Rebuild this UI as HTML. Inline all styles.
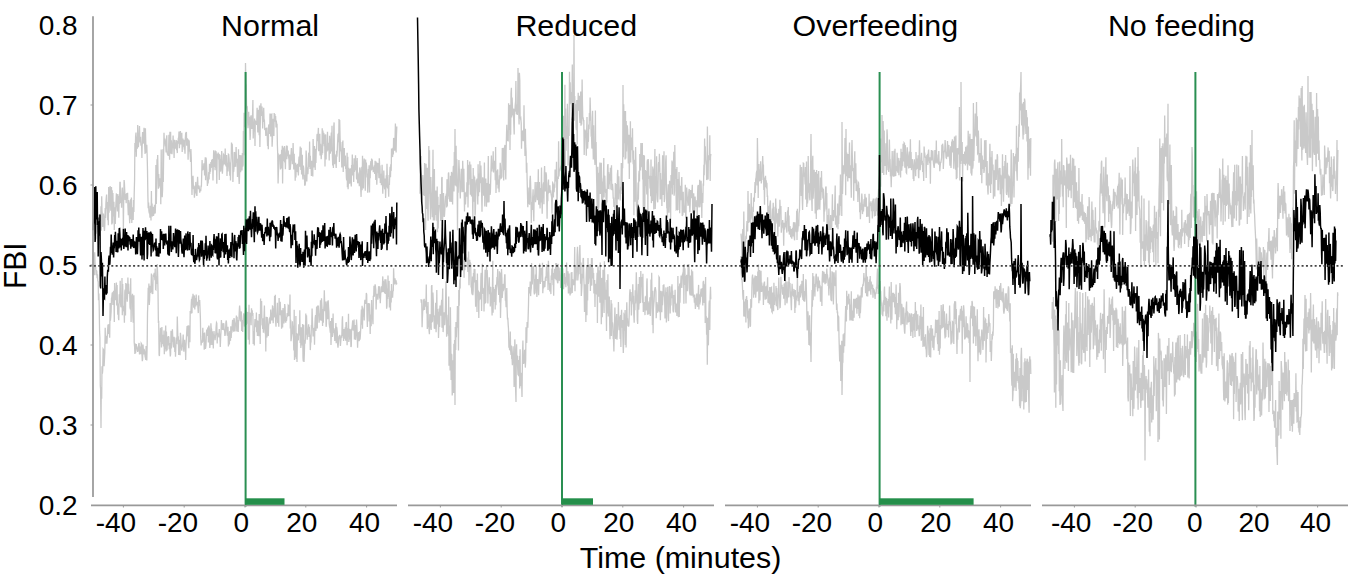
<!DOCTYPE html>
<html><head><meta charset="utf-8"><style>
html,body{margin:0;padding:0;background:#fff;}
body{width:1358px;height:583px;overflow:hidden;position:relative;font-family:"Liberation Sans",sans-serif;color:#000;}
svg{position:absolute;left:0;top:0;}
.t{position:absolute;white-space:nowrap;line-height:1;}
</style></head><body>
<svg width="1358" height="583" viewBox="0 0 1358 583"><polyline fill="none" stroke="#c9c9c9" stroke-width="1.3" stroke-linejoin="miter" points="94.0,235.7 94.3,233.4 94.7,212.3 95.0,226.9 95.4,217.0 95.7,217.9 96.1,233.7 96.4,220.4 96.8,206.7 97.1,226.5 97.5,217.9 97.8,226.1 98.2,232.0 98.5,220.9 98.9,216.7 99.2,214.7 99.6,221.4 99.9,214.8 100.3,214.3 100.6,221.3 101.0,206.3 101.3,230.8 101.7,196.2 102.0,210.8 102.4,214.8 102.7,227.0 103.1,220.9 103.4,213.6 103.8,217.0 104.1,227.6 104.5,230.9 104.8,225.1 105.2,208.0 105.5,218.0 105.9,203.9 106.2,198.7 106.6,194.6 106.9,207.6 107.3,209.2 107.6,220.2 108.0,202.1 108.3,225.3 108.7,187.1 109.0,212.7 109.4,204.5 109.7,204.3 110.1,186.0 110.4,195.7 110.8,210.7 111.1,199.3 111.5,187.1 111.8,224.4 112.2,190.2 112.5,223.5 112.9,192.9 113.2,205.8 113.6,216.5 113.9,201.7 114.3,230.1 114.6,207.2 115.0,209.7 115.3,223.9 115.7,209.5 116.0,201.7 116.4,193.4 116.7,206.6 117.1,205.7 117.4,211.5 117.8,194.0 118.1,196.2 118.5,206.3 118.8,217.7 119.2,195.9 119.5,204.1 119.9,182.4 120.2,182.4 120.6,201.7 120.9,202.9 121.3,200.1 121.6,207.8 122.0,190.2 122.3,187.5 122.7,197.6 123.0,193.8 123.4,228.4 123.7,199.5 124.1,180.0 124.4,183.0 124.8,191.7 125.1,199.9 125.5,197.7 125.8,193.9 126.2,203.3 126.5,194.5 126.9,193.2 127.2,198.7 127.6,192.7 127.9,205.7 128.3,215.1 128.6,200.0 129.0,204.8 129.3,214.5 129.7,223.3 130.0,205.3 130.4,201.0 130.7,199.5 131.1,219.2 131.4,197.6 131.8,222.9 132.1,207.3 132.5,209.7 132.8,208.6 133.2,220.1 133.5,199.9 133.9,212.1 134.2,193.7 134.6,179.5 134.9,143.1 135.3,151.8 135.6,136.5 136.0,132.5 136.3,156.8 136.7,136.5 137.0,137.5 137.4,148.7 137.7,125.0 138.1,140.8 138.4,147.2 138.8,140.5 139.1,136.4 139.5,125.9 139.8,138.7 140.2,142.4 140.5,136.7 140.9,145.1 141.2,145.5 141.6,143.9 141.9,158.0 142.3,137.9 142.6,132.0 143.0,137.0 143.3,142.9 143.7,142.5 144.0,127.8 144.4,132.6 144.7,145.7 145.1,153.9 145.4,128.3 145.8,143.5 146.1,152.1 146.5,151.9 146.8,144.7 147.2,157.5 147.5,170.1 147.9,195.9 148.2,208.2 148.6,202.6 148.9,210.8 149.3,213.5 149.6,210.8 150.0,217.6 150.3,205.7 150.7,207.6 151.0,220.5 151.4,190.9 151.7,211.3 152.1,203.4 152.4,216.4 152.8,207.6 153.1,206.8 153.5,216.0 153.8,214.0 154.2,213.4 154.5,204.8 154.9,206.1 155.2,213.5 155.6,201.4 155.9,164.9 156.3,204.0 156.6,190.4 157.0,159.3 157.3,164.8 157.7,155.0 158.0,171.3 158.4,188.8 158.7,174.1 159.1,184.5 159.4,186.2 159.8,178.2 160.1,187.8 160.5,178.7 160.8,204.3 161.2,149.4 161.5,180.2 161.9,173.9 162.2,197.3 162.6,189.6 162.9,149.2 163.3,182.1 163.6,158.7 164.0,132.7 164.3,144.1 164.7,138.5 165.0,140.3 165.4,146.5 165.7,145.0 166.1,152.4 166.4,139.2 166.8,135.3 167.1,151.9 167.5,154.7 167.8,152.9 168.2,155.9 168.5,154.3 168.9,134.8 169.2,142.1 169.6,159.8 169.9,131.7 170.3,141.9 170.6,131.7 171.0,153.8 171.3,140.4 171.7,145.4 172.0,154.2 172.4,145.8 172.7,147.2 173.1,135.5 173.4,146.7 173.8,148.7 174.1,157.9 174.5,139.7 174.8,143.3 175.2,146.0 175.5,148.5 175.9,147.4 176.2,140.0 176.6,150.1 176.9,145.8 177.3,153.1 177.6,140.7 178.0,143.7 178.3,138.4 178.7,137.6 179.0,131.5 179.4,148.3 179.7,141.1 180.1,136.8 180.4,131.0 180.8,144.4 181.1,141.3 181.5,143.7 181.8,132.8 182.2,152.0 182.5,143.1 182.9,138.6 183.2,145.4 183.6,146.2 183.9,139.8 184.3,149.6 184.6,145.3 185.0,153.8 185.3,139.1 185.7,132.5 186.0,137.3 186.4,131.9 186.7,145.8 187.1,139.6 187.4,138.4 187.8,142.1 188.1,159.8 188.5,139.6 188.8,140.8 189.2,141.0 189.5,151.1 189.9,151.7 190.2,154.7 190.6,162.0 190.9,149.1 191.3,158.6 191.6,178.8 192.0,195.0 192.3,176.4 192.7,187.3 193.0,175.8 193.4,187.4 193.7,186.9 194.1,190.1 194.4,197.7 194.8,192.7 195.1,185.9 195.5,193.1 195.8,181.9 196.2,192.2 196.5,194.3 196.9,195.9 197.2,186.5 197.6,176.9 197.9,184.4 198.3,186.7 198.6,189.2 199.0,185.5 199.3,187.7 199.7,192.7 200.0,190.2 200.4,189.1 200.7,191.1 201.1,185.5 201.4,186.7 201.8,171.1 202.1,160.0 202.5,170.4 202.8,167.5 203.2,169.1 203.5,168.7 203.9,163.4 204.2,166.3 204.6,175.5 204.9,164.1 205.3,157.3 205.6,180.3 206.0,157.6 206.3,160.3 206.7,168.8 207.0,174.5 207.4,186.0 207.7,181.2 208.1,183.5 208.4,178.7 208.8,172.0 209.1,179.5 209.5,163.8 209.8,174.0 210.2,164.5 210.5,171.6 210.9,162.1 211.2,167.9 211.6,161.4 211.9,159.7 212.3,167.1 212.6,159.1 213.0,180.4 213.3,164.5 213.7,150.3 214.0,152.4 214.4,167.0 214.7,158.8 215.1,170.3 215.4,150.4 215.8,167.7 216.1,151.3 216.5,161.3 216.8,183.8 217.2,153.7 217.5,156.0 217.9,155.8 218.2,152.6 218.6,159.4 218.9,155.8 219.3,180.1 219.6,155.0 220.0,155.4 220.3,166.2 220.7,171.6 221.0,158.9 221.4,168.9 221.7,150.9 222.1,169.7 222.4,173.8 222.8,166.7 223.1,164.9 223.5,154.5 223.8,155.0 224.2,164.5 224.5,161.1 224.9,163.9 225.2,148.4 225.6,165.5 225.9,159.7 226.3,166.6 226.6,155.1 227.0,175.9 227.3,162.8 227.7,168.8 228.0,171.4 228.4,154.1 228.7,154.3 229.1,158.5 229.4,165.6 229.8,175.6 230.1,162.5 230.5,180.4 230.8,163.3 231.2,157.9 231.5,142.5 231.9,147.8 232.2,143.7 232.6,153.9 232.9,181.9 233.3,167.4 233.6,172.0 234.0,168.3 234.3,152.1 234.7,167.1 235.0,152.7 235.4,152.9 235.7,166.8 236.1,147.0 236.4,157.5 236.8,162.6 237.1,159.3 237.5,176.9 237.8,158.7 238.2,171.8 238.5,149.2 238.9,177.4 239.2,184.0 239.6,175.6 239.9,155.0 240.3,158.2 240.6,172.1 241.0,164.2 241.3,155.2 241.7,162.4 242.0,170.6 242.4,152.9 242.7,166.7 243.1,164.9 243.4,130.9 243.8,155.3 244.1,112.7 244.5,127.0 244.8,121.5 245.2,122.8 245.5,63.0 245.9,83.6 246.2,85.3 246.6,107.4 246.9,108.6 247.3,107.9 247.6,121.0 248.0,128.1 248.3,124.4 248.7,111.8 249.0,125.3 249.4,116.9 249.7,124.6 250.1,139.9 250.4,134.2 250.8,116.6 251.1,115.4 251.5,123.3 251.8,128.9 252.2,127.5 252.5,117.7 252.9,100.1 253.2,138.4 253.6,124.7 253.9,131.5 254.3,123.9 254.6,118.6 255.0,146.0 255.3,121.0 255.7,121.5 256.0,123.1 256.4,121.2 256.7,125.0 257.1,107.7 257.4,119.0 257.8,132.6 258.1,116.3 258.5,109.7 258.8,116.4 259.2,135.3 259.5,105.6 259.9,146.9 260.2,128.1 260.6,110.4 260.9,103.2 261.3,111.8 261.6,115.9 262.0,106.6 262.3,113.0 262.7,128.5 263.0,111.7 263.4,120.3 263.7,107.8 264.1,121.9 264.4,119.6 264.8,130.1 265.1,129.5 265.5,128.0 265.8,135.9 266.2,127.9 266.5,130.7 266.9,127.6 267.2,135.4 267.6,146.0 267.9,137.9 268.3,149.2 268.6,126.2 269.0,124.5 269.3,126.0 269.7,133.9 270.0,113.6 270.4,125.1 270.7,136.4 271.1,113.7 271.4,115.5 271.8,114.9 272.1,146.7 272.5,137.4 272.8,126.1 273.2,118.7 273.5,120.8 273.9,136.1 274.2,113.1 274.6,120.0 274.9,114.1 275.3,121.8 275.6,115.9 276.0,127.4 276.3,120.6 276.7,124.8 277.0,123.7 277.4,145.2 277.7,153.4 278.1,183.5 278.4,172.6 278.8,164.1 279.1,155.3 279.5,156.0 279.8,155.7 280.2,155.3 280.5,169.5 280.9,164.0 281.2,168.4 281.6,149.7 281.9,163.4 282.3,145.7 282.6,183.6 283.0,150.9 283.3,147.5 283.7,161.3 284.0,157.1 284.4,145.9 284.7,162.6 285.1,159.1 285.4,169.3 285.8,153.5 286.1,149.3 286.5,145.6 286.8,159.2 287.2,145.7 287.5,156.1 287.9,154.8 288.2,150.6 288.6,158.1 288.9,158.2 289.3,170.1 289.6,154.6 290.0,156.9 290.3,169.7 290.7,163.5 291.0,154.7 291.4,148.1 291.7,160.4 292.1,154.2 292.4,164.3 292.8,157.1 293.1,143.1 293.5,159.0 293.8,169.6 294.2,153.8 294.5,167.0 294.9,167.1 295.2,180.8 295.6,162.8 295.9,177.6 296.3,167.2 296.7,164.6 297.0,170.8 297.4,171.3 297.7,163.8 298.1,170.6 298.4,175.4 298.8,160.0 299.1,156.6 299.5,166.8 299.8,156.6 300.2,146.5 300.5,158.9 300.9,169.9 301.2,147.8 301.6,174.4 301.9,160.2 302.3,154.8 302.6,174.8 303.0,179.5 303.3,165.6 303.7,168.2 304.0,174.9 304.4,175.3 304.7,185.0 305.1,185.0 305.4,183.5 305.8,172.3 306.1,150.6 306.5,157.9 306.8,181.4 307.2,168.2 307.5,168.3 307.9,174.1 308.2,168.3 308.6,153.8 308.9,152.6 309.3,167.1 309.6,141.5 310.0,168.9 310.3,155.8 310.7,165.2 311.0,161.9 311.4,175.9 311.7,160.7 312.1,173.3 312.4,163.7 312.8,176.4 313.1,139.1 313.5,154.8 313.8,167.6 314.2,147.0 314.5,146.0 314.9,160.0 315.2,170.1 315.6,149.1 315.9,162.9 316.3,148.5 316.6,149.7 317.0,134.8 317.3,134.1 317.7,141.3 318.0,134.8 318.4,127.9 318.7,151.2 319.1,138.7 319.4,136.5 319.8,133.8 320.1,155.6 320.5,143.8 320.8,146.8 321.2,159.3 321.5,153.5 321.9,154.9 322.2,128.2 322.6,153.2 322.9,130.5 323.3,144.0 323.6,132.9 324.0,134.0 324.3,146.3 324.7,134.7 325.0,166.6 325.4,138.2 325.7,134.4 326.1,159.6 326.4,146.0 326.8,149.1 327.1,151.5 327.5,131.7 327.8,149.3 328.2,146.1 328.5,150.5 328.9,142.8 329.2,160.6 329.6,135.7 329.9,140.9 330.3,153.8 330.6,145.7 331.0,142.7 331.3,132.4 331.7,151.4 332.0,125.7 332.4,156.9 332.7,165.6 333.1,157.3 333.4,168.0 333.8,126.3 334.1,122.4 334.5,164.3 334.8,154.1 335.2,162.3 335.5,155.2 335.9,163.8 336.2,168.0 336.6,150.7 336.9,156.7 337.3,150.6 337.6,142.6 338.0,134.4 338.3,133.9 338.7,142.3 339.0,119.0 339.4,162.1 339.7,120.0 340.1,138.5 340.4,143.7 340.8,151.5 341.1,150.3 341.5,155.2 341.8,167.6 342.2,141.9 342.5,152.8 342.9,140.5 343.2,171.9 343.6,160.9 343.9,162.2 344.3,148.1 344.6,166.1 345.0,157.8 345.3,155.4 345.7,168.9 346.0,165.8 346.4,177.6 346.7,180.5 347.1,152.7 347.4,187.2 347.8,156.7 348.1,189.2 348.5,180.1 348.8,167.7 349.2,174.6 349.5,183.7 349.9,181.2 350.2,169.4 350.6,169.1 350.9,182.5 351.3,186.5 351.6,164.9 352.0,169.6 352.3,154.4 352.7,175.6 353.0,165.9 353.4,165.4 353.7,182.0 354.1,158.3 354.4,172.0 354.8,169.3 355.1,169.9 355.5,155.3 355.8,166.5 356.2,160.8 356.5,178.2 356.9,178.9 357.2,157.9 357.6,182.2 357.9,183.3 358.3,174.3 358.6,183.3 359.0,172.4 359.3,186.2 359.7,167.6 360.0,168.2 360.4,171.4 360.7,188.2 361.1,196.9 361.4,180.3 361.8,166.7 362.1,190.3 362.5,155.8 362.8,187.1 363.2,180.3 363.5,188.5 363.9,161.6 364.2,158.5 364.6,166.9 364.9,163.9 365.3,190.8 365.6,159.5 366.0,170.2 366.3,162.5 366.7,169.3 367.0,177.5 367.4,173.8 367.7,192.8 368.1,182.7 368.4,168.9 368.8,172.9 369.1,165.2 369.5,192.6 369.8,168.6 370.2,178.3 370.5,164.5 370.9,161.1 371.2,170.6 371.6,158.6 371.9,169.8 372.3,159.4 372.6,167.7 373.0,166.7 373.3,172.2 373.7,166.9 374.0,170.4 374.4,165.2 374.7,174.0 375.1,160.8 375.4,164.5 375.8,180.0 376.1,161.4 376.5,173.6 376.8,184.7 377.2,172.0 377.5,162.8 377.9,172.6 378.2,163.0 378.6,171.0 378.9,178.3 379.3,158.3 379.6,164.9 380.0,166.1 380.3,183.0 380.7,175.1 381.0,173.7 381.4,185.2 381.7,178.4 382.1,164.8 382.4,179.4 382.8,193.7 383.1,179.3 383.5,184.7 383.8,170.5 384.2,184.8 384.5,188.4 384.9,189.2 385.2,178.5 385.6,198.0 385.9,187.9 386.3,175.3 386.6,187.6 387.0,163.7 387.3,176.7 387.7,187.5 388.0,187.3 388.4,188.4 388.7,196.7 389.1,174.9 389.4,184.9 389.8,172.5 390.1,166.8 390.5,177.2 390.8,164.2 391.2,170.9 391.5,148.5 391.9,156.4 392.2,154.7 392.6,157.1 392.9,147.7 393.3,154.6 393.6,138.0 394.0,138.9 394.3,142.0 394.7,150.8 395.0,140.9 395.4,123.4 395.7,134.2 396.1,152.5 396.4,137.3 396.8,126.4"/>
<polyline fill="none" stroke="#c9c9c9" stroke-width="1.3" stroke-linejoin="miter" points="94.0,254.4 94.3,275.3 94.7,252.3 95.0,262.0 95.4,268.3 95.7,266.7 96.1,275.2 96.4,270.3 96.8,271.4 97.1,278.2 97.5,274.4 97.8,280.8 98.2,281.7 98.5,300.3 98.9,293.6 99.2,306.2 99.6,331.9 99.9,337.6 100.3,385.9 100.6,389.3 101.0,428.0 101.3,386.9 101.7,398.7 102.0,366.3 102.4,373.7 102.7,370.3 103.1,349.0 103.4,349.5 103.8,351.0 104.1,366.2 104.5,358.5 104.8,352.4 105.2,327.8 105.5,343.6 105.9,342.1 106.2,336.9 106.6,336.0 106.9,343.6 107.3,336.5 107.6,330.5 108.0,324.5 108.3,333.8 108.7,332.0 109.0,324.1 109.4,333.8 109.7,337.7 110.1,303.0 110.4,320.7 110.8,316.5 111.1,311.8 111.5,298.2 111.8,297.7 112.2,293.2 112.5,293.0 112.9,304.9 113.2,294.8 113.6,290.9 113.9,296.6 114.3,322.1 114.6,283.0 115.0,292.6 115.3,300.2 115.7,294.3 116.0,298.6 116.4,282.4 116.7,305.4 117.1,284.9 117.4,302.7 117.8,314.8 118.1,303.5 118.5,318.5 118.8,320.2 119.2,294.2 119.5,303.2 119.9,295.0 120.2,280.7 120.6,304.2 120.9,307.1 121.3,296.0 121.6,307.5 122.0,278.1 122.3,315.3 122.7,283.9 123.0,307.4 123.4,305.8 123.7,311.5 124.1,310.3 124.4,322.7 124.8,292.4 125.1,289.5 125.5,315.5 125.8,283.0 126.2,299.3 126.5,283.8 126.9,292.7 127.2,301.8 127.6,294.1 127.9,277.6 128.3,293.6 128.6,283.9 129.0,293.9 129.3,291.5 129.7,293.1 130.0,307.2 130.4,309.3 130.7,278.2 131.1,322.1 131.4,295.3 131.8,298.7 132.1,302.5 132.5,293.8 132.8,315.2 133.2,322.6 133.5,301.0 133.9,295.3 134.2,342.3 134.6,346.8 134.9,354.0 135.3,343.6 135.6,353.2 136.0,345.6 136.3,344.2 136.7,347.6 137.0,347.4 137.4,350.6 137.7,351.8 138.1,350.1 138.4,348.1 138.8,343.8 139.1,342.9 139.5,354.5 139.8,349.9 140.2,347.7 140.5,346.7 140.9,354.1 141.2,343.3 141.6,344.0 141.9,352.8 142.3,361.1 142.6,359.4 143.0,344.6 143.3,349.0 143.7,354.5 144.0,348.9 144.4,350.4 144.7,352.1 145.1,356.7 145.4,357.6 145.8,359.8 146.1,345.9 146.5,355.2 146.8,360.5 147.2,344.1 147.5,312.9 147.9,301.9 148.2,287.7 148.6,295.0 148.9,283.6 149.3,305.0 149.6,300.1 150.0,285.8 150.3,292.7 150.7,291.6 151.0,290.5 151.4,273.5 151.7,287.0 152.1,293.8 152.4,285.6 152.8,294.1 153.1,275.2 153.5,275.1 153.8,275.6 154.2,272.9 154.5,275.0 154.9,280.1 155.2,268.4 155.6,289.5 155.9,289.8 156.3,276.2 156.6,283.9 157.0,268.7 157.3,264.0 157.7,276.2 158.0,290.5 158.4,323.1 158.7,320.7 159.1,354.7 159.4,356.1 159.8,341.4 160.1,337.2 160.5,327.8 160.8,341.6 161.2,338.9 161.5,347.5 161.9,327.0 162.2,341.6 162.6,343.9 162.9,334.8 163.3,344.3 163.6,346.5 164.0,330.6 164.3,354.2 164.7,345.4 165.0,349.2 165.4,334.8 165.7,325.5 166.1,351.4 166.4,331.6 166.8,344.7 167.1,350.5 167.5,336.6 167.8,339.3 168.2,345.4 168.5,336.1 168.9,337.4 169.2,349.3 169.6,343.1 169.9,349.9 170.3,356.5 170.6,354.2 171.0,330.8 171.3,348.4 171.7,335.0 172.0,341.8 172.4,329.2 172.7,335.8 173.1,344.2 173.4,347.5 173.8,340.2 174.1,336.7 174.5,340.4 174.8,352.1 175.2,345.9 175.5,356.8 175.9,346.1 176.2,337.5 176.6,343.2 176.9,343.4 177.3,316.4 177.6,328.1 178.0,340.7 178.3,336.2 178.7,354.9 179.0,351.6 179.4,339.8 179.7,347.4 180.1,355.3 180.4,332.7 180.8,336.5 181.1,343.2 181.5,347.9 181.8,350.7 182.2,344.9 182.5,346.9 182.9,339.3 183.2,334.6 183.6,349.0 183.9,351.7 184.3,344.5 184.6,339.8 185.0,349.1 185.3,345.2 185.7,360.0 186.0,345.3 186.4,338.1 186.7,332.2 187.1,326.1 187.4,335.7 187.8,335.6 188.1,325.3 188.5,344.2 188.8,348.3 189.2,325.6 189.5,337.5 189.9,342.2 190.2,310.9 190.6,311.9 190.9,312.3 191.3,302.9 191.6,298.9 192.0,313.2 192.3,296.4 192.7,302.8 193.0,293.8 193.4,303.2 193.7,307.7 194.1,302.2 194.4,295.4 194.8,309.5 195.1,298.7 195.5,298.6 195.8,306.4 196.2,294.6 196.5,303.8 196.9,301.9 197.2,305.3 197.6,301.7 197.9,307.8 198.3,313.1 198.6,295.4 199.0,304.9 199.3,304.6 199.7,300.1 200.0,308.1 200.4,318.0 200.7,336.9 201.1,345.4 201.4,341.7 201.8,340.5 202.1,343.0 202.5,338.8 202.8,327.8 203.2,341.7 203.5,333.9 203.9,333.1 204.2,349.8 204.6,332.5 204.9,343.3 205.3,348.9 205.6,348.0 206.0,345.0 206.3,336.3 206.7,329.6 207.0,335.7 207.4,334.3 207.7,328.5 208.1,327.8 208.4,342.5 208.8,325.6 209.1,326.9 209.5,330.1 209.8,347.9 210.2,342.5 210.5,345.0 210.9,323.3 211.2,328.4 211.6,329.1 211.9,345.1 212.3,331.3 212.6,338.5 213.0,337.4 213.3,348.4 213.7,334.7 214.0,331.1 214.4,337.4 214.7,335.3 215.1,340.1 215.4,336.8 215.8,333.8 216.1,327.3 216.5,322.6 216.8,323.2 217.2,343.5 217.5,332.8 217.9,337.0 218.2,336.6 218.6,335.6 218.9,334.5 219.3,329.0 219.6,336.2 220.0,338.5 220.3,346.9 220.7,336.2 221.0,331.7 221.4,320.0 221.7,329.8 222.1,323.6 222.4,328.2 222.8,329.9 223.1,324.6 223.5,325.2 223.8,323.2 224.2,330.4 224.5,328.9 224.9,335.9 225.2,335.0 225.6,329.5 225.9,322.4 226.3,320.5 226.6,323.8 227.0,332.8 227.3,335.8 227.7,333.8 228.0,326.7 228.4,346.4 228.7,342.1 229.1,332.6 229.4,344.5 229.8,331.0 230.1,338.7 230.5,340.8 230.8,326.3 231.2,337.9 231.5,331.5 231.9,332.8 232.2,325.5 232.6,319.8 232.9,330.5 233.3,327.8 233.6,331.8 234.0,318.0 234.3,319.7 234.7,329.9 235.0,331.4 235.4,324.1 235.7,323.5 236.1,320.8 236.4,315.6 236.8,331.5 237.1,316.7 237.5,329.2 237.8,320.0 238.2,332.0 238.5,321.6 238.9,320.4 239.2,312.5 239.6,305.6 239.9,309.4 240.3,318.5 240.6,321.5 241.0,313.5 241.3,311.4 241.7,330.9 242.0,322.6 242.4,319.9 242.7,332.0 243.1,321.3 243.4,316.1 243.8,313.4 244.1,315.9 244.5,326.6 244.8,320.0 245.2,320.3 245.5,310.7 245.9,307.8 246.2,325.0 246.6,311.5 246.9,319.3 247.3,323.8 247.6,312.0 248.0,321.0 248.3,339.7 248.7,329.7 249.0,304.8 249.4,344.5 249.7,313.3 250.1,313.2 250.4,313.7 250.8,314.7 251.1,325.2 251.5,308.2 251.8,312.8 252.2,310.3 252.5,315.7 252.9,312.9 253.2,344.1 253.6,330.9 253.9,332.2 254.3,345.6 254.6,326.7 255.0,319.1 255.3,325.5 255.7,322.2 256.0,327.2 256.4,312.6 256.7,332.2 257.1,320.3 257.4,335.9 257.8,331.8 258.1,320.8 258.5,324.5 258.8,336.3 259.2,314.1 259.5,325.4 259.9,317.7 260.2,343.9 260.6,298.4 260.9,318.1 261.3,312.8 261.6,301.0 262.0,324.0 262.3,323.7 262.7,328.9 263.0,318.3 263.4,332.7 263.7,325.9 264.1,314.4 264.4,305.6 264.8,326.6 265.1,333.4 265.5,332.2 265.8,351.6 266.2,316.7 266.5,327.8 266.9,337.6 267.2,317.0 267.6,325.9 267.9,328.3 268.3,336.1 268.6,325.9 269.0,323.0 269.3,319.0 269.7,318.2 270.0,321.9 270.4,323.7 270.7,309.6 271.1,316.9 271.4,318.8 271.8,320.4 272.1,316.6 272.5,306.2 272.8,306.5 273.2,323.3 273.5,308.3 273.9,309.1 274.2,317.4 274.6,296.0 274.9,316.7 275.3,294.8 275.6,320.9 276.0,326.7 276.3,317.5 276.7,318.0 277.0,312.6 277.4,302.8 277.7,323.0 278.1,321.1 278.4,317.1 278.8,326.7 279.1,298.0 279.5,307.3 279.8,315.1 280.2,301.7 280.5,308.8 280.9,314.0 281.2,316.5 281.6,328.7 281.9,310.3 282.3,314.7 282.6,327.6 283.0,308.0 283.3,320.8 283.7,321.4 284.0,323.4 284.4,310.2 284.7,304.0 285.1,307.1 285.4,320.8 285.8,322.6 286.1,317.1 286.5,321.0 286.8,317.6 287.2,313.1 287.5,316.0 287.9,315.3 288.2,305.3 288.6,305.8 288.9,316.3 289.3,306.9 289.6,312.5 290.0,294.6 290.3,328.6 290.7,319.7 291.0,341.3 291.4,337.7 291.7,334.6 292.1,333.6 292.4,321.2 292.8,330.7 293.1,325.8 293.5,338.7 293.8,350.5 294.2,309.7 294.5,359.9 294.9,336.3 295.2,337.1 295.6,357.2 295.9,316.1 296.3,359.1 296.7,332.9 297.0,362.0 297.4,333.7 297.7,336.1 298.1,340.4 298.4,339.3 298.8,324.3 299.1,335.3 299.5,333.9 299.8,310.2 300.2,343.1 300.5,338.1 300.9,347.9 301.2,327.3 301.6,337.2 301.9,328.3 302.3,345.5 302.6,323.9 303.0,357.9 303.3,361.4 303.7,324.7 304.0,362.0 304.4,352.1 304.7,340.1 305.1,343.6 305.4,338.8 305.8,313.6 306.1,334.8 306.5,315.3 306.8,325.4 307.2,339.7 307.5,332.4 307.9,333.3 308.2,329.2 308.6,324.2 308.9,337.0 309.3,326.7 309.6,333.6 310.0,336.7 310.3,350.1 310.7,342.3 311.0,342.1 311.4,324.9 311.7,328.2 312.1,308.5 312.4,320.3 312.8,330.0 313.1,336.5 313.5,333.1 313.8,328.5 314.2,328.2 314.5,344.8 314.9,325.6 315.2,318.1 315.6,315.1 315.9,331.1 316.3,316.7 316.6,306.6 317.0,307.8 317.3,328.4 317.7,305.5 318.0,308.5 318.4,305.5 318.7,311.5 319.1,322.8 319.4,317.7 319.8,313.5 320.1,320.1 320.5,300.3 320.8,301.7 321.2,320.7 321.5,298.3 321.9,306.0 322.2,313.5 322.6,325.9 322.9,309.0 323.3,322.7 323.6,311.0 324.0,305.1 324.3,290.2 324.7,304.0 325.0,311.3 325.4,301.6 325.7,307.7 326.1,326.8 326.4,324.4 326.8,304.9 327.1,301.3 327.5,316.1 327.8,319.2 328.2,300.2 328.5,306.6 328.9,311.7 329.2,324.0 329.6,327.2 329.9,328.3 330.3,332.6 330.6,321.1 331.0,345.0 331.3,333.1 331.7,318.0 332.0,328.7 332.4,337.0 332.7,334.2 333.1,313.5 333.4,333.0 333.8,329.9 334.1,329.5 334.5,334.8 334.8,340.9 335.2,330.1 335.5,331.4 335.9,323.0 336.2,343.2 336.6,326.9 336.9,328.4 337.3,332.4 337.6,343.9 338.0,347.6 338.3,344.2 338.7,338.6 339.0,335.8 339.4,338.7 339.7,334.7 340.1,338.6 340.4,345.9 340.8,341.0 341.1,337.7 341.5,335.4 341.8,337.7 342.2,320.8 342.5,316.3 342.9,336.0 343.2,329.0 343.6,340.9 343.9,335.5 344.3,329.1 344.6,338.6 345.0,331.4 345.3,327.4 345.7,340.7 346.0,322.8 346.4,322.7 346.7,332.6 347.1,345.2 347.4,337.1 347.8,328.3 348.1,335.1 348.5,313.7 348.8,341.9 349.2,338.8 349.5,328.7 349.9,336.4 350.2,339.5 350.6,329.3 350.9,346.9 351.3,346.1 351.6,329.4 352.0,328.3 352.3,325.0 352.7,320.4 353.0,330.6 353.4,329.1 353.7,330.1 354.1,319.4 354.4,339.5 354.8,330.3 355.1,325.0 355.5,339.8 355.8,337.4 356.2,331.5 356.5,319.6 356.9,326.3 357.2,334.4 357.6,347.8 357.9,337.2 358.3,333.3 358.6,332.3 359.0,341.0 359.3,340.3 359.7,331.2 360.0,339.7 360.4,335.3 360.7,328.8 361.1,317.1 361.4,309.5 361.8,324.8 362.1,305.8 362.5,328.7 362.8,307.6 363.2,316.7 363.5,310.6 363.9,310.1 364.2,320.5 364.6,302.8 364.9,299.9 365.3,301.6 365.6,302.9 366.0,303.8 366.3,293.0 366.7,294.7 367.0,316.3 367.4,326.9 367.7,303.2 368.1,307.7 368.4,307.9 368.8,303.1 369.1,321.5 369.5,303.6 369.8,315.7 370.2,333.9 370.5,314.4 370.9,320.4 371.2,326.3 371.6,300.1 371.9,310.7 372.3,309.2 372.6,318.3 373.0,324.2 373.3,295.8 373.7,296.6 374.0,285.8 374.4,296.8 374.7,291.1 375.1,284.3 375.4,286.0 375.8,290.0 376.1,309.6 376.5,297.2 376.8,293.8 377.2,295.4 377.5,294.9 377.9,299.7 378.2,294.4 378.6,286.4 378.9,287.2 379.3,286.2 379.6,298.6 380.0,293.7 380.3,303.3 380.7,294.3 381.0,288.0 381.4,286.3 381.7,292.5 382.1,290.4 382.4,285.8 382.8,276.4 383.1,291.9 383.5,288.8 383.8,282.3 384.2,283.0 384.5,293.0 384.9,279.3 385.2,294.1 385.6,283.5 385.9,279.3 386.3,284.9 386.6,308.7 387.0,305.9 387.3,288.5 387.7,298.9 388.0,275.6 388.4,296.9 388.7,281.8 389.1,281.7 389.4,307.4 389.8,299.8 390.1,299.4 390.5,310.4 390.8,290.8 391.2,302.4 391.5,284.0 391.9,294.5 392.2,292.3 392.6,297.6 392.9,291.2 393.3,290.7 393.6,268.3 394.0,279.9 394.3,282.9 394.7,283.6 395.0,278.2 395.4,282.8 395.7,283.6 396.1,280.3 396.4,284.5 396.8,282.6"/>
<polyline fill="none" stroke="#c9c9c9" stroke-width="1.3" stroke-linejoin="miter" points="420.0,193.8 420.4,149.5 420.7,176.1 421.1,156.1 421.4,184.4 421.8,202.9 422.1,185.8 422.5,183.5 422.8,175.1 423.2,183.0 423.5,195.0 423.9,184.3 424.2,195.9 424.6,162.9 424.9,194.1 425.3,172.4 425.6,229.9 426.0,163.8 426.3,176.1 426.7,172.9 427.0,208.9 427.4,167.7 427.7,207.6 428.1,220.7 428.4,186.1 428.8,146.0 429.1,193.8 429.5,150.3 429.8,195.9 430.2,205.1 430.5,219.4 430.9,177.1 431.2,191.6 431.6,199.9 431.9,207.1 432.3,217.2 432.6,192.9 433.0,149.8 433.3,220.5 433.7,214.0 434.0,211.2 434.4,169.0 434.7,220.4 435.1,211.9 435.4,208.4 435.8,190.5 436.1,214.9 436.5,197.0 436.8,220.8 437.2,186.6 437.5,232.3 437.9,196.7 438.2,228.6 438.6,213.9 438.9,210.7 439.3,205.1 439.6,206.5 440.0,204.9 440.3,194.0 440.7,220.7 441.0,219.9 441.4,207.6 441.7,178.1 442.1,177.1 442.4,226.0 442.8,214.6 443.1,205.1 443.5,193.1 443.8,207.9 444.2,217.0 444.5,215.4 444.9,208.7 445.2,201.2 445.6,195.8 445.9,200.6 446.3,193.5 446.6,207.4 447.0,179.2 447.3,206.5 447.7,182.3 448.0,196.6 448.4,173.2 448.7,172.4 449.1,199.2 449.4,193.4 449.8,201.7 450.1,196.2 450.5,175.7 450.8,188.8 451.2,202.1 451.5,171.9 451.9,173.8 452.2,175.8 452.6,204.5 452.9,181.1 453.3,166.7 453.6,165.9 454.0,191.5 454.3,152.0 454.7,176.2 455.0,129.0 455.4,185.6 455.7,178.4 456.1,145.8 456.4,186.4 456.8,159.3 457.1,178.8 457.5,230.2 457.8,179.3 458.2,192.8 458.5,176.1 458.9,160.0 459.2,167.6 459.6,174.2 459.9,187.3 460.3,198.5 460.6,181.8 461.0,186.7 461.3,168.7 461.7,186.2 462.0,192.2 462.4,180.8 462.7,160.7 463.1,175.1 463.4,191.9 463.8,168.8 464.1,184.2 464.5,211.5 464.8,193.0 465.2,193.1 465.5,204.5 465.9,194.4 466.2,191.7 466.6,196.7 466.9,182.3 467.3,193.9 467.6,160.0 468.0,207.6 468.3,179.2 468.7,184.7 469.0,164.8 469.4,178.7 469.7,161.5 470.1,173.1 470.4,194.7 470.8,164.6 471.1,178.4 471.5,196.5 471.8,193.3 472.2,178.9 472.5,195.7 472.9,220.4 473.2,168.1 473.6,199.7 473.9,175.5 474.3,201.7 474.6,176.7 475.0,215.7 475.3,213.7 475.7,198.0 476.0,183.0 476.4,179.9 476.7,180.8 477.1,178.5 477.4,190.4 477.8,204.6 478.1,164.2 478.5,196.3 478.8,173.6 479.2,179.2 479.5,192.2 479.9,160.9 480.2,176.6 480.6,183.2 480.9,165.4 481.3,179.3 481.6,192.0 482.0,211.8 482.3,192.8 482.7,177.2 483.0,179.9 483.4,184.7 483.7,195.7 484.1,192.6 484.4,162.4 484.8,206.4 485.1,188.9 485.5,188.7 485.8,178.6 486.2,191.9 486.5,206.8 486.9,183.0 487.2,188.0 487.6,202.5 487.9,190.6 488.3,156.0 488.6,193.1 489.0,202.4 489.3,183.7 489.7,190.2 490.0,195.0 490.4,192.2 490.7,180.2 491.1,165.2 491.4,155.6 491.8,171.5 492.1,165.7 492.5,165.9 492.8,168.7 493.2,151.2 493.5,172.5 493.9,166.3 494.2,160.7 494.6,166.7 494.9,164.8 495.3,180.2 495.6,147.1 496.0,192.9 496.3,176.5 496.7,184.7 497.0,170.6 497.4,176.3 497.7,169.4 498.1,188.5 498.4,179.4 498.8,185.9 499.1,192.3 499.5,175.2 499.8,180.3 500.2,162.7 500.5,166.1 500.9,174.9 501.2,178.7 501.6,175.1 501.9,177.4 502.3,148.0 502.6,159.1 503.0,157.3 503.3,147.8 503.7,180.4 504.0,155.7 504.4,169.9 504.7,146.0 505.1,145.1 505.4,165.4 505.8,179.5 506.1,151.0 506.5,135.5 506.8,124.8 507.2,140.9 507.5,130.7 507.9,132.3 508.2,141.6 508.6,103.2 508.9,130.1 509.3,112.8 509.6,105.1 510.0,150.0 510.3,104.8 510.7,134.8 511.0,93.2 511.4,87.7 511.7,117.5 512.1,97.6 512.4,105.4 512.8,115.5 513.1,108.7 513.5,111.5 513.8,123.7 514.2,134.4 514.5,108.8 514.9,111.6 515.2,105.3 515.6,101.2 515.9,81.0 516.3,114.2 516.6,107.7 517.0,104.5 517.3,114.9 517.7,103.8 518.0,68.0 518.4,101.5 518.7,110.9 519.1,124.5 519.4,72.8 519.8,80.4 520.1,116.8 520.5,118.6 520.8,118.1 521.2,123.2 521.5,148.7 521.9,130.9 522.2,135.6 522.6,140.6 522.9,130.3 523.3,140.7 523.6,140.7 524.0,105.3 524.3,132.2 524.7,140.3 525.0,156.1 525.4,128.8 525.7,145.9 526.1,151.8 526.4,172.7 526.8,162.8 527.1,178.4 527.5,194.4 527.8,207.3 528.2,197.3 528.5,203.9 528.9,187.5 529.2,188.5 529.6,204.8 529.9,180.8 530.3,175.8 530.6,182.7 531.0,197.4 531.3,223.0 531.7,204.3 532.0,202.1 532.4,209.9 532.7,197.7 533.1,189.3 533.4,204.0 533.8,221.2 534.1,200.1 534.5,196.8 534.8,194.1 535.2,182.1 535.5,202.2 535.9,196.7 536.2,195.9 536.6,190.8 536.9,182.0 537.3,200.2 537.6,189.8 538.0,193.0 538.3,169.2 538.7,204.7 539.0,195.8 539.4,181.9 539.7,199.8 540.1,208.4 540.4,196.2 540.8,188.0 541.1,202.5 541.5,167.5 541.8,193.7 542.2,213.8 542.5,193.9 542.9,198.3 543.2,184.9 543.6,182.3 543.9,204.2 544.3,173.4 544.6,166.0 545.0,181.4 545.3,191.5 545.7,179.7 546.0,172.3 546.4,175.4 546.7,196.9 547.1,218.8 547.4,197.1 547.8,201.2 548.1,183.3 548.5,179.5 548.8,192.7 549.2,192.3 549.5,189.9 549.9,185.4 550.2,192.6 550.6,190.3 550.9,193.0 551.3,195.5 551.6,197.4 552.0,213.7 552.3,199.9 552.7,182.7 553.0,183.1 553.4,197.5 553.7,184.3 554.1,192.3 554.4,186.8 554.8,186.9 555.1,169.4 555.5,174.3 555.8,177.4 556.2,181.4 556.5,161.7 556.9,206.4 557.2,202.6 557.6,176.6 557.9,177.2 558.3,179.1 558.6,141.3 559.0,176.5 559.3,170.8 559.7,170.5 560.0,170.5 560.4,168.4 560.7,166.8 561.1,167.4 561.4,137.9 561.8,162.4 562.1,155.2 562.5,155.9 562.8,141.9 563.2,136.4 563.5,115.7 563.9,137.0 564.2,138.1 564.6,139.9 564.9,84.7 565.3,166.6 565.6,108.5 566.0,150.7 566.3,130.4 566.7,126.0 567.0,138.9 567.4,103.8 567.7,116.8 568.1,165.4 568.4,130.8 568.8,127.8 569.1,136.0 569.5,71.7 569.8,104.3 570.2,82.2 570.5,103.1 570.9,91.9 571.2,98.5 571.6,120.2 571.9,102.0 572.3,64.6 572.6,103.3 573.0,97.8 573.3,115.6 573.7,101.6 574.0,35.0 574.4,120.8 574.7,96.1 575.1,107.3 575.4,104.4 575.8,105.4 576.1,127.3 576.5,130.1 576.8,100.0 577.2,144.5 577.5,102.2 577.9,110.9 578.2,92.7 578.6,110.7 578.9,102.7 579.3,95.7 579.6,114.8 580.0,122.9 580.3,117.5 580.7,91.5 581.0,125.8 581.4,120.1 581.7,124.5 582.1,79.6 582.4,101.0 582.8,118.7 583.1,117.4 583.5,121.1 583.8,120.1 584.2,155.1 584.5,141.0 584.9,129.6 585.2,137.6 585.6,130.6 585.9,134.9 586.3,155.7 586.6,134.6 587.0,116.9 587.3,145.3 587.7,148.6 588.0,133.3 588.4,141.9 588.7,124.4 589.1,129.2 589.4,112.9 589.8,120.6 590.1,97.4 590.5,111.2 590.8,116.9 591.2,136.8 591.5,135.6 591.9,148.6 592.2,143.3 592.6,110.8 592.9,137.3 593.3,159.6 593.6,125.2 594.0,156.0 594.3,144.1 594.7,159.4 595.0,164.9 595.4,110.6 595.7,159.5 596.1,142.0 596.4,167.9 596.8,185.7 597.1,208.0 597.5,204.6 597.8,166.8 598.2,196.9 598.5,209.4 598.9,206.5 599.2,172.7 599.6,177.4 599.9,162.6 600.3,193.9 600.6,188.0 601.0,172.5 601.3,162.7 601.7,204.7 602.0,181.5 602.4,204.2 602.7,214.1 603.1,179.1 603.4,177.4 603.8,158.1 604.1,197.4 604.5,176.2 604.8,176.3 605.2,188.6 605.5,191.3 605.9,190.7 606.2,212.4 606.6,195.4 606.9,202.6 607.3,181.7 607.6,166.1 608.0,164.0 608.3,189.0 608.7,172.1 609.0,184.1 609.4,173.8 609.7,176.7 610.1,189.5 610.4,167.7 610.8,180.6 611.1,175.2 611.5,165.2 611.8,189.6 612.2,189.8 612.5,183.9 612.9,189.4 613.2,198.8 613.6,197.5 613.9,206.9 614.3,205.3 614.6,202.0 615.0,218.1 615.3,182.9 615.7,199.2 616.0,193.0 616.4,183.9 616.7,207.9 617.1,204.5 617.4,174.6 617.8,169.9 618.1,190.3 618.5,199.4 618.8,176.3 619.2,193.1 619.5,189.7 619.9,190.7 620.2,200.4 620.6,186.7 620.9,194.0 621.3,163.0 621.6,179.9 622.0,190.6 622.3,163.1 622.7,168.3 623.0,85.0 623.4,157.3 623.7,104.2 624.1,140.3 624.4,143.1 624.8,110.9 625.1,159.6 625.5,111.1 625.8,158.5 626.2,121.0 626.5,151.6 626.9,131.5 627.2,125.4 627.6,129.3 627.9,141.2 628.3,163.5 628.6,145.0 629.0,134.7 629.3,179.0 629.7,141.7 630.0,159.7 630.4,121.2 630.7,162.5 631.1,137.5 631.4,147.3 631.8,150.1 632.1,147.7 632.5,128.2 632.8,157.6 633.2,164.1 633.5,150.6 633.9,215.2 634.2,159.7 634.6,171.0 634.9,201.7 635.3,172.3 635.6,146.9 636.0,167.4 636.3,204.8 636.7,207.9 637.0,216.1 637.4,216.7 637.7,195.8 638.1,182.5 638.4,199.8 638.8,175.0 639.1,170.9 639.5,181.4 639.8,154.0 640.2,155.7 640.5,170.4 640.9,143.0 641.2,163.6 641.6,153.9 641.9,167.3 642.3,143.0 642.6,179.5 643.0,167.5 643.3,214.4 643.7,155.0 644.0,156.7 644.4,156.5 644.7,215.9 645.1,180.9 645.4,169.9 645.8,185.9 646.1,171.0 646.5,185.5 646.8,194.6 647.2,162.0 647.5,159.6 647.9,215.1 648.2,159.0 648.6,165.6 648.9,176.7 649.3,179.0 649.6,175.8 650.0,188.4 650.3,180.5 650.7,196.2 651.0,159.6 651.4,203.1 651.7,197.9 652.1,176.1 652.4,200.9 652.8,166.5 653.1,188.1 653.5,183.5 653.8,209.5 654.2,168.4 654.5,171.6 654.9,149.1 655.2,209.0 655.6,198.4 655.9,176.0 656.3,192.6 656.6,156.2 657.0,192.6 657.3,199.2 657.7,202.3 658.0,195.3 658.4,164.2 658.7,162.2 659.1,171.7 659.4,153.8 659.8,167.6 660.1,199.4 660.5,173.1 660.8,195.9 661.2,199.0 661.5,179.6 661.9,206.1 662.2,179.8 662.6,155.2 662.9,180.2 663.3,194.9 663.6,178.5 664.0,151.2 664.3,202.1 664.7,198.4 665.0,185.7 665.4,177.0 665.7,161.2 666.1,155.3 666.4,187.6 666.8,208.6 667.1,207.6 667.5,217.5 667.8,193.5 668.2,184.3 668.5,186.1 668.9,212.7 669.2,204.2 669.6,180.8 669.9,197.7 670.3,193.6 670.6,223.0 671.0,175.0 671.3,187.7 671.7,176.8 672.0,160.4 672.4,194.6 672.7,161.7 673.1,185.1 673.4,173.1 673.8,151.8 674.1,195.8 674.5,190.6 674.8,145.0 675.2,173.1 675.5,178.7 675.9,169.1 676.2,209.1 676.6,208.5 676.9,167.0 677.3,210.6 677.6,179.0 678.0,210.0 678.3,184.2 678.7,192.2 679.0,172.0 679.4,187.7 679.7,213.3 680.1,194.3 680.4,185.7 680.8,189.0 681.1,200.2 681.5,182.7 681.8,177.0 682.2,216.1 682.5,211.7 682.9,215.2 683.2,191.8 683.6,212.3 683.9,211.3 684.3,212.0 684.6,211.6 685.0,202.1 685.3,184.8 685.7,218.3 686.0,215.8 686.4,190.1 686.7,187.5 687.1,195.1 687.4,198.2 687.8,203.3 688.1,205.8 688.5,202.3 688.8,192.6 689.2,188.9 689.5,203.4 689.9,212.2 690.2,204.2 690.6,190.0 690.9,194.7 691.3,198.1 691.6,193.0 692.0,190.2 692.3,184.8 692.7,213.3 693.0,209.6 693.4,195.9 693.7,193.2 694.1,213.7 694.4,213.6 694.8,210.2 695.1,196.5 695.5,205.6 695.8,205.9 696.2,201.9 696.5,204.1 696.9,200.0 697.2,220.5 697.6,192.9 697.9,186.3 698.3,185.0 698.6,204.7 699.0,207.5 699.3,194.3 699.7,179.7 700.0,207.3 700.4,200.3 700.7,191.2 701.1,180.8 701.4,192.0 701.8,218.0 702.1,196.7 702.5,193.0 702.8,203.1 703.2,183.5 703.5,185.7 703.9,164.7 704.2,175.3 704.6,138.4 704.9,156.5 705.3,146.3 705.6,159.0 706.0,164.0 706.3,164.7 706.7,180.0 707.0,178.5 707.4,126.5 707.7,156.8 708.1,179.4 708.4,155.2 708.8,158.1 709.1,157.0 709.5,160.2 709.8,135.2 710.2,180.9 710.5,157.0 710.9,154.0"/>
<polyline fill="none" stroke="#c9c9c9" stroke-width="1.3" stroke-linejoin="miter" points="421.0,299.3 421.4,302.9 421.7,299.5 422.1,327.2 422.4,318.1 422.8,308.8 423.1,310.7 423.5,299.6 423.8,310.1 424.2,298.8 424.5,309.9 424.9,300.8 425.2,306.7 425.6,305.2 425.9,305.4 426.3,284.5 426.6,313.5 427.0,306.3 427.3,329.0 427.7,318.2 428.0,302.0 428.4,327.1 428.7,321.6 429.1,331.0 429.4,334.3 429.8,314.2 430.1,315.4 430.5,317.1 430.8,327.8 431.2,329.9 431.5,286.2 431.9,285.1 432.2,321.6 432.6,321.1 432.9,292.6 433.3,301.0 433.6,316.6 434.0,315.8 434.3,328.1 434.7,328.3 435.0,316.6 435.4,317.0 435.7,302.8 436.1,332.3 436.4,323.6 436.8,289.9 437.1,314.9 437.5,309.1 437.8,324.4 438.2,311.7 438.5,338.0 438.9,324.7 439.2,308.6 439.6,327.0 439.9,306.5 440.3,305.4 440.6,315.8 441.0,306.2 441.3,305.4 441.7,299.9 442.0,327.8 442.4,299.1 442.7,288.5 443.1,332.1 443.4,326.8 443.8,316.6 444.1,312.2 444.5,325.0 444.8,324.4 445.2,315.3 445.5,305.5 445.9,281.4 446.2,286.1 446.6,336.8 446.9,314.7 447.3,325.8 447.6,334.1 448.0,320.1 448.3,335.8 448.7,296.4 449.0,365.7 449.4,335.3 449.7,325.5 450.1,370.6 450.4,307.2 450.8,342.0 451.1,380.0 451.5,353.9 451.8,355.2 452.2,395.5 452.5,392.2 452.9,361.9 453.2,360.3 453.6,393.0 453.9,343.8 454.3,392.2 454.6,339.9 455.0,405.0 455.3,327.0 455.7,350.1 456.0,322.1 456.4,337.2 456.7,323.8 457.1,327.8 457.4,306.0 457.8,325.6 458.1,316.0 458.5,350.5 458.8,290.0 459.2,305.7 459.5,286.8 459.9,279.3 460.2,288.4 460.6,259.8 460.9,265.1 461.3,260.2 461.6,270.3 462.0,269.6 462.3,266.1 462.7,254.2 463.0,258.5 463.4,258.8 463.7,260.8 464.1,277.8 464.4,248.4 464.8,270.2 465.1,258.0 465.5,258.2 465.8,254.3 466.2,257.3 466.5,262.0 466.9,257.4 467.2,265.5 467.6,264.9 467.9,272.0 468.3,267.2 468.6,251.4 469.0,285.3 469.3,271.9 469.7,259.7 470.0,264.9 470.4,263.1 470.7,263.9 471.1,286.4 471.4,286.2 471.8,292.4 472.1,294.3 472.5,276.5 472.8,295.3 473.2,290.4 473.5,272.9 473.9,275.5 474.2,268.8 474.6,282.5 474.9,269.0 475.3,288.1 475.6,306.8 476.0,280.1 476.3,301.1 476.7,289.0 477.0,312.1 477.4,273.5 477.7,292.3 478.1,294.5 478.4,290.6 478.8,318.0 479.1,291.9 479.5,296.6 479.8,296.3 480.2,298.6 480.5,298.1 480.9,277.3 481.2,272.9 481.6,311.1 481.9,290.3 482.3,263.8 482.6,293.2 483.0,293.0 483.3,288.8 483.7,289.2 484.0,311.6 484.4,289.9 484.7,284.7 485.1,269.8 485.4,302.6 485.8,302.2 486.1,278.1 486.5,266.2 486.8,276.3 487.2,270.1 487.5,278.2 487.9,303.4 488.2,289.9 488.6,287.5 488.9,287.2 489.3,277.2 489.6,294.3 490.0,286.6 490.3,306.4 490.7,286.9 491.0,296.1 491.4,292.5 491.7,303.2 492.1,315.6 492.4,289.6 492.8,260.7 493.1,312.7 493.5,287.1 493.8,291.5 494.2,299.1 494.5,302.0 494.9,289.0 495.2,309.5 495.6,284.8 495.9,305.3 496.3,289.6 496.6,285.5 497.0,277.0 497.3,283.1 497.7,269.0 498.0,285.0 498.4,289.9 498.7,295.0 499.1,292.3 499.4,271.2 499.8,302.6 500.1,272.4 500.5,318.0 500.8,303.8 501.2,296.3 501.5,269.0 501.9,278.5 502.2,298.0 502.6,292.8 502.9,283.9 503.3,290.3 503.6,289.7 504.0,286.6 504.3,283.3 504.7,275.0 505.0,275.0 505.4,300.7 505.7,298.2 506.1,307.3 506.4,298.4 506.8,288.1 507.1,308.7 507.5,319.4 507.8,317.7 508.2,324.9 508.5,328.8 508.9,347.8 509.2,343.6 509.6,350.3 509.9,348.6 510.3,331.6 510.6,349.5 511.0,354.9 511.3,345.6 511.7,357.7 512.0,357.4 512.4,365.1 512.7,358.3 513.1,346.3 513.4,354.8 513.8,361.4 514.1,386.9 514.5,374.8 514.8,339.4 515.2,349.5 515.5,385.1 516.0,402.0 516.2,368.0 516.6,344.2 516.9,363.5 517.3,355.4 517.6,366.8 518.0,374.5 518.3,374.9 518.7,359.9 519.0,376.5 519.4,355.9 519.7,388.6 520.1,349.2 520.4,386.2 520.8,380.2 521.1,377.8 521.5,372.8 521.8,390.0 522.0,397.0 522.5,354.3 522.9,340.4 523.2,356.6 523.6,364.0 523.9,362.4 524.3,361.7 524.6,350.6 525.0,350.2 525.3,367.6 525.7,360.0 526.0,327.3 526.4,340.3 526.7,342.9 527.1,322.1 527.4,323.4 527.8,327.7 528.1,318.3 528.5,304.4 528.8,286.9 529.2,293.4 529.5,292.1 529.9,292.2 530.2,281.6 530.6,296.1 530.9,291.0 531.3,287.9 531.6,263.0 532.0,284.0 532.3,283.5 532.7,273.6 533.0,267.6 533.4,266.3 533.7,269.3 534.1,292.1 534.4,294.5 534.8,279.0 535.1,293.4 535.5,274.6 535.8,287.7 536.2,266.6 536.5,288.6 536.9,297.0 537.2,286.1 537.6,279.1 537.9,285.3 538.3,285.3 538.6,295.3 539.0,280.0 539.3,274.6 539.7,263.5 540.0,273.0 540.4,284.0 540.7,270.8 541.1,268.1 541.4,274.6 541.8,269.0 542.1,281.9 542.5,262.7 542.8,293.3 543.2,283.2 543.5,288.5 543.9,281.1 544.2,283.8 544.6,286.6 544.9,286.5 545.3,278.6 545.6,276.5 546.0,281.0 546.3,270.2 546.7,264.3 547.0,274.1 547.4,277.9 547.7,276.7 548.1,290.1 548.4,260.8 548.8,272.3 549.1,283.9 549.5,282.9 549.8,291.5 550.2,283.0 550.5,286.9 550.9,294.1 551.2,275.6 551.6,278.8 551.9,268.4 552.3,279.9 552.6,266.2 553.0,285.0 553.3,282.4 553.7,295.8 554.0,274.1 554.4,274.4 554.7,268.7 555.1,276.1 555.4,278.9 555.8,263.1 556.1,280.3 556.5,263.1 556.8,265.0 557.2,279.5 557.5,282.3 557.9,283.3 558.2,263.9 558.6,272.4 558.9,272.2 559.3,280.1 559.6,279.9 560.0,267.6 560.3,275.3 560.7,287.9 561.0,279.7 561.4,282.2 561.7,272.6 562.1,292.0 562.4,288.3 562.8,268.2 563.1,279.7 563.5,289.1 563.8,286.2 564.2,275.2 564.5,273.1 564.9,284.2 565.2,277.1 565.6,283.0 565.9,287.3 566.3,275.5 566.6,262.5 567.0,275.4 567.3,281.3 567.7,285.8 568.0,271.3 568.4,293.6 568.7,285.2 569.1,273.4 569.4,292.9 569.8,291.9 570.1,295.5 570.5,287.9 570.8,294.1 571.2,272.6 571.5,286.1 571.9,272.1 572.2,293.0 572.6,279.0 572.9,283.7 573.3,280.4 573.6,285.1 574.0,283.8 574.3,275.7 574.7,247.0 575.0,291.2 575.4,265.4 575.7,277.3 576.1,280.5 576.4,270.1 576.8,272.3 577.1,254.4 577.5,246.8 577.8,280.4 578.2,275.5 578.5,272.3 578.9,274.2 579.2,256.9 579.6,250.4 579.9,245.0 580.3,263.9 580.6,283.7 581.0,262.4 581.3,295.9 581.7,290.0 582.0,283.8 582.4,273.9 582.7,278.3 583.1,258.7 583.4,258.0 583.8,277.6 584.1,285.4 584.5,312.0 584.8,284.3 585.2,291.0 585.5,294.0 585.9,322.0 586.2,277.4 586.6,266.7 586.9,315.2 587.3,274.3 587.6,300.5 588.0,258.0 588.3,283.9 588.7,281.5 589.0,272.0 589.4,265.0 589.7,278.6 590.1,264.1 590.4,291.0 590.8,267.2 591.1,285.8 591.5,258.0 591.8,285.6 592.2,258.0 592.5,278.5 592.9,268.1 593.2,275.8 593.6,273.1 593.9,293.4 594.3,290.1 594.6,279.9 595.0,307.0 595.3,284.2 595.7,284.5 596.0,293.1 596.4,293.6 596.7,284.8 597.1,272.8 597.4,322.9 597.8,269.4 598.1,266.6 598.5,296.7 598.8,270.3 599.2,294.6 599.5,276.3 599.9,302.8 600.2,262.5 600.6,293.2 600.9,284.4 601.3,324.2 601.6,277.9 602.0,286.1 602.3,317.2 602.7,298.9 603.0,269.8 603.4,288.9 603.7,285.5 604.1,313.1 604.4,261.2 604.8,285.4 605.1,282.2 605.5,299.7 605.8,289.8 606.2,308.3 606.5,331.0 606.9,280.0 607.2,287.5 607.6,313.5 607.9,274.2 608.3,316.4 608.6,296.7 609.0,310.0 609.3,296.6 609.7,325.1 610.0,339.3 610.4,313.1 610.7,321.0 611.1,300.1 611.4,335.9 611.8,303.5 612.1,326.4 612.5,322.4 612.8,324.7 613.2,338.7 613.5,339.0 613.9,351.6 614.2,336.0 614.6,319.8 614.9,307.4 615.3,327.8 615.6,338.9 616.0,331.0 616.3,319.0 616.7,314.0 617.0,339.7 617.4,329.4 617.7,321.7 618.1,322.1 618.4,302.0 618.8,323.1 619.1,330.3 619.5,317.3 619.8,317.6 620.2,338.9 620.5,315.1 620.9,346.9 621.2,318.3 621.6,309.7 621.9,327.8 622.3,321.2 622.6,320.0 623.0,341.3 623.3,353.1 623.7,341.3 624.0,314.5 624.4,315.2 624.7,330.7 625.1,310.1 625.4,344.9 625.8,322.0 626.1,347.6 626.5,315.9 626.8,302.3 627.2,320.5 627.5,318.3 627.9,326.3 628.2,322.8 628.6,326.6 628.9,325.0 629.3,311.2 629.6,294.9 630.0,289.2 630.3,293.7 630.7,301.1 631.0,292.0 631.4,315.6 631.7,304.8 632.1,303.6 632.4,300.3 632.8,284.3 633.1,297.1 633.5,295.8 633.8,314.4 634.2,322.7 634.5,302.8 634.9,310.3 635.2,290.3 635.6,303.4 635.9,293.9 636.3,272.2 636.6,284.3 637.0,299.9 637.3,320.2 637.7,323.9 638.0,303.4 638.4,284.0 638.7,309.8 639.1,302.0 639.4,276.9 639.8,287.6 640.1,302.6 640.5,302.4 640.8,270.9 641.2,287.2 641.5,283.1 641.9,276.9 642.2,294.8 642.6,302.6 642.9,273.7 643.3,312.0 643.6,307.2 644.0,303.8 644.3,302.1 644.7,308.1 645.0,315.1 645.4,296.4 645.7,300.0 646.1,295.7 646.4,310.4 646.8,282.4 647.1,278.4 647.5,314.7 647.8,301.0 648.2,304.1 648.5,311.2 648.9,314.4 649.2,302.5 649.6,305.4 649.9,297.2 650.3,316.0 650.6,308.3 651.0,279.5 651.3,299.7 651.7,272.8 652.0,297.6 652.4,325.1 652.7,290.8 653.1,333.3 653.4,308.6 653.8,304.0 654.1,301.3 654.5,291.2 654.8,288.9 655.2,287.2 655.5,288.9 655.9,291.4 656.2,318.3 656.6,308.3 656.9,302.1 657.3,304.8 657.6,312.7 658.0,304.8 658.3,311.3 658.7,308.0 659.0,277.0 659.4,277.7 659.7,312.3 660.1,302.3 660.4,320.3 660.8,290.8 661.1,311.1 661.5,301.0 661.8,312.2 662.2,291.2 662.5,305.3 662.9,297.8 663.2,285.1 663.6,295.3 663.9,284.3 664.3,295.7 664.6,297.3 665.0,318.4 665.3,308.7 665.7,292.4 666.0,287.4 666.4,322.4 666.7,300.7 667.1,292.1 667.4,298.2 667.8,286.8 668.1,316.6 668.5,321.1 668.8,299.7 669.2,297.5 669.5,285.9 669.9,298.5 670.2,313.5 670.6,292.5 670.9,305.6 671.3,286.4 671.6,298.2 672.0,284.2 672.3,293.9 672.7,290.5 673.0,310.2 673.4,312.5 673.7,307.9 674.1,295.0 674.4,303.8 674.8,299.3 675.1,289.8 675.5,312.5 675.8,303.9 676.2,305.0 676.5,305.6 676.9,316.0 677.2,302.7 677.6,303.5 677.9,276.0 678.3,317.3 678.6,286.2 679.0,298.6 679.3,317.0 679.7,283.4 680.0,302.8 680.4,286.2 680.7,283.5 681.1,275.6 681.4,281.6 681.8,287.9 682.1,282.6 682.5,274.2 682.8,273.4 683.2,272.0 683.5,267.0 683.9,303.7 684.2,264.0 684.6,285.0 684.9,268.2 685.3,284.6 685.6,276.2 686.0,303.6 686.3,277.9 686.7,274.8 687.0,283.5 687.4,291.2 687.7,287.6 688.1,264.0 688.4,268.9 688.8,264.0 689.1,269.3 689.5,291.1 689.8,293.6 690.2,295.3 690.5,275.4 690.9,276.6 691.2,295.4 691.6,269.4 691.9,295.8 692.3,284.0 692.6,271.2 693.0,288.6 693.3,296.4 693.7,296.1 694.0,294.7 694.4,302.7 694.7,294.5 695.1,303.6 695.4,308.9 695.8,297.7 696.1,304.9 696.5,298.3 696.8,293.5 697.2,306.4 697.5,304.5 697.9,307.0 698.2,293.7 698.6,284.9 698.9,309.5 699.3,294.2 699.6,301.7 700.0,302.9 700.3,301.5 700.7,292.7 701.0,289.6 701.4,289.9 701.7,296.7 702.1,288.1 702.4,294.4 702.8,305.4 703.1,282.6 703.5,280.9 703.8,284.5 704.2,303.0 704.5,289.8 704.9,284.3 705.2,322.9 705.6,277.1 705.9,318.3 706.3,316.3 706.6,334.8 707.0,318.9 707.3,364.8 707.7,317.7 708.0,341.9 708.4,345.3 708.7,320.1 709.1,303.1 709.4,300.6 709.8,329.9 710.1,298.2 710.5,286.8 710.8,299.2"/>
<polyline fill="none" stroke="#c9c9c9" stroke-width="1.3" stroke-linejoin="miter" points="741.0,233.6 741.4,239.3 741.7,245.7 742.1,258.7 742.4,240.6 742.8,229.0 743.1,231.4 743.5,243.8 743.8,211.5 744.2,245.2 744.5,255.9 744.9,255.3 745.2,242.6 745.6,242.0 745.9,235.7 746.3,239.1 746.6,228.0 747.0,221.1 747.3,229.2 747.7,231.4 748.0,191.0 748.4,222.9 748.7,212.2 749.1,216.6 749.4,203.7 749.8,221.8 750.1,222.1 750.5,215.5 750.8,219.5 751.2,192.9 751.5,217.5 751.9,214.6 752.2,213.8 752.6,224.6 752.9,206.8 753.3,212.1 753.6,197.4 754.0,199.5 754.3,201.8 754.7,190.5 755.0,181.9 755.4,193.0 755.7,179.4 756.1,177.3 756.4,172.8 756.8,170.9 757.1,185.4 757.4,138.0 757.8,161.6 758.2,198.0 758.5,168.1 758.9,163.9 759.2,181.5 759.6,169.6 759.9,180.7 760.3,179.5 760.6,161.3 761.0,176.2 761.3,183.5 761.7,179.2 762.0,180.1 762.4,164.2 762.7,156.0 763.1,168.2 763.4,164.6 763.8,189.9 764.1,177.4 764.5,204.8 764.8,181.1 765.2,181.7 765.5,175.8 765.9,187.2 766.2,180.2 766.6,188.5 766.9,182.7 767.3,197.1 767.6,195.5 768.0,222.4 768.3,205.8 768.7,234.8 769.0,231.4 769.4,218.8 769.7,206.1 770.1,202.6 770.4,200.4 770.8,220.5 771.1,240.8 771.5,223.1 771.8,220.0 772.2,218.7 772.5,208.4 772.9,214.4 773.2,202.8 773.6,220.7 773.9,206.7 774.3,224.2 774.6,246.9 775.0,236.1 775.3,229.6 775.7,198.4 776.0,209.7 776.4,208.4 776.7,221.3 777.1,223.7 777.4,213.2 777.8,236.5 778.1,225.6 778.5,225.7 778.8,208.7 779.2,226.7 779.5,224.2 779.9,199.7 780.2,210.6 780.6,213.1 780.9,205.9 781.3,232.7 781.6,228.4 782.0,226.8 782.3,225.4 782.7,220.1 783.0,223.9 783.4,230.4 783.7,245.7 784.1,222.7 784.4,229.6 784.8,227.0 785.1,225.2 785.5,211.9 785.8,227.1 786.2,221.0 786.5,228.4 786.9,232.6 787.2,218.3 787.6,210.6 787.9,216.2 788.3,207.0 788.6,231.5 789.0,215.6 789.3,234.6 789.7,230.3 790.0,226.1 790.4,231.5 790.7,237.2 791.1,229.1 791.4,235.2 791.8,238.7 792.1,231.3 792.5,227.7 792.8,236.5 793.2,229.7 793.5,222.2 793.9,223.7 794.2,237.0 794.6,240.3 794.9,222.3 795.3,228.8 795.6,229.1 796.0,229.7 796.3,232.1 796.7,210.8 797.0,240.1 797.4,208.7 797.7,231.7 798.1,227.3 798.4,220.3 798.8,226.3 799.1,213.5 799.5,210.4 799.8,193.4 800.2,164.8 800.5,180.5 800.9,175.5 801.2,196.1 801.6,167.1 801.9,176.6 802.3,200.8 802.6,210.1 803.0,188.9 803.3,163.1 803.7,163.3 804.0,176.6 804.4,172.8 804.7,174.2 805.1,184.6 805.4,167.1 805.8,199.5 806.1,188.7 806.5,161.6 806.8,207.0 807.2,192.7 807.5,203.5 807.9,197.4 808.2,155.9 808.6,187.6 808.9,192.7 809.3,183.3 809.6,197.3 810.0,200.3 810.3,188.4 810.7,159.9 811.0,134.0 811.4,178.3 811.7,197.8 812.1,211.0 812.4,164.3 812.8,155.8 813.1,198.7 813.5,190.3 813.8,178.0 814.2,169.8 814.5,187.7 814.9,185.7 815.2,213.6 815.6,172.0 815.9,192.7 816.3,218.9 816.6,169.9 817.0,183.4 817.3,185.4 817.7,210.2 818.0,173.7 818.4,177.7 818.7,171.1 819.1,209.3 819.4,208.4 819.8,208.8 820.1,198.8 820.5,177.5 820.8,200.0 821.2,190.8 821.5,171.1 821.9,192.0 822.2,188.5 822.6,187.5 822.9,198.5 823.3,188.8 823.6,199.2 824.0,221.8 824.3,208.4 824.7,211.4 825.0,204.7 825.4,191.7 825.7,187.4 826.1,186.4 826.4,209.6 826.8,193.1 827.1,228.3 827.5,216.1 827.8,215.0 828.2,223.0 828.5,230.0 828.9,208.4 829.2,230.0 829.6,221.6 829.9,229.8 830.3,228.1 830.6,215.1 831.0,230.0 831.3,226.2 831.7,227.7 832.0,217.3 832.4,194.2 832.7,219.7 833.1,219.7 833.4,221.0 833.8,210.0 834.1,217.2 834.5,215.8 834.8,201.9 835.2,185.4 835.5,224.8 835.9,215.6 836.2,220.4 836.6,227.4 836.9,217.8 837.3,216.4 837.6,203.4 838.0,229.2 838.3,212.1 838.7,224.0 839.0,205.5 839.4,195.3 839.7,215.4 840.1,204.5 840.4,174.5 840.8,206.0 841.1,197.7 841.5,188.6 841.8,216.1 842.0,122.0 842.5,193.9 842.9,179.9 843.2,171.5 843.6,165.2 843.9,174.3 844.3,170.5 844.6,162.1 845.0,137.9 845.3,140.6 845.7,195.2 846.0,129.0 846.4,176.3 846.7,152.5 847.1,158.5 847.4,166.0 847.8,181.4 848.1,153.9 848.5,170.1 848.8,178.1 849.2,156.6 849.5,142.5 849.9,178.3 850.2,165.3 850.6,169.5 850.9,179.4 851.3,197.8 851.6,156.6 852.0,139.9 852.3,155.2 852.7,171.3 853.0,168.1 853.4,169.2 853.7,200.7 854.1,174.6 854.4,164.2 854.8,151.2 855.1,183.1 855.5,174.7 855.8,163.2 856.2,191.1 856.5,179.6 856.9,189.6 857.2,191.4 857.6,184.7 857.9,202.1 858.3,182.4 858.6,182.9 859.0,194.1 859.3,188.0 859.7,212.2 860.0,202.4 860.4,219.3 860.7,210.6 861.1,209.4 861.4,205.0 861.8,193.5 862.1,198.0 862.5,214.1 862.8,210.2 863.2,204.2 863.5,211.4 863.9,202.1 864.2,199.1 864.6,206.7 864.9,193.9 865.3,199.7 865.6,198.4 866.0,207.0 866.3,197.6 866.7,216.9 867.0,207.7 867.4,213.2 867.7,206.6 868.1,216.8 868.4,208.5 868.8,210.3 869.1,193.7 869.5,222.9 869.8,202.8 870.2,204.2 870.5,205.8 870.9,201.2 871.2,204.6 871.6,211.2 871.9,203.1 872.3,218.4 872.6,200.6 873.0,204.4 873.3,198.6 873.7,211.1 874.0,205.2 874.4,216.6 874.7,205.5 875.1,198.5 875.4,216.1 875.8,202.6 876.1,211.3 876.5,197.5 876.8,199.3 877.2,205.5 877.5,215.6 877.9,209.8 878.2,196.5 878.6,189.1 878.9,191.1 879.3,181.0 879.6,176.0 880.0,183.3 880.3,167.5 880.7,186.7 881.0,138.4 881.4,161.3 881.7,160.8 882.0,115.0 882.4,173.1 882.8,159.2 883.1,121.1 883.5,137.0 883.8,175.0 884.2,130.5 884.5,157.0 884.9,156.9 885.2,166.0 885.6,160.7 885.9,143.3 886.3,174.7 886.6,161.5 887.0,129.4 887.3,134.9 887.7,158.6 888.0,170.2 888.4,162.4 888.7,171.9 889.1,165.0 889.4,139.5 889.8,159.0 890.1,159.5 890.5,176.6 890.8,171.2 891.2,187.2 891.5,176.2 891.9,163.0 892.2,151.0 892.6,175.7 892.9,166.9 893.3,176.7 893.6,163.9 894.0,150.8 894.3,161.9 894.7,176.4 895.0,148.8 895.4,173.5 895.7,175.9 896.1,166.0 896.4,169.4 896.8,171.1 897.1,152.7 897.5,166.4 897.8,172.7 898.2,157.9 898.5,164.8 898.9,175.2 899.2,160.7 899.6,161.9 899.9,163.0 900.3,158.1 900.6,177.5 901.0,148.8 901.3,163.9 901.7,170.8 902.0,165.5 902.4,151.9 902.7,166.3 903.1,143.8 903.4,159.3 903.8,161.5 904.1,142.9 904.5,143.5 904.8,167.7 905.2,145.0 905.5,147.8 905.9,159.8 906.2,172.5 906.6,173.1 906.9,159.2 907.3,147.2 907.6,154.1 908.0,166.3 908.3,161.4 908.7,168.5 909.0,155.9 909.4,151.6 909.7,167.9 910.1,154.7 910.4,139.3 910.8,168.1 911.1,152.1 911.5,170.1 911.8,164.0 912.2,159.0 912.5,161.4 912.9,165.3 913.2,179.1 913.6,175.9 913.9,181.1 914.3,159.3 914.6,163.9 915.0,162.6 915.3,165.0 915.7,176.3 916.0,151.9 916.4,164.3 916.7,168.7 917.1,168.3 917.4,158.4 917.8,163.5 918.1,155.3 918.5,177.0 918.8,178.2 919.2,152.9 919.5,140.3 919.9,158.4 920.2,170.3 920.6,163.1 920.9,161.8 921.3,159.4 921.6,152.8 922.0,164.9 922.3,160.7 922.7,172.0 923.0,163.2 923.4,172.1 923.7,181.1 924.1,146.5 924.4,151.8 924.8,153.6 925.1,157.0 925.5,157.5 925.8,157.4 926.2,177.9 926.5,161.7 926.9,155.1 927.2,156.4 927.6,153.9 927.9,165.0 928.3,152.5 928.6,149.6 929.0,160.5 929.3,159.6 929.7,163.3 930.0,157.3 930.4,183.8 930.7,158.8 931.1,157.7 931.4,150.1 931.8,160.6 932.1,152.8 932.5,152.5 932.8,150.5 933.2,159.9 933.5,163.6 933.9,166.3 934.2,168.0 934.6,162.3 934.9,149.9 935.3,153.0 935.6,152.6 936.0,163.4 936.3,140.5 936.7,162.4 937.0,154.5 937.4,162.6 937.7,160.6 938.1,163.5 938.4,163.8 938.8,151.1 939.1,164.1 939.5,161.4 939.8,171.3 940.2,165.9 940.5,162.6 940.9,162.5 941.2,160.3 941.6,157.7 941.9,144.8 942.3,152.5 942.6,143.7 943.0,146.7 943.3,168.9 943.7,160.0 944.0,152.5 944.4,151.1 944.7,152.2 945.1,140.1 945.4,144.7 945.8,153.8 946.1,157.9 946.5,158.2 946.8,154.4 947.2,150.9 947.5,141.1 947.9,156.8 948.2,150.4 948.6,149.0 948.9,144.9 949.3,156.5 949.6,158.9 950.0,165.8 950.3,152.4 950.7,146.2 951.0,168.1 951.4,157.4 951.7,141.5 952.1,146.8 952.4,139.2 952.8,152.5 953.1,140.7 953.5,145.4 953.8,168.7 954.2,156.0 954.5,136.5 954.9,147.2 955.2,153.5 955.6,169.7 955.9,135.6 956.3,179.3 956.6,153.4 957.0,178.2 957.3,148.3 957.7,167.6 958.0,148.1 958.4,152.2 958.7,154.3 959.1,143.4 959.4,106.9 959.8,180.5 960.1,157.5 960.5,149.8 960.8,164.0 961.0,82.0 961.5,161.1 961.9,146.3 962.2,142.1 962.6,181.4 962.9,157.9 963.3,154.0 963.6,158.4 964.0,162.0 964.3,163.9 964.7,151.6 965.0,159.9 965.4,165.5 965.7,146.8 966.1,154.2 966.4,160.2 966.8,163.6 967.1,145.5 967.5,170.2 967.8,161.8 968.2,130.7 968.5,164.4 968.9,160.7 969.2,136.4 969.6,165.7 969.9,133.8 970.3,148.8 970.6,139.7 971.0,173.4 971.3,139.1 971.7,175.6 972.0,171.1 972.4,138.9 972.7,168.6 973.1,165.2 973.4,103.0 973.8,161.1 974.1,149.1 974.5,129.4 974.8,135.9 975.2,113.6 975.5,118.3 975.9,128.1 976.2,137.3 976.5,102.0 976.9,145.9 977.3,116.3 977.6,153.7 978.0,153.1 978.3,130.5 978.7,140.3 979.0,162.7 979.4,156.5 979.7,153.1 980.1,157.5 980.4,153.6 980.8,174.9 981.1,138.2 981.5,154.9 981.8,183.3 982.2,155.6 982.5,165.7 982.9,169.0 983.2,160.3 983.6,160.3 983.9,173.0 984.3,170.1 984.6,140.3 985.0,167.0 985.3,160.0 985.7,159.5 986.0,140.1 986.4,185.4 986.7,182.1 987.1,161.1 987.4,175.3 987.8,191.0 988.1,194.6 988.5,173.3 988.8,183.6 989.2,184.2 989.5,162.9 989.9,143.8 990.2,158.4 990.6,192.9 990.9,157.3 991.3,184.3 991.6,172.2 992.0,151.0 992.3,166.4 992.7,170.3 993.0,164.4 993.4,198.8 993.7,175.1 994.1,170.2 994.4,181.4 994.8,196.6 995.1,173.6 995.5,160.1 995.8,160.1 996.2,179.9 996.5,172.8 996.9,168.6 997.2,154.2 997.6,156.9 997.9,190.3 998.3,186.9 998.6,190.2 999.0,171.4 999.3,168.0 999.7,171.2 1000.0,167.9 1000.4,194.3 1000.7,174.9 1001.1,177.7 1001.4,206.0 1001.8,179.4 1002.1,188.7 1002.5,154.3 1002.8,176.4 1003.2,189.4 1003.5,201.8 1003.9,183.4 1004.2,166.0 1004.6,174.0 1004.9,160.9 1005.3,178.6 1005.6,155.0 1006.0,170.2 1006.3,192.6 1006.7,194.9 1007.0,190.1 1007.4,162.8 1007.7,191.7 1008.1,174.5 1008.4,195.5 1008.8,197.5 1009.1,175.8 1009.5,178.9 1009.8,183.8 1010.2,182.0 1010.5,206.4 1010.9,172.0 1011.2,149.4 1011.6,175.4 1011.9,204.0 1012.3,193.6 1012.6,181.8 1013.0,185.6 1013.3,152.9 1013.7,167.2 1014.0,197.5 1014.4,168.3 1014.7,157.2 1015.1,156.4 1015.4,163.7 1015.8,153.8 1016.1,171.2 1016.5,125.7 1016.8,171.4 1017.2,180.8 1017.5,147.7 1017.9,153.9 1018.2,161.8 1018.6,139.2 1018.9,124.3 1019.3,136.8 1019.6,92.6 1020.0,110.6 1020.3,92.8 1020.7,84.5 1021.0,72.0 1021.4,118.1 1021.7,125.5 1022.1,103.6 1022.4,110.4 1022.8,130.2 1023.1,139.6 1023.5,102.1 1023.8,134.8 1024.2,124.7 1024.5,98.6 1024.9,101.3 1025.2,117.4 1025.6,125.9 1025.9,133.9 1026.3,110.0 1026.6,115.5 1027.0,141.4 1027.3,117.3 1027.7,146.9 1028.0,179.8 1028.4,126.6 1028.7,168.2 1029.1,150.9 1029.4,138.7 1029.8,155.0 1030.1,151.8 1030.5,175.7 1030.8,138.0"/>
<polyline fill="none" stroke="#c9c9c9" stroke-width="1.3" stroke-linejoin="miter" points="741.0,256.1 741.4,273.4 741.7,279.5 742.1,279.9 742.4,285.0 742.8,294.8 743.1,299.6 743.5,289.9 743.8,316.4 744.2,308.7 744.5,301.5 744.9,302.7 745.2,317.1 745.6,299.0 745.9,322.5 746.3,298.0 746.6,296.1 747.0,302.2 747.3,299.9 747.7,318.6 748.0,310.9 748.4,328.3 748.7,312.7 749.1,309.8 749.4,308.5 749.8,316.3 750.1,326.7 750.5,325.5 750.8,299.1 751.2,304.6 751.5,307.7 751.9,288.0 752.2,277.3 752.6,274.5 752.9,283.9 753.3,279.4 753.6,297.7 754.0,280.1 754.3,277.5 754.7,294.6 755.0,275.4 755.4,280.1 755.7,297.8 756.1,290.6 756.4,276.1 756.8,289.0 757.1,291.5 757.5,290.0 757.8,271.4 758.2,278.3 758.5,264.4 758.9,303.2 759.2,285.8 759.6,270.1 759.9,300.5 760.3,278.7 760.6,283.0 761.0,270.8 761.3,292.0 761.7,282.5 762.0,286.6 762.4,291.8 762.7,285.7 763.1,290.4 763.4,305.0 763.8,284.5 764.1,283.1 764.5,281.6 764.8,293.6 765.2,299.8 765.5,292.0 765.9,286.3 766.2,299.1 766.6,295.0 766.9,285.5 767.3,287.4 767.6,277.2 768.0,302.8 768.3,300.9 768.7,290.7 769.0,297.3 769.4,304.4 769.7,286.9 770.1,304.2 770.4,288.9 770.8,308.4 771.1,287.7 771.5,287.4 771.8,311.6 772.2,312.3 772.5,292.6 772.9,304.6 773.2,306.4 773.6,311.3 773.9,282.8 774.3,294.4 774.6,305.0 775.0,299.3 775.3,297.3 775.7,300.3 776.0,286.1 776.4,306.2 776.7,287.9 777.1,298.6 777.4,306.6 777.8,310.1 778.1,300.3 778.5,289.9 778.8,277.6 779.2,293.6 779.5,296.1 779.9,307.5 780.2,307.3 780.6,298.4 780.9,276.8 781.3,287.2 781.6,288.6 782.0,284.7 782.3,292.0 782.7,294.6 783.0,293.0 783.4,287.0 783.7,298.7 784.1,284.6 784.4,283.4 784.8,291.6 785.1,305.3 785.5,280.1 785.8,287.6 786.2,281.6 786.5,292.8 786.9,303.3 787.2,301.0 787.6,293.2 787.9,281.4 788.3,297.3 788.6,296.5 789.0,277.1 789.3,281.9 789.7,284.1 790.0,283.1 790.4,297.4 790.7,291.4 791.1,304.6 791.4,310.2 791.8,291.7 792.1,283.7 792.5,293.5 792.8,295.6 793.2,291.3 793.5,296.6 793.9,288.9 794.2,298.4 794.6,299.1 794.9,312.9 795.3,290.1 795.6,307.7 796.0,300.8 796.3,299.9 796.7,296.1 797.0,294.7 797.4,277.0 797.7,289.7 798.1,301.3 798.4,293.5 798.8,292.0 799.1,305.2 799.5,292.0 799.8,285.9 800.2,292.3 800.5,297.5 800.9,284.2 801.2,287.3 801.6,293.1 801.9,280.7 802.3,295.0 802.6,295.6 803.0,299.9 803.3,274.0 803.7,301.3 804.0,291.0 804.4,298.8 804.7,301.7 805.1,297.9 805.4,289.9 805.8,279.9 806.1,280.1 806.5,294.2 806.8,310.6 807.2,330.5 807.5,324.3 807.9,311.3 808.2,317.1 808.6,329.2 808.9,345.0 809.3,340.5 809.6,315.3 810.0,345.8 810.3,332.6 810.7,345.1 811.0,362.0 811.4,328.5 811.7,311.7 812.1,289.9 812.4,306.7 812.8,273.1 813.1,300.3 813.5,289.2 813.8,276.3 814.2,289.5 814.5,285.6 814.9,296.4 815.2,283.9 815.6,287.0 815.9,275.8 816.3,273.7 816.6,283.4 817.0,281.1 817.3,287.1 817.7,291.4 818.0,276.5 818.4,279.3 818.7,288.1 819.1,285.9 819.4,280.5 819.8,286.8 820.1,286.5 820.5,301.8 820.8,288.4 821.2,292.2 821.5,286.3 821.9,305.9 822.2,279.1 822.6,271.1 822.9,271.9 823.3,281.5 823.6,282.6 824.0,271.8 824.3,280.0 824.7,276.7 825.0,284.1 825.4,273.9 825.7,282.2 826.1,283.3 826.4,276.4 826.8,268.5 827.1,274.5 827.5,274.9 827.8,279.8 828.2,286.0 828.5,283.6 828.9,295.4 829.2,279.8 829.6,277.7 829.9,288.4 830.3,267.0 830.6,290.9 831.0,300.4 831.3,282.7 831.7,301.3 832.0,271.3 832.4,278.2 832.7,271.9 833.1,288.8 833.4,304.6 833.8,285.7 834.1,272.4 834.5,280.9 834.8,285.1 835.2,285.2 835.5,286.1 835.9,270.3 836.2,296.6 836.6,310.0 836.9,303.6 837.3,313.1 837.6,311.4 838.0,331.2 838.3,315.7 838.7,317.1 839.0,336.9 839.4,351.4 839.7,361.4 840.1,344.8 840.4,346.1 840.8,381.1 841.1,360.4 841.5,359.3 841.8,340.8 842.0,395.0 842.5,363.4 842.9,362.1 843.2,334.2 843.6,352.8 843.9,339.0 844.3,333.0 844.6,346.3 845.0,329.9 845.3,318.0 845.7,306.1 846.0,309.5 846.4,321.6 846.7,290.8 847.1,309.7 847.4,296.3 847.8,304.7 848.1,302.6 848.5,297.5 848.8,293.8 849.2,303.6 849.5,298.8 849.9,320.6 850.2,317.0 850.6,304.5 850.9,319.7 851.3,291.3 851.6,320.5 852.0,316.9 852.3,313.5 852.7,310.5 853.0,321.0 853.4,305.2 853.7,298.8 854.1,317.8 854.4,302.3 854.8,306.2 855.1,298.9 855.5,303.5 855.8,308.1 856.2,307.0 856.5,297.8 856.9,313.7 857.2,302.4 857.6,309.0 857.9,294.6 858.3,300.9 858.6,302.9 859.0,316.0 859.3,296.6 859.7,318.3 860.0,295.4 860.4,313.3 860.7,306.1 861.1,297.3 861.4,287.3 861.8,288.7 862.1,297.4 862.5,287.2 862.8,285.0 863.2,285.1 863.5,281.7 863.9,273.1 864.2,279.3 864.6,277.7 864.9,280.5 865.3,283.4 865.6,293.3 866.0,267.0 866.3,267.5 866.7,296.2 867.0,284.1 867.4,276.5 867.7,296.5 868.1,282.0 868.4,285.6 868.8,288.2 869.1,291.3 869.5,279.4 869.8,289.9 870.2,275.9 870.5,289.6 870.9,294.7 871.2,281.5 871.6,287.3 871.9,288.0 872.3,287.4 872.6,284.4 873.0,297.8 873.3,288.1 873.7,291.8 874.0,289.4 874.4,291.5 874.7,294.1 875.1,299.0 875.4,292.5 875.8,294.2 876.1,293.1 876.5,286.7 876.8,288.8 877.2,274.1 877.5,268.6 877.9,274.1 878.2,294.0 878.6,288.8 878.9,284.8 879.3,292.3 879.6,292.9 880.0,281.1 880.3,290.4 880.7,291.3 881.0,299.3 881.4,304.4 881.7,304.0 882.1,314.8 882.4,310.9 882.8,316.3 883.1,308.5 883.5,300.2 883.8,311.5 884.2,290.3 884.5,286.5 884.9,304.9 885.2,298.1 885.6,297.7 885.9,316.3 886.3,311.3 886.6,297.9 887.0,320.7 887.3,300.9 887.7,311.3 888.0,313.5 888.4,299.1 888.7,317.4 889.1,295.4 889.4,286.5 889.8,306.4 890.1,296.2 890.5,306.5 890.8,323.5 891.2,281.9 891.5,302.2 891.9,319.7 892.2,297.1 892.6,292.9 892.9,298.1 893.3,302.1 893.6,292.7 894.0,297.0 894.3,294.1 894.7,307.5 895.0,297.1 895.4,314.3 895.7,307.5 896.1,284.5 896.4,305.2 896.8,329.2 897.1,303.1 897.5,308.1 897.8,308.7 898.2,320.3 898.5,292.8 898.9,317.2 899.2,310.8 899.6,291.8 899.9,283.1 900.3,286.7 900.6,298.0 901.0,325.2 901.3,308.0 901.7,303.9 902.0,306.9 902.4,324.1 902.7,317.5 903.1,324.1 903.4,307.3 903.8,309.1 904.1,325.1 904.5,331.6 904.8,333.7 905.2,322.2 905.5,313.2 905.9,313.1 906.2,307.4 906.6,301.6 906.9,324.8 907.3,313.0 907.6,312.2 908.0,312.9 908.3,322.5 908.7,320.3 909.0,321.9 909.4,318.9 909.7,313.3 910.1,319.4 910.4,325.7 910.8,336.0 911.1,316.4 911.5,313.3 911.8,327.6 912.2,331.7 912.5,317.1 912.9,338.1 913.2,314.0 913.6,323.0 913.9,330.4 914.3,324.5 914.6,313.3 915.0,337.0 915.3,302.1 915.7,320.3 916.0,314.9 916.4,310.8 916.7,331.0 917.1,321.4 917.4,329.4 917.8,314.2 918.1,329.1 918.5,325.3 918.8,327.7 919.2,336.2 919.5,334.9 919.9,315.8 920.2,329.1 920.6,324.5 920.9,304.4 921.3,340.7 921.6,338.6 922.0,321.9 922.3,316.8 922.7,332.4 923.0,347.0 923.4,306.9 923.7,344.4 924.1,345.1 924.4,345.5 924.8,337.0 925.1,342.5 925.5,334.2 925.8,348.1 926.2,349.9 926.5,357.2 926.9,354.3 927.2,344.5 927.6,325.7 927.9,330.4 928.3,331.0 928.6,340.2 929.0,355.2 929.3,333.3 929.7,356.9 930.0,328.3 930.4,346.5 930.7,357.6 931.1,324.9 931.4,339.3 931.8,340.5 932.1,338.0 932.5,328.6 932.8,347.8 933.2,335.5 933.5,342.8 933.9,350.2 934.2,338.8 934.6,336.2 934.9,337.2 935.3,330.8 935.6,319.6 936.0,326.2 936.3,333.0 936.7,326.8 937.0,320.1 937.4,339.8 937.7,344.2 938.1,319.4 938.4,350.9 938.8,341.4 939.1,311.0 939.5,354.7 939.8,330.1 940.2,348.4 940.5,324.9 940.9,329.5 941.2,305.0 941.6,326.6 941.9,327.9 942.3,327.7 942.6,312.8 943.0,305.0 943.3,305.0 943.7,327.5 944.0,314.8 944.4,311.2 944.7,332.4 945.1,338.4 945.4,323.6 945.8,337.1 946.1,321.2 946.5,313.5 946.8,322.3 947.2,328.4 947.5,329.8 947.9,324.1 948.2,328.0 948.6,337.5 948.9,321.3 949.3,320.8 949.6,305.5 950.0,325.2 950.3,321.6 950.7,331.1 951.0,344.6 951.4,330.9 951.7,343.2 952.1,341.2 952.4,321.6 952.8,322.0 953.1,330.0 953.5,330.9 953.8,343.9 954.2,304.8 954.5,303.5 954.9,301.0 955.2,318.9 955.6,301.4 955.9,324.2 956.3,309.0 956.6,336.0 957.0,354.1 957.3,330.8 957.7,339.8 958.0,328.7 958.4,328.4 958.7,319.3 959.1,315.2 959.4,332.4 959.8,318.3 960.1,314.9 960.5,308.8 960.8,313.4 961.2,320.8 961.5,305.9 961.9,312.7 962.2,353.8 962.6,322.2 962.9,310.8 963.3,327.2 963.6,305.3 964.0,310.5 964.3,321.8 964.7,339.4 965.0,335.9 965.4,338.5 965.7,329.9 966.1,316.3 966.4,327.1 966.8,337.5 967.1,332.8 967.5,323.3 967.8,325.8 968.2,338.5 968.5,330.3 968.9,331.4 969.2,343.0 969.6,331.9 970.0,382.0 970.3,318.4 970.6,315.3 971.0,305.7 971.3,306.4 971.7,318.4 972.0,301.0 972.4,302.8 972.7,326.3 973.1,306.0 973.4,343.5 973.8,317.5 974.1,309.5 974.5,306.7 974.8,336.4 975.2,325.0 975.5,315.7 975.9,346.1 976.2,334.4 976.6,336.4 976.9,328.4 977.3,309.3 977.6,335.3 978.0,361.2 978.3,344.5 978.7,334.3 979.0,329.3 979.4,352.5 979.7,336.2 980.1,350.0 980.4,354.6 980.8,352.4 981.1,340.9 981.5,335.6 981.8,329.5 982.2,335.3 982.5,338.8 982.9,350.0 983.2,345.2 983.6,307.0 983.9,339.9 984.3,340.1 984.6,320.6 985.0,333.4 985.3,319.0 985.7,319.7 986.0,362.6 986.4,339.2 986.7,323.1 987.1,339.1 987.4,326.6 987.8,330.5 988.1,333.1 988.5,321.4 988.8,314.0 989.2,322.7 989.5,325.0 989.9,324.5 990.2,351.9 990.6,341.9 990.9,340.9 991.3,361.0 991.6,353.1 992.0,333.9 992.3,339.5 992.7,331.5 993.0,335.7 993.4,325.6 993.7,292.3 994.1,291.2 994.4,299.2 994.8,296.0 995.1,286.2 995.5,293.4 995.8,297.0 996.2,308.0 996.5,290.5 996.9,288.8 997.2,304.1 997.6,296.9 997.9,308.5 998.3,289.9 998.6,300.3 999.0,300.4 999.3,306.7 999.7,285.7 1000.0,287.7 1000.4,299.9 1000.7,283.0 1001.1,291.6 1001.4,300.1 1001.8,299.2 1002.1,301.1 1002.5,291.7 1002.8,302.5 1003.2,288.2 1003.5,309.9 1003.9,313.7 1004.2,311.4 1004.6,308.1 1004.9,298.3 1005.3,294.4 1005.6,294.8 1006.0,308.3 1006.3,293.3 1006.7,309.2 1007.0,306.0 1007.4,310.9 1007.7,303.9 1008.1,290.9 1008.4,286.4 1008.8,288.3 1009.1,312.6 1009.5,306.6 1009.8,321.4 1010.2,303.3 1010.5,353.0 1010.9,348.3 1011.2,354.5 1011.6,378.4 1011.9,385.6 1012.3,345.2 1012.6,401.3 1013.0,394.2 1013.3,353.7 1013.7,390.7 1014.0,377.2 1014.4,371.9 1014.7,374.4 1015.1,387.5 1015.4,382.6 1015.8,358.8 1016.1,391.0 1016.5,353.3 1016.8,381.0 1017.2,358.0 1017.5,363.3 1017.9,360.8 1018.2,382.8 1018.6,375.9 1018.9,388.5 1019.3,389.8 1019.6,406.3 1020.0,368.0 1020.3,408.3 1020.7,402.3 1021.0,357.8 1021.4,347.8 1021.7,360.5 1022.1,401.3 1022.4,375.2 1022.8,377.7 1023.1,388.5 1023.5,375.9 1023.8,409.5 1024.2,362.3 1024.5,372.9 1024.9,358.3 1025.2,402.4 1025.6,376.7 1025.9,361.3 1026.3,402.0 1026.6,384.1 1027.0,359.6 1027.3,358.7 1027.7,390.0 1028.0,361.8 1028.4,387.4 1028.7,398.5 1029.1,412.7 1029.4,360.8 1029.8,356.4 1030.1,363.4 1030.5,359.5 1030.8,374.1"/>
<polyline fill="none" stroke="#c9c9c9" stroke-width="1.3" stroke-linejoin="miter" points="1052.0,234.7 1052.3,233.3 1052.7,241.7 1053.0,174.8 1053.4,224.8 1053.7,222.8 1054.1,203.0 1054.4,163.9 1054.8,159.6 1055.1,169.4 1055.5,172.2 1055.8,222.0 1056.2,168.8 1056.5,187.6 1056.9,177.9 1057.2,199.6 1057.6,169.8 1057.9,162.3 1058.3,182.8 1058.6,221.0 1059.0,178.5 1059.3,214.0 1059.7,161.6 1060.0,197.3 1060.4,170.5 1060.7,184.5 1061.1,181.8 1061.4,180.2 1061.7,139.0 1062.1,181.8 1062.5,196.4 1062.8,176.7 1063.2,207.3 1063.5,165.1 1063.9,166.7 1064.2,182.6 1064.6,185.5 1064.9,170.2 1065.3,177.6 1065.6,180.6 1066.0,194.3 1066.3,227.9 1066.7,157.5 1067.0,160.9 1067.4,174.3 1067.7,188.8 1068.1,163.8 1068.4,197.2 1068.8,180.3 1069.1,179.1 1069.5,163.6 1069.8,190.4 1070.2,174.8 1070.5,154.7 1070.9,182.8 1071.2,198.3 1071.6,170.8 1071.9,185.0 1072.3,169.7 1072.6,157.8 1073.0,162.7 1073.3,208.1 1073.7,158.8 1074.0,202.2 1074.4,191.9 1074.7,179.4 1075.1,165.8 1075.4,207.1 1075.8,206.9 1076.1,189.6 1076.5,182.3 1076.8,209.1 1077.2,190.8 1077.5,221.0 1077.9,200.1 1078.2,201.8 1078.6,223.8 1078.9,167.9 1079.3,207.2 1079.6,216.6 1080.0,217.4 1080.3,201.7 1080.7,207.2 1081.0,215.7 1081.4,206.2 1081.7,203.1 1082.1,194.0 1082.4,219.9 1082.8,204.5 1083.1,210.9 1083.5,221.5 1083.8,213.3 1084.2,211.8 1084.5,217.8 1084.9,223.9 1085.2,213.0 1085.6,215.1 1085.9,242.2 1086.3,219.1 1086.6,217.1 1087.0,239.6 1087.3,218.1 1087.7,206.2 1088.0,223.5 1088.4,221.9 1088.7,240.1 1089.1,197.1 1089.4,202.6 1089.8,237.2 1090.1,231.0 1090.5,230.4 1090.8,229.2 1091.2,241.2 1091.5,222.8 1091.9,201.6 1092.2,236.0 1092.6,209.9 1092.9,210.7 1093.3,235.3 1093.6,219.9 1094.0,236.8 1094.3,242.5 1094.7,239.9 1095.0,242.5 1095.4,207.2 1095.7,229.1 1096.1,227.6 1096.4,229.7 1096.8,233.6 1097.1,230.3 1097.5,244.5 1097.8,234.4 1098.2,248.0 1098.5,251.0 1098.9,221.6 1099.2,221.2 1099.6,231.6 1099.9,197.7 1100.3,187.4 1100.6,173.6 1101.0,193.5 1101.3,163.0 1101.7,160.7 1102.0,180.6 1102.4,196.3 1102.7,195.5 1103.1,213.2 1103.4,189.6 1103.8,166.8 1104.1,182.5 1104.5,208.2 1104.8,227.5 1105.2,195.1 1105.5,179.3 1105.9,157.3 1106.2,195.7 1106.6,195.5 1106.9,201.3 1107.3,174.4 1107.6,193.9 1108.0,186.4 1108.3,189.8 1108.7,221.9 1109.0,203.3 1109.4,195.3 1109.7,199.8 1110.1,213.8 1110.4,200.8 1110.8,216.0 1111.1,221.1 1111.5,228.0 1111.8,224.1 1112.2,204.2 1112.5,210.8 1112.9,201.2 1113.2,202.4 1113.6,188.8 1113.9,196.7 1114.3,208.9 1114.6,192.4 1115.0,192.5 1115.3,194.2 1115.7,195.3 1116.0,195.9 1116.4,205.1 1116.7,204.5 1117.1,200.4 1117.4,190.6 1117.8,185.7 1118.1,208.6 1118.5,183.7 1118.8,186.7 1119.2,172.8 1119.5,203.8 1119.9,234.5 1120.2,205.1 1120.6,192.1 1120.9,177.6 1121.3,183.3 1121.6,187.5 1122.0,204.5 1122.3,179.4 1122.7,234.9 1123.0,208.4 1123.4,213.2 1123.7,204.2 1124.1,206.6 1124.4,198.2 1124.8,204.3 1125.1,177.5 1125.5,197.2 1125.8,193.2 1126.2,220.2 1126.5,198.2 1126.9,211.7 1127.2,194.0 1127.6,213.7 1127.9,208.1 1128.3,211.4 1128.6,200.9 1129.0,199.1 1129.3,216.1 1129.7,196.2 1130.0,165.9 1130.4,234.0 1130.7,233.1 1131.1,222.2 1131.4,201.4 1131.8,215.5 1132.1,218.4 1132.5,173.6 1132.8,159.6 1133.2,173.9 1133.5,183.2 1133.9,175.4 1134.2,196.2 1134.6,172.1 1134.9,170.9 1135.3,157.6 1135.6,230.9 1136.0,173.4 1136.3,205.2 1136.7,199.3 1137.0,215.0 1137.4,166.8 1137.7,201.6 1138.0,147.0 1138.4,182.2 1138.8,170.8 1139.1,205.9 1139.5,208.4 1139.8,210.7 1140.2,242.7 1140.5,218.6 1140.9,267.6 1141.2,241.1 1141.6,195.5 1141.9,244.0 1142.3,248.8 1142.6,241.3 1143.0,244.1 1143.3,242.4 1143.7,261.0 1144.0,198.5 1144.4,266.6 1144.7,244.4 1145.1,234.4 1145.4,261.1 1145.8,236.7 1146.1,220.0 1146.5,230.3 1146.8,241.1 1147.2,250.6 1147.5,236.9 1147.9,241.3 1148.2,221.3 1148.6,262.8 1148.9,200.4 1149.3,267.3 1149.6,240.9 1150.0,253.0 1150.3,226.5 1150.7,249.2 1151.0,228.0 1151.4,241.9 1151.7,241.8 1152.1,232.6 1152.4,231.1 1152.8,252.3 1153.1,227.3 1153.5,224.6 1153.8,262.2 1154.2,229.7 1154.5,205.7 1154.9,237.9 1155.2,218.0 1155.6,238.2 1155.9,266.4 1156.3,211.7 1156.6,236.7 1157.0,235.9 1157.3,238.8 1157.7,232.0 1158.0,263.3 1158.4,209.5 1158.7,217.3 1159.1,189.7 1159.4,181.5 1159.8,138.6 1160.1,221.3 1160.5,236.2 1160.8,184.8 1161.2,148.1 1161.5,165.4 1161.9,203.1 1162.2,145.9 1162.6,164.6 1162.9,143.3 1163.3,154.8 1163.6,210.6 1164.0,148.8 1164.3,163.6 1164.7,115.4 1165.0,154.9 1165.4,137.5 1165.7,156.7 1166.1,149.1 1166.4,147.5 1166.8,133.6 1167.1,176.3 1167.5,181.2 1168.0,103.7 1168.2,173.6 1168.5,194.7 1168.9,204.3 1169.2,189.1 1169.6,170.0 1169.9,144.5 1170.3,221.2 1170.6,225.3 1171.0,187.4 1171.3,164.9 1171.7,203.5 1172.0,231.0 1172.4,235.5 1172.7,219.3 1173.1,235.1 1173.4,210.4 1173.8,245.2 1174.1,251.0 1174.5,243.6 1174.8,215.9 1175.2,216.8 1175.5,231.7 1175.9,239.7 1176.2,207.2 1176.6,207.6 1176.9,227.1 1177.3,239.7 1177.6,239.7 1178.0,224.0 1178.3,246.8 1178.7,247.3 1179.0,232.0 1179.4,244.9 1179.7,237.4 1180.1,236.6 1180.4,232.3 1180.8,229.2 1181.1,248.3 1181.5,241.7 1181.8,209.7 1182.2,236.5 1182.5,228.2 1182.9,232.7 1183.2,228.1 1183.6,230.5 1183.9,227.2 1184.3,222.3 1184.6,244.1 1185.0,225.5 1185.3,220.0 1185.7,229.7 1186.0,233.1 1186.4,223.5 1186.7,234.9 1187.1,235.0 1187.4,215.2 1187.8,236.7 1188.1,214.1 1188.5,247.1 1188.8,229.5 1189.2,240.2 1189.5,212.7 1189.9,220.7 1190.2,238.0 1190.6,201.2 1190.9,193.7 1191.3,227.9 1191.6,203.8 1192.0,147.0 1192.3,155.0 1192.7,187.4 1193.0,185.1 1193.4,217.5 1193.7,209.3 1194.1,196.5 1194.4,206.0 1194.8,220.9 1195.1,203.1 1195.5,201.0 1195.8,200.3 1196.2,213.1 1196.5,191.2 1196.9,218.2 1197.2,210.7 1197.6,221.6 1197.9,223.7 1198.3,245.4 1198.6,220.2 1199.0,209.0 1199.3,234.7 1199.7,220.3 1200.0,251.0 1200.4,235.7 1200.7,216.5 1201.1,224.7 1201.4,227.3 1201.8,240.1 1202.1,242.2 1202.5,231.1 1202.8,221.0 1203.2,235.9 1203.5,212.4 1203.9,223.6 1204.2,222.5 1204.6,236.1 1204.9,196.0 1205.3,213.4 1205.6,214.1 1206.0,205.8 1206.3,220.4 1206.7,241.4 1207.0,194.0 1207.4,208.8 1207.7,214.1 1208.1,215.3 1208.4,211.7 1208.8,211.7 1209.1,222.4 1209.5,234.6 1209.8,214.0 1210.2,225.3 1210.5,201.5 1210.9,201.2 1211.2,225.0 1211.6,193.2 1211.9,218.2 1212.3,243.3 1212.6,192.8 1213.0,244.6 1213.3,193.0 1213.7,199.1 1214.0,193.1 1214.4,205.6 1214.7,213.4 1215.1,226.5 1215.4,200.2 1215.8,205.1 1216.1,213.0 1216.5,217.8 1216.8,216.3 1217.2,238.5 1217.5,193.9 1217.9,215.2 1218.2,211.2 1218.6,198.1 1218.9,192.6 1219.3,198.1 1219.6,169.3 1220.0,169.8 1220.3,192.1 1220.7,199.1 1221.0,221.5 1221.4,204.8 1221.7,200.9 1222.1,180.4 1222.4,179.1 1222.8,158.5 1223.1,225.1 1223.5,185.9 1223.8,174.7 1224.2,205.1 1224.5,180.8 1224.9,177.8 1225.2,221.4 1225.6,183.1 1225.9,175.7 1226.3,206.0 1226.6,192.0 1227.0,197.9 1227.3,180.0 1227.7,204.8 1228.0,165.2 1228.4,200.7 1228.7,218.9 1229.1,183.4 1229.4,197.3 1229.8,203.2 1230.1,204.7 1230.5,214.4 1230.8,205.3 1231.2,211.5 1231.5,219.0 1231.9,227.1 1232.2,207.5 1232.6,191.2 1232.9,227.0 1233.3,190.0 1233.6,172.2 1234.0,177.2 1234.3,218.6 1234.7,164.7 1235.0,197.8 1235.4,191.4 1235.7,205.2 1236.1,191.0 1236.4,220.7 1236.8,164.4 1237.1,205.4 1237.5,191.6 1237.8,197.2 1238.2,201.1 1238.5,165.2 1238.9,191.2 1239.2,225.6 1239.6,224.6 1239.9,177.9 1240.3,176.4 1240.6,218.3 1241.0,219.6 1241.3,198.0 1241.7,183.7 1242.0,190.8 1242.4,155.9 1242.7,191.8 1243.1,198.5 1243.4,211.1 1243.8,200.7 1244.1,196.2 1244.5,197.5 1244.8,192.2 1245.2,209.4 1245.5,175.6 1245.9,155.7 1246.2,185.5 1246.6,178.7 1246.9,156.5 1247.3,224.1 1247.6,166.8 1248.0,198.6 1248.3,189.2 1248.7,203.1 1249.0,217.1 1249.4,162.4 1249.7,175.6 1250.1,209.4 1250.4,145.1 1250.8,213.4 1251.1,195.9 1251.5,197.1 1252.0,130.0 1252.2,190.2 1252.5,178.3 1252.9,174.8 1253.2,165.2 1253.6,203.4 1253.9,199.4 1254.3,211.2 1254.6,215.0 1255.0,225.8 1255.3,231.8 1255.7,240.0 1256.0,251.3 1256.4,269.6 1256.7,238.4 1257.1,259.0 1257.4,262.2 1257.8,271.4 1258.1,261.5 1258.5,261.2 1258.8,262.9 1259.2,246.8 1259.5,260.3 1259.9,278.1 1260.2,247.4 1260.6,268.0 1260.9,254.7 1261.3,252.2 1261.6,257.0 1262.0,259.5 1262.3,262.2 1262.7,261.0 1263.0,267.1 1263.4,247.1 1263.7,274.9 1264.1,249.4 1264.4,261.3 1264.8,250.1 1265.1,255.5 1265.5,269.7 1265.8,286.0 1266.2,280.5 1266.5,262.2 1266.9,252.6 1267.2,258.6 1267.6,270.1 1267.9,241.7 1268.3,249.2 1268.6,239.6 1269.0,228.0 1269.3,251.3 1269.7,242.7 1270.0,242.3 1270.4,240.7 1270.7,252.6 1271.1,259.8 1271.4,254.5 1271.8,240.6 1272.1,261.9 1272.5,278.5 1272.8,236.5 1273.2,267.0 1273.5,257.3 1273.9,250.3 1274.2,230.0 1274.6,234.7 1274.9,247.8 1275.3,237.6 1275.6,253.4 1276.0,238.9 1276.3,246.7 1276.7,228.0 1277.0,232.5 1277.4,251.2 1277.7,205.3 1278.1,183.0 1278.4,191.5 1278.8,218.9 1279.1,213.7 1279.5,195.8 1279.8,201.8 1280.2,195.7 1280.5,213.1 1280.9,197.4 1281.2,204.8 1281.6,189.2 1281.9,194.7 1282.3,203.3 1282.6,208.3 1283.0,218.7 1283.3,189.7 1283.7,186.1 1284.0,210.1 1284.4,210.3 1284.7,191.4 1285.1,213.5 1285.4,202.9 1285.8,204.1 1286.1,216.6 1286.5,235.5 1286.8,234.2 1287.2,217.2 1287.5,229.4 1287.9,219.3 1288.2,237.2 1288.6,226.9 1288.9,213.7 1289.3,237.6 1289.6,236.9 1290.0,253.0 1290.3,217.3 1290.7,224.5 1291.0,248.8 1291.4,224.3 1291.7,259.2 1292.1,223.1 1292.4,231.6 1292.8,207.6 1293.1,220.1 1293.5,167.0 1293.8,161.1 1294.2,120.2 1294.5,193.7 1294.9,140.5 1295.2,162.8 1295.6,159.8 1295.9,147.4 1296.3,117.7 1296.6,166.5 1297.0,140.7 1297.3,138.7 1297.7,119.5 1298.0,149.0 1298.4,107.0 1298.7,129.6 1299.1,95.5 1299.4,118.0 1299.8,121.1 1300.1,98.2 1300.5,146.7 1300.8,114.9 1301.2,87.9 1301.5,138.9 1301.9,160.6 1302.2,86.1 1302.6,150.0 1302.9,127.9 1303.3,124.8 1303.6,106.2 1304.0,148.6 1304.3,104.8 1304.7,124.0 1305.0,143.0 1305.4,146.3 1305.7,152.9 1306.1,112.2 1306.4,127.4 1306.8,151.1 1307.1,156.5 1307.5,165.0 1308.0,76.0 1308.2,134.1 1308.5,139.5 1308.9,136.2 1309.2,157.7 1309.6,145.5 1309.9,92.0 1310.3,135.9 1310.6,157.8 1311.0,92.0 1311.3,112.4 1311.7,138.4 1312.0,103.8 1312.4,171.3 1312.7,146.5 1313.1,110.1 1313.4,111.9 1313.8,150.5 1314.1,152.9 1314.5,155.0 1314.8,143.6 1315.2,116.8 1315.5,139.2 1315.9,159.3 1316.2,166.7 1316.6,93.1 1316.9,141.9 1317.3,153.7 1317.6,109.0 1318.0,152.9 1318.3,116.4 1318.7,160.1 1319.0,140.6 1319.4,160.5 1319.7,159.4 1320.1,172.5 1320.4,174.7 1320.8,168.7 1321.1,177.8 1321.5,195.8 1321.8,187.4 1322.2,186.5 1322.5,195.2 1322.9,174.6 1323.2,186.5 1323.6,176.9 1323.9,185.2 1324.3,195.0 1324.6,145.4 1325.0,155.9 1325.3,173.1 1325.7,173.6 1326.0,174.3 1326.4,157.5 1326.7,167.9 1327.1,165.1 1327.4,160.8 1327.8,153.8 1328.1,147.4 1328.5,159.3 1328.8,161.8 1329.2,150.8 1329.5,183.2 1329.9,167.0 1330.2,183.7 1330.6,198.5 1330.9,187.6 1331.3,156.6 1331.6,186.7 1332.0,177.7 1332.3,174.8 1332.7,191.1 1333.0,189.0 1333.4,159.0 1333.7,165.9 1334.1,156.2 1334.4,178.8 1334.8,170.7 1335.1,176.6 1335.5,193.9 1335.8,184.7 1336.2,183.6 1336.5,184.8 1337.0,140.0 1337.2,201.2 1337.6,168.8 1337.9,150.1"/>
<polyline fill="none" stroke="#c9c9c9" stroke-width="1.3" stroke-linejoin="miter" points="1052.0,318.8 1052.3,301.9 1052.7,319.4 1053.0,329.7 1053.4,297.1 1053.7,326.5 1054.1,346.5 1054.4,392.5 1054.8,309.4 1055.1,361.7 1055.5,315.6 1055.8,407.8 1056.2,319.3 1056.5,384.4 1056.9,343.8 1057.2,302.2 1057.6,345.4 1057.9,320.0 1058.3,336.3 1058.6,354.1 1059.0,329.7 1059.3,391.3 1059.7,383.9 1060.0,404.9 1060.4,360.2 1060.7,404.3 1061.1,387.2 1061.4,395.4 1061.8,380.5 1062.1,375.1 1062.5,401.5 1063.0,411.0 1063.2,368.1 1063.5,345.6 1063.9,325.6 1064.2,336.2 1064.6,344.6 1064.9,369.1 1065.3,343.9 1065.6,314.2 1066.0,361.0 1066.3,300.9 1066.7,362.7 1067.0,342.8 1067.4,344.4 1067.7,322.6 1068.1,351.2 1068.4,370.9 1068.8,303.1 1069.1,350.6 1069.5,339.3 1069.8,328.6 1070.2,342.6 1070.5,341.2 1070.9,348.3 1071.2,372.2 1071.6,312.6 1071.9,327.8 1072.3,348.2 1072.6,372.7 1073.0,320.3 1073.3,342.8 1073.7,373.0 1074.0,351.4 1074.4,333.5 1074.7,318.4 1075.1,296.1 1075.4,288.1 1075.8,327.4 1076.1,328.3 1076.5,316.0 1076.8,356.1 1077.2,291.3 1077.5,325.4 1077.9,317.0 1078.2,348.7 1078.6,359.8 1078.9,365.8 1079.3,332.2 1079.6,363.0 1080.0,292.1 1080.3,337.3 1080.7,323.3 1081.0,333.2 1081.4,364.2 1081.7,363.3 1082.1,339.1 1082.4,323.8 1082.8,292.9 1083.1,349.6 1083.5,347.1 1083.8,353.0 1084.2,333.9 1084.5,346.2 1084.9,307.7 1085.2,361.5 1085.6,292.0 1085.9,347.0 1086.3,341.8 1086.6,335.0 1087.0,350.9 1087.3,322.0 1087.7,296.3 1088.0,335.1 1088.4,315.9 1088.7,306.6 1089.1,299.5 1089.4,322.6 1089.8,367.0 1090.1,315.7 1090.5,349.8 1090.8,304.7 1091.2,332.8 1091.5,329.3 1091.9,313.6 1092.2,302.9 1092.6,308.9 1092.9,305.8 1093.3,349.3 1093.6,322.7 1094.0,334.8 1094.3,297.2 1094.7,320.8 1095.0,345.6 1095.4,320.2 1095.7,336.2 1096.1,331.3 1096.4,328.0 1096.8,359.7 1097.1,325.3 1097.5,325.2 1097.8,357.0 1098.2,339.5 1098.5,345.5 1098.9,344.6 1099.2,353.3 1099.6,329.4 1099.9,342.8 1100.3,319.5 1100.6,312.8 1101.0,330.1 1101.3,350.8 1101.7,319.0 1102.0,322.1 1102.4,323.4 1102.7,313.7 1103.1,325.3 1103.4,359.2 1103.8,327.6 1104.1,289.3 1104.5,317.7 1104.8,325.3 1105.2,373.0 1105.5,329.9 1105.9,342.5 1106.2,350.0 1106.6,327.1 1106.9,329.7 1107.3,333.9 1107.6,316.7 1108.0,316.4 1108.3,320.1 1108.7,323.7 1109.0,312.0 1109.4,297.6 1109.7,303.0 1110.1,338.0 1110.4,329.2 1110.8,308.9 1111.1,304.4 1111.5,315.1 1111.8,298.7 1112.2,309.4 1112.5,296.5 1112.9,320.4 1113.2,308.2 1113.6,351.0 1113.9,310.6 1114.3,318.3 1114.6,324.9 1115.0,310.2 1115.3,323.9 1115.7,321.8 1116.0,307.7 1116.4,347.2 1116.7,309.5 1117.1,323.6 1117.4,325.9 1117.8,348.1 1118.1,318.7 1118.5,328.4 1118.8,342.9 1119.2,326.7 1119.5,342.2 1119.9,344.3 1120.2,323.3 1120.6,339.4 1120.9,343.3 1121.3,336.3 1121.6,336.9 1122.0,344.7 1122.3,306.7 1122.7,366.0 1123.0,350.5 1123.4,330.6 1123.7,329.8 1124.1,310.8 1124.4,343.7 1124.8,343.1 1125.1,337.4 1125.5,306.2 1125.8,334.3 1126.2,344.3 1126.5,341.0 1126.9,359.1 1127.2,355.9 1127.6,337.5 1127.9,397.2 1128.3,401.4 1128.6,362.5 1129.0,375.5 1129.3,366.0 1129.7,365.7 1130.0,383.1 1130.4,415.9 1130.7,392.4 1131.1,373.6 1131.4,383.1 1131.8,400.1 1132.1,390.9 1132.5,387.4 1132.8,416.2 1133.2,360.9 1133.5,371.0 1133.9,408.7 1134.2,388.7 1134.6,346.5 1134.9,356.2 1135.3,390.6 1135.6,366.9 1136.0,374.7 1136.3,384.3 1136.7,370.5 1137.0,347.6 1137.4,398.2 1137.7,376.8 1138.1,409.7 1138.4,367.7 1138.8,339.9 1139.1,393.0 1139.5,378.9 1139.8,378.1 1140.2,383.5 1140.5,401.8 1140.9,407.9 1141.2,372.8 1141.6,394.2 1141.9,399.7 1142.3,399.1 1142.6,355.3 1143.0,400.4 1143.3,351.3 1143.7,388.0 1144.0,387.5 1144.4,364.9 1144.7,379.6 1145.0,460.5 1145.4,392.6 1145.8,392.5 1146.1,376.1 1146.5,389.6 1146.8,379.2 1147.2,387.0 1147.5,391.0 1147.9,407.7 1148.2,396.1 1148.6,369.4 1148.9,396.8 1149.3,431.8 1149.6,418.4 1150.0,436.2 1150.3,387.5 1150.7,413.0 1151.0,389.1 1151.4,381.8 1151.7,422.5 1152.1,395.2 1152.4,412.8 1152.8,417.8 1153.1,419.7 1153.5,398.2 1153.8,356.3 1154.2,396.1 1154.5,376.2 1154.9,372.0 1155.2,368.3 1155.6,361.9 1155.9,358.0 1156.3,411.2 1156.6,369.8 1157.0,370.9 1157.3,380.7 1157.7,386.6 1158.0,442.0 1158.4,332.9 1158.7,340.4 1159.1,347.2 1159.4,439.4 1159.8,338.5 1160.1,354.5 1160.5,352.5 1160.8,350.7 1161.2,352.3 1161.5,379.1 1161.9,363.1 1162.2,360.4 1162.6,400.5 1162.9,390.8 1163.3,406.5 1163.6,392.8 1164.0,358.2 1164.3,359.4 1164.7,384.4 1165.0,387.0 1165.4,382.6 1165.7,354.6 1166.1,363.6 1166.4,414.0 1166.8,370.4 1167.1,361.0 1167.5,345.8 1167.8,370.6 1168.2,370.4 1168.5,366.2 1168.9,337.9 1169.2,384.9 1169.6,369.3 1169.9,371.3 1170.3,364.7 1170.6,354.0 1171.0,353.9 1171.3,372.2 1171.7,356.7 1172.0,361.4 1172.4,360.6 1172.7,341.8 1173.1,361.1 1173.4,366.5 1173.8,373.8 1174.1,365.0 1174.5,396.4 1174.8,357.0 1175.2,394.7 1175.5,354.8 1175.9,342.4 1176.2,348.9 1176.6,382.4 1176.9,353.1 1177.3,342.9 1177.6,337.7 1178.0,379.4 1178.3,335.4 1178.7,370.1 1179.0,355.4 1179.4,379.1 1179.7,380.4 1180.1,335.0 1180.4,376.8 1180.8,348.1 1181.1,361.2 1181.5,370.1 1181.8,375.8 1182.2,362.5 1182.5,345.7 1182.9,355.2 1183.2,366.4 1183.6,377.2 1183.9,372.2 1184.3,371.5 1184.6,334.1 1185.0,365.9 1185.3,375.0 1185.7,345.9 1186.0,357.8 1186.4,353.3 1186.7,350.1 1187.1,358.5 1187.4,334.4 1187.8,377.5 1188.1,348.9 1188.5,361.6 1188.8,358.9 1189.2,378.6 1189.5,349.0 1189.9,341.9 1190.2,341.9 1190.6,354.7 1190.9,343.6 1191.3,344.2 1191.6,331.0 1192.0,348.2 1192.3,344.1 1192.7,337.6 1193.0,331.4 1193.4,336.5 1193.7,322.8 1194.1,325.1 1194.4,336.8 1194.8,356.7 1195.1,343.8 1195.5,338.3 1195.8,331.5 1196.2,362.1 1196.5,351.1 1196.9,335.9 1197.2,349.0 1197.6,303.8 1197.9,319.7 1198.3,352.1 1198.6,339.0 1199.0,371.4 1199.3,367.0 1199.7,354.5 1200.0,355.2 1200.4,354.2 1200.7,370.0 1201.1,373.0 1201.4,373.0 1201.8,373.0 1202.1,348.6 1202.5,318.5 1202.8,362.8 1203.2,358.1 1203.5,350.0 1203.9,356.7 1204.2,314.2 1204.6,313.1 1204.9,357.8 1205.3,341.9 1205.6,304.8 1206.0,349.2 1206.3,367.6 1206.7,361.4 1207.0,315.0 1207.4,318.1 1207.7,337.1 1208.1,350.9 1208.4,333.6 1208.8,330.6 1209.1,317.9 1209.5,322.6 1209.8,305.6 1210.2,318.8 1210.5,315.1 1210.9,343.5 1211.2,341.8 1211.6,310.8 1211.9,365.1 1212.3,349.6 1212.6,306.9 1213.0,324.4 1213.3,319.8 1213.7,315.1 1214.0,327.3 1214.4,352.0 1214.7,319.0 1215.1,330.9 1215.4,327.7 1215.8,322.0 1216.1,317.7 1216.5,366.2 1216.8,327.6 1217.2,341.2 1217.5,336.5 1217.9,370.9 1218.2,355.9 1218.6,330.5 1218.9,313.4 1219.3,359.0 1219.6,356.2 1220.0,342.8 1220.3,331.6 1220.7,333.7 1221.0,351.0 1221.4,344.0 1221.7,341.9 1222.1,364.7 1222.4,365.6 1222.8,369.2 1223.1,356.3 1223.5,389.1 1223.8,400.3 1224.2,353.2 1224.5,373.8 1224.9,401.4 1225.2,394.8 1225.6,381.4 1225.9,386.9 1226.3,398.2 1226.6,388.8 1227.0,370.8 1227.3,360.3 1227.7,404.8 1228.0,373.2 1228.4,402.9 1228.7,380.0 1229.1,362.6 1229.4,375.6 1229.8,354.5 1230.1,374.2 1230.5,385.1 1230.8,355.8 1231.2,357.7 1231.5,385.9 1231.9,354.2 1232.2,353.1 1232.6,381.6 1232.9,356.3 1233.3,359.4 1233.6,419.2 1234.0,362.1 1234.3,394.0 1234.7,362.8 1235.0,363.7 1235.4,358.9 1235.7,352.8 1236.1,401.9 1236.4,385.3 1236.8,377.9 1237.1,376.0 1237.5,379.9 1237.8,386.6 1238.2,411.6 1238.5,405.8 1238.9,388.7 1239.2,421.0 1239.6,392.3 1239.9,390.3 1240.3,382.7 1240.6,404.4 1241.0,394.4 1241.3,353.9 1241.7,368.5 1242.0,401.1 1242.4,420.2 1242.7,351.9 1243.1,387.6 1243.4,379.5 1243.8,381.4 1244.1,373.6 1244.5,379.2 1244.8,411.3 1245.2,420.1 1245.5,390.8 1245.9,359.0 1246.2,374.4 1246.6,377.4 1246.9,384.9 1247.3,363.8 1247.6,393.5 1248.0,374.0 1248.3,379.5 1248.7,410.3 1249.0,385.8 1249.4,345.5 1249.7,367.4 1250.1,340.9 1250.4,378.7 1250.8,357.8 1251.1,391.2 1251.5,372.4 1251.8,381.3 1252.2,380.6 1252.5,382.4 1252.9,347.2 1253.2,365.0 1253.6,399.8 1253.9,421.0 1254.3,418.1 1254.6,384.8 1255.0,407.7 1255.3,371.9 1255.7,361.9 1256.0,349.2 1256.4,350.5 1256.7,394.5 1257.1,384.1 1257.4,359.4 1257.8,376.1 1258.1,377.9 1258.5,390.6 1258.8,388.1 1259.2,374.4 1259.5,411.3 1259.9,366.1 1260.2,416.9 1260.6,390.7 1260.9,389.1 1261.3,404.0 1261.6,415.6 1262.0,392.6 1262.3,400.4 1262.7,380.8 1263.0,342.4 1263.4,367.7 1263.7,383.1 1264.1,399.5 1264.4,391.8 1264.8,358.8 1265.1,398.5 1265.5,393.2 1265.8,361.4 1266.2,374.3 1266.5,385.2 1266.9,387.0 1267.2,374.8 1267.6,366.6 1267.9,363.1 1268.3,373.7 1268.6,380.6 1269.0,411.9 1269.3,363.6 1269.7,381.0 1270.0,386.7 1270.4,401.1 1270.7,365.7 1271.1,385.1 1271.4,383.6 1271.8,368.9 1272.1,381.3 1272.5,362.7 1272.8,413.6 1273.2,413.9 1273.5,410.6 1273.9,421.2 1274.2,411.2 1274.6,427.8 1274.9,418.5 1275.3,418.5 1275.6,400.0 1276.0,446.9 1276.3,427.8 1276.7,443.7 1277.0,454.4 1277.4,465.0 1277.7,411.4 1278.1,435.8 1278.4,426.4 1278.8,435.4 1279.1,381.0 1279.5,419.4 1279.8,412.7 1280.2,407.5 1280.5,391.1 1280.9,438.8 1281.2,361.0 1281.6,367.9 1281.9,372.1 1282.3,392.4 1282.6,409.8 1283.0,374.3 1283.3,372.5 1283.7,385.1 1284.0,388.6 1284.4,401.2 1284.7,352.1 1285.1,369.5 1285.4,393.9 1285.8,380.8 1286.1,361.9 1286.5,370.0 1286.8,395.6 1287.2,388.1 1287.5,391.7 1287.9,387.5 1288.2,359.6 1288.6,401.3 1288.9,379.4 1289.3,370.2 1289.6,397.0 1290.0,431.1 1290.3,406.1 1290.7,400.1 1291.0,415.0 1291.4,404.6 1291.7,426.0 1292.1,399.9 1292.4,431.7 1292.8,407.9 1293.1,406.9 1293.5,399.1 1293.8,423.8 1294.2,393.1 1294.5,397.8 1294.9,395.2 1295.2,406.9 1295.6,405.7 1295.9,373.2 1296.3,411.6 1296.6,389.9 1297.0,421.7 1297.3,421.5 1297.7,421.0 1298.0,392.0 1298.4,425.9 1298.7,425.4 1299.1,432.5 1299.4,420.7 1299.8,435.0 1300.1,417.0 1300.5,427.7 1300.8,418.1 1301.2,415.9 1301.5,413.7 1301.9,385.2 1302.2,383.7 1302.6,372.1 1302.9,338.7 1303.3,368.9 1303.6,338.7 1304.0,318.6 1304.3,344.2 1304.7,317.0 1305.0,294.9 1305.4,343.0 1305.7,351.6 1306.1,298.8 1306.4,342.1 1306.8,351.0 1307.1,323.6 1307.5,317.1 1307.8,327.9 1308.2,312.2 1308.5,324.9 1308.9,333.5 1309.2,308.5 1309.6,330.2 1309.9,324.7 1310.3,320.1 1310.6,293.0 1311.0,320.2 1311.3,372.5 1311.7,335.5 1312.0,320.1 1312.4,320.2 1312.7,341.6 1313.1,316.1 1313.4,304.6 1313.8,343.4 1314.1,323.2 1314.5,318.9 1314.8,327.8 1315.2,346.8 1315.5,350.5 1315.9,325.0 1316.2,328.5 1316.6,317.3 1316.9,357.9 1317.3,334.1 1317.6,348.5 1318.0,330.4 1318.3,321.3 1318.7,324.4 1319.0,363.3 1319.4,339.5 1319.7,338.0 1320.1,327.3 1320.4,332.9 1320.8,350.5 1321.1,312.7 1321.5,333.5 1321.8,324.6 1322.2,301.2 1322.5,335.5 1322.9,343.7 1323.2,340.6 1323.6,332.1 1323.9,342.1 1324.3,353.1 1324.6,330.7 1325.0,340.4 1325.3,344.1 1325.7,298.9 1326.0,329.6 1326.4,352.7 1326.7,330.4 1327.1,363.8 1327.4,314.5 1327.8,309.8 1328.1,336.2 1328.5,332.9 1328.8,339.6 1329.2,356.0 1329.5,316.1 1329.9,352.9 1330.2,324.9 1330.6,342.9 1330.9,334.3 1331.3,343.1 1331.6,370.6 1332.0,337.6 1332.3,329.9 1332.7,368.4 1333.0,320.9 1333.4,356.2 1333.7,307.9 1334.1,356.6 1334.4,369.1 1334.8,322.4 1335.1,333.6 1335.5,325.0 1335.8,340.7 1336.2,336.8 1336.5,313.3 1336.9,308.3 1337.2,335.3 1337.6,292.2 1337.9,295.8"/>
<line x1="245.6" y1="72" x2="245.6" y2="506.5" stroke="#2a8f52" stroke-width="2"/>
<line x1="562.0" y1="72" x2="562.0" y2="506.5" stroke="#2a8f52" stroke-width="2"/>
<line x1="879.6" y1="72" x2="879.6" y2="506.5" stroke="#2a8f52" stroke-width="2"/>
<line x1="1195.4" y1="72" x2="1195.4" y2="506.5" stroke="#2a8f52" stroke-width="2"/>
<polyline fill="none" stroke="#000" stroke-width="1.5" stroke-linejoin="miter" points="93.0,230.3 93.3,224.4 93.7,220.7 94.0,217.8 94.4,204.8 94.7,187.1 95.1,241.9 95.4,238.2 95.8,186.2 96.1,218.0 96.5,219.2 96.8,213.4 97.2,192.1 97.5,225.1 97.9,217.6 98.2,256.4 98.6,221.3 98.9,235.6 99.3,227.5 99.6,235.6 100.0,214.5 100.3,286.0 100.7,288.4 101.0,252.0 101.4,259.4 101.7,275.2 102.1,276.1 102.4,262.7 102.8,289.5 103.0,316.0 103.5,288.3 103.8,298.4 104.2,298.5 104.5,298.8 104.9,276.5 105.2,292.4 105.6,292.7 105.9,289.5 106.3,294.8 106.6,285.0 107.0,293.5 107.3,276.5 107.7,270.5 108.0,270.5 108.4,271.8 108.7,259.2 109.1,255.6 109.4,263.7 109.8,264.8 110.1,259.1 110.5,246.7 110.8,252.9 111.2,234.5 111.5,245.9 111.9,249.0 112.2,254.8 112.6,248.4 112.9,249.1 113.3,242.6 113.6,257.4 114.0,247.7 114.3,248.3 114.7,235.1 115.0,243.6 115.4,231.8 115.7,238.9 116.1,252.1 116.4,245.4 116.8,241.5 117.1,240.7 117.5,251.3 117.8,252.2 118.2,233.2 118.5,244.6 118.9,248.5 119.2,228.8 119.6,228.6 119.9,234.0 120.3,247.5 120.6,239.0 121.0,239.3 121.3,250.5 121.7,239.8 122.0,244.4 122.4,239.7 122.7,238.0 123.1,245.5 123.4,228.8 123.8,249.0 124.1,245.4 124.5,241.8 124.8,244.6 125.2,228.4 125.5,246.5 125.9,237.0 126.2,247.2 126.6,232.1 126.9,247.2 127.3,235.2 127.6,236.3 128.0,250.6 128.3,235.4 128.7,238.0 129.0,236.3 129.4,241.2 129.7,237.0 130.1,244.6 130.4,238.8 130.8,248.7 131.1,242.4 131.5,239.1 131.8,246.1 132.2,246.1 132.5,239.6 132.9,246.7 133.2,234.6 133.6,248.1 133.9,240.9 134.3,245.1 134.6,246.3 135.0,245.7 135.3,241.6 135.7,254.5 136.0,248.3 136.4,237.8 136.7,237.8 137.1,250.1 137.4,254.1 137.8,242.9 138.1,230.3 138.5,236.8 138.8,227.6 139.2,241.6 139.5,235.2 139.9,233.9 140.2,242.3 140.6,255.4 140.9,239.4 141.3,236.9 141.6,238.1 142.0,259.4 142.3,243.2 142.7,239.9 143.0,228.1 143.4,255.3 143.7,242.1 144.1,260.5 144.4,230.8 144.8,235.6 145.1,240.2 145.5,227.3 145.8,233.0 146.2,239.3 146.5,232.2 146.9,231.1 147.2,259.1 147.6,253.9 147.9,232.8 148.3,244.0 148.6,234.2 149.0,232.3 149.3,235.2 149.7,245.0 150.0,239.6 150.4,236.4 150.7,231.6 151.1,256.5 151.4,232.7 151.8,246.4 152.1,235.7 152.5,233.9 152.8,246.4 153.2,250.3 153.5,249.7 153.9,246.8 154.2,245.7 154.6,242.8 154.9,247.0 155.3,242.2 155.6,250.4 156.0,238.5 156.3,256.2 156.7,246.4 157.0,254.5 157.4,256.3 157.7,254.9 158.1,247.7 158.4,249.4 158.8,256.8 159.1,242.9 159.5,248.3 159.8,250.5 160.2,253.5 160.5,229.1 160.9,239.8 161.2,239.1 161.6,231.3 161.9,237.3 162.3,239.4 162.6,240.4 163.0,234.2 163.3,249.1 163.7,233.7 164.0,241.3 164.4,237.1 164.7,245.5 165.1,233.9 165.4,241.1 165.8,233.6 166.1,240.6 166.5,242.8 166.8,242.3 167.2,244.2 167.5,241.5 167.9,254.4 168.2,240.3 168.6,255.2 168.9,225.7 169.3,255.8 169.6,244.0 170.0,244.3 170.3,244.4 170.7,225.8 171.0,244.7 171.4,252.0 171.7,241.5 172.1,242.6 172.4,242.5 172.8,249.5 173.1,245.1 173.5,233.0 173.8,238.0 174.2,238.3 174.5,244.9 174.9,247.0 175.2,237.7 175.6,228.6 175.9,240.0 176.3,253.2 176.6,229.7 177.0,239.0 177.3,239.3 177.7,229.4 178.0,244.3 178.4,256.9 178.7,247.0 179.1,230.1 179.4,237.2 179.8,240.4 180.1,243.6 180.5,231.0 180.8,238.5 181.2,242.5 181.5,244.7 181.9,251.4 182.2,253.7 182.6,248.5 182.9,246.5 183.3,238.5 183.6,251.0 184.0,257.3 184.3,249.4 184.7,235.6 185.0,236.7 185.4,250.2 185.7,243.8 186.1,233.4 186.4,249.5 186.8,244.5 187.1,239.3 187.5,250.6 187.8,231.4 188.2,238.9 188.5,240.7 188.9,233.9 189.2,250.3 189.6,245.8 189.9,232.1 190.3,244.8 190.6,243.2 191.0,243.5 191.3,253.2 191.7,255.1 192.0,248.7 192.4,253.3 192.7,255.7 193.1,235.0 193.4,256.1 193.8,262.3 194.1,257.2 194.5,255.1 194.8,263.8 195.2,260.5 195.5,248.9 195.9,258.5 196.2,258.8 196.6,260.1 196.9,257.9 197.3,255.3 197.6,252.8 198.0,247.4 198.3,256.5 198.7,242.9 199.0,256.7 199.4,260.1 199.7,259.4 200.1,244.9 200.4,249.2 200.8,240.5 201.1,241.5 201.5,256.7 201.8,249.6 202.2,240.7 202.5,243.6 202.9,254.1 203.2,255.8 203.6,264.9 203.9,250.0 204.3,258.9 204.6,253.4 205.0,255.4 205.3,243.3 205.7,252.7 206.0,235.8 206.4,252.4 206.7,260.7 207.1,253.8 207.4,258.5 207.8,252.9 208.1,245.6 208.5,254.4 208.8,249.6 209.2,253.2 209.5,260.8 209.9,240.9 210.2,252.6 210.6,255.3 210.9,247.6 211.3,257.7 211.6,245.3 212.0,245.8 212.3,254.3 212.7,254.9 213.0,248.0 213.4,250.1 213.7,240.6 214.1,234.1 214.4,245.9 214.8,238.7 215.1,253.2 215.5,244.6 215.8,253.5 216.2,244.6 216.5,236.2 216.9,248.3 217.2,257.5 217.6,259.3 217.9,236.4 218.3,246.5 218.6,233.0 219.0,265.4 219.3,242.8 219.7,257.9 220.0,249.4 220.4,238.4 220.7,257.5 221.1,239.6 221.4,250.9 221.8,234.2 222.1,233.9 222.5,242.4 222.8,245.3 223.2,252.2 223.5,247.8 223.9,242.0 224.2,257.9 224.6,245.7 224.9,234.1 225.3,246.4 225.6,254.4 226.0,233.7 226.3,248.5 226.7,249.6 227.0,251.8 227.4,245.2 227.7,259.9 228.1,253.8 228.4,263.5 228.8,249.5 229.1,250.9 229.5,255.7 229.8,257.9 230.2,248.4 230.5,255.9 230.9,242.1 231.2,249.8 231.6,250.6 231.9,257.3 232.3,232.8 232.6,243.7 233.0,244.1 233.3,244.5 233.7,245.2 234.0,258.2 234.4,238.0 234.7,234.9 235.1,251.4 235.4,246.3 235.8,241.2 236.1,243.0 236.5,258.1 236.8,260.5 237.2,249.4 237.5,243.3 237.9,246.7 238.2,236.9 238.6,242.1 238.9,234.9 239.3,248.8 239.6,235.5 240.0,248.3 240.3,240.2 240.7,231.4 241.0,230.5 241.4,232.9 241.7,234.9 242.1,230.0 242.4,244.0 242.8,240.0 243.1,240.2 243.5,254.9 243.8,225.8 244.2,238.4 244.5,251.3 244.9,238.3 245.2,242.5 245.6,227.7 245.9,229.7 246.3,219.4 246.6,244.0 247.0,225.3 247.3,221.6 247.7,221.8 248.0,218.5 248.4,231.3 248.7,226.5 249.1,222.0 249.4,216.3 249.8,229.6 250.1,223.8 250.5,210.7 250.8,222.5 251.2,230.0 251.5,237.3 251.9,225.6 252.2,229.0 252.6,219.0 252.9,222.6 253.3,212.4 253.6,220.0 254.0,232.1 254.3,242.3 254.7,220.8 255.0,206.2 255.4,231.7 255.7,211.3 256.1,220.6 256.4,219.5 256.8,216.8 257.1,230.7 257.5,232.7 257.8,231.9 258.2,229.5 258.5,220.2 258.9,216.8 259.2,230.5 259.6,228.9 259.9,223.0 260.3,230.8 260.6,223.6 261.0,225.9 261.3,231.6 261.7,237.8 262.0,224.8 262.4,232.4 262.7,241.2 263.1,236.0 263.4,237.4 263.8,234.1 264.1,245.0 264.5,235.7 264.8,232.0 265.2,233.4 265.5,228.1 265.9,227.6 266.2,227.7 266.6,227.9 266.9,236.5 267.3,218.6 267.6,235.0 268.0,233.9 268.3,226.7 268.7,235.5 269.0,229.8 269.4,230.7 269.7,241.2 270.1,222.8 270.4,237.0 270.8,236.1 271.1,227.8 271.5,221.6 271.8,224.6 272.2,220.4 272.5,221.3 272.9,226.9 273.2,224.6 273.6,226.3 273.9,228.7 274.3,227.6 274.6,228.8 275.0,230.1 275.3,226.9 275.7,248.4 276.0,229.9 276.4,228.4 276.7,227.0 277.1,232.1 277.4,234.9 277.8,235.8 278.1,240.9 278.5,233.5 278.8,237.4 279.2,236.7 279.5,232.6 279.9,235.2 280.2,234.7 280.6,219.9 280.9,241.2 281.3,239.6 281.6,223.9 282.0,241.7 282.3,230.7 282.7,235.5 283.0,234.0 283.4,224.0 283.7,216.0 284.1,221.3 284.4,222.5 284.8,226.8 285.1,225.7 285.5,222.4 285.8,224.2 286.2,226.7 286.5,226.2 286.9,218.0 287.2,220.9 287.6,218.2 287.9,228.3 288.3,217.2 288.6,228.7 289.0,216.5 289.3,228.6 289.7,232.2 290.0,224.2 290.4,227.2 290.7,234.4 291.1,248.2 291.4,235.7 291.8,239.0 292.1,234.9 292.5,245.2 292.8,230.7 293.2,225.3 293.5,225.4 293.9,226.6 294.2,232.4 294.6,224.3 294.9,240.0 295.3,236.7 295.6,231.2 296.0,263.0 296.3,242.1 296.7,241.0 297.1,250.6 297.4,245.6 297.8,267.8 298.1,250.5 298.5,250.9 298.8,254.0 299.2,243.8 299.5,264.7 299.9,252.0 300.2,266.1 300.6,248.0 300.9,258.7 301.3,257.6 301.6,254.1 302.0,262.0 302.3,260.2 302.7,259.2 303.0,251.7 303.4,255.9 303.7,267.8 304.1,262.6 304.4,249.4 304.8,262.4 305.1,265.7 305.5,230.8 305.8,248.4 306.2,247.9 306.5,246.5 306.9,235.5 307.2,247.0 307.6,257.5 307.9,255.6 308.3,252.0 308.6,247.3 309.0,255.8 309.3,248.8 309.7,262.3 310.0,257.3 310.4,255.5 310.7,257.3 311.1,265.9 311.4,241.8 311.8,256.3 312.1,230.5 312.5,248.2 312.8,245.4 313.2,243.2 313.5,241.7 313.9,241.3 314.2,234.3 314.6,243.1 314.9,245.1 315.3,242.8 315.6,255.7 316.0,239.9 316.3,242.6 316.7,248.2 317.0,248.8 317.4,234.0 317.7,227.2 318.1,229.6 318.4,227.8 318.8,237.0 319.1,232.0 319.5,237.7 319.8,248.0 320.2,232.4 320.5,244.7 320.9,240.3 321.2,242.6 321.6,237.0 321.9,230.3 322.3,241.0 322.6,241.8 323.0,225.3 323.3,237.4 323.7,240.9 324.0,226.5 324.4,232.6 324.7,223.1 325.1,248.5 325.4,243.3 325.8,245.8 326.1,241.4 326.5,236.3 326.8,239.2 327.2,246.8 327.5,244.4 327.9,235.9 328.2,238.9 328.6,244.6 328.9,229.8 329.3,240.8 329.6,240.9 330.0,245.1 330.3,227.1 330.7,231.3 331.0,234.1 331.4,232.2 331.7,237.1 332.1,234.6 332.4,245.6 332.8,228.0 333.1,226.9 333.5,232.9 333.8,223.1 334.2,236.0 334.5,234.2 334.9,235.3 335.2,238.8 335.6,233.9 335.9,234.6 336.3,240.0 336.6,247.8 337.0,238.5 337.3,238.7 337.7,238.3 338.0,246.3 338.4,236.7 338.7,242.5 339.1,247.7 339.4,241.4 339.8,234.9 340.1,234.0 340.5,235.4 340.8,243.0 341.2,241.0 341.5,243.5 341.9,248.3 342.2,254.2 342.6,260.4 342.9,255.0 343.3,254.8 343.6,237.0 344.0,260.2 344.3,250.9 344.7,252.5 345.0,251.9 345.4,258.6 345.7,258.7 346.1,259.6 346.4,263.9 346.8,264.5 347.1,262.6 347.5,261.4 347.8,256.9 348.2,263.0 348.5,246.9 348.9,260.6 349.2,260.9 349.6,256.1 349.9,236.5 350.3,243.3 350.6,248.4 351.0,246.2 351.3,260.1 351.7,251.7 352.0,242.7 352.4,237.2 352.7,241.1 353.1,255.5 353.4,250.5 353.8,246.0 354.1,239.4 354.5,253.1 354.8,244.0 355.2,234.8 355.5,238.8 355.9,241.1 356.2,251.5 356.6,234.0 356.9,242.2 357.3,242.2 357.6,245.1 358.0,241.0 358.3,247.8 358.7,246.1 359.0,258.1 359.4,241.9 359.7,245.9 360.1,249.7 360.4,251.5 360.8,260.1 361.1,244.4 361.5,256.3 361.8,248.9 362.2,241.2 362.5,266.0 362.9,253.8 363.2,257.6 363.6,253.2 363.9,257.9 364.3,254.9 364.6,255.6 365.0,251.2 365.3,253.5 365.7,252.8 366.0,257.7 366.4,258.0 366.7,260.0 367.1,248.9 367.4,242.0 367.8,262.9 368.1,255.1 368.5,260.9 368.8,255.4 369.2,251.4 369.5,260.2 369.9,260.3 370.2,251.5 370.6,259.4 370.9,246.4 371.3,225.4 371.6,243.8 372.0,232.7 372.3,232.6 372.7,223.5 373.0,227.1 373.4,231.8 373.7,248.3 374.1,221.5 374.4,223.2 374.8,227.8 375.1,219.8 375.5,235.2 375.8,241.1 376.2,244.7 376.5,256.2 376.9,231.5 377.2,244.8 377.6,239.5 377.9,249.1 378.3,233.1 378.6,240.4 379.0,235.3 379.3,230.3 379.7,225.2 380.0,235.2 380.4,233.1 380.7,243.1 381.1,230.4 381.4,249.9 381.8,241.3 382.1,248.7 382.5,228.8 382.8,233.4 383.2,235.9 383.5,237.8 383.9,244.4 384.2,233.0 384.6,242.9 384.9,223.4 385.3,229.5 385.6,233.8 386.0,216.1 386.3,230.7 386.7,233.6 387.0,250.3 387.4,232.5 387.7,241.9 388.1,243.8 388.4,237.7 388.8,240.9 389.1,225.7 389.5,230.1 389.8,213.2 390.2,215.3 390.5,236.7 390.9,224.0 391.2,233.1 391.6,223.7 391.9,206.8 392.3,223.6 392.6,216.1 393.0,225.3 393.3,238.4 393.7,212.0 394.0,221.4 394.4,229.2 394.7,223.2 395.1,218.5 395.4,220.1 395.8,224.7 396.1,217.1 396.5,244.6 396.8,202.5"/>
<polyline fill="none" stroke="#000" stroke-width="1.5" stroke-linejoin="miter" points="417.5,17.5 417.9,40.4 418.2,58.0 418.6,84.2 418.9,109.3 419.3,124.2 419.6,135.7 420.0,148.9 420.3,163.0 420.7,173.1 421.0,182.4 421.4,191.8 421.7,202.1 422.1,206.3 422.4,212.9 422.8,214.1 423.1,222.3 423.5,218.2 423.8,231.6 424.2,235.3 424.5,245.2 424.9,247.4 425.2,245.0 425.6,243.2 425.9,247.6 426.3,253.3 426.6,263.3 427.0,246.4 427.3,260.2 427.7,262.5 428.0,261.3 428.4,258.6 428.7,267.0 429.1,256.6 429.4,263.1 429.8,255.2 430.1,251.2 430.5,246.8 430.8,236.5 431.2,261.2 431.5,239.8 431.9,245.5 432.2,245.8 432.6,239.2 432.9,222.7 433.3,254.2 433.6,226.9 434.0,240.9 434.3,243.2 434.7,236.2 435.0,231.9 435.4,231.2 435.7,248.8 436.1,253.3 436.4,272.8 436.8,238.7 437.1,248.0 437.5,244.8 437.8,241.0 438.2,251.7 438.5,275.1 438.9,253.9 439.2,263.2 439.6,256.3 439.9,241.5 440.3,251.8 440.6,247.4 441.0,250.2 441.3,254.5 441.7,247.6 442.0,238.2 442.4,220.0 442.7,279.0 443.1,255.8 443.4,262.1 443.8,251.1 444.1,247.5 444.5,241.2 444.8,237.4 445.2,220.0 445.5,233.8 445.9,243.9 446.2,249.4 446.6,263.3 446.9,252.3 447.3,282.9 447.6,280.9 448.0,272.6 448.3,248.4 448.7,251.1 449.0,252.8 449.4,269.3 449.7,256.7 450.1,231.5 450.4,252.3 450.8,242.4 451.1,253.1 451.5,251.7 451.8,268.8 452.2,256.8 452.5,247.2 452.9,229.8 453.2,250.0 453.6,260.2 453.9,284.3 454.3,260.5 454.6,280.3 455.0,276.0 455.3,241.2 455.7,243.8 456.0,287.0 456.4,241.6 456.7,267.0 457.1,266.0 457.4,276.5 457.8,261.6 458.1,257.1 458.5,256.4 458.8,258.6 459.2,255.6 459.5,228.2 459.9,255.9 460.2,244.8 460.6,277.0 460.9,249.7 461.3,246.9 461.6,222.5 462.0,270.2 462.3,219.5 462.7,253.4 463.0,226.8 463.4,235.2 463.7,241.6 464.1,238.5 464.4,237.6 464.8,260.3 465.1,221.6 465.5,261.7 465.8,234.8 466.2,222.5 466.5,216.2 466.9,223.8 467.2,224.4 467.6,212.6 467.9,220.6 468.3,222.0 468.6,220.1 469.0,221.4 469.3,216.4 469.7,219.7 470.0,216.6 470.4,223.7 470.7,220.0 471.1,223.2 471.4,221.5 471.8,224.3 472.1,219.4 472.5,234.5 472.8,219.7 473.2,239.0 473.5,224.9 473.9,226.9 474.2,230.2 474.6,216.2 474.9,233.6 475.3,227.9 475.6,234.5 476.0,235.5 476.3,235.6 476.7,240.9 477.0,232.4 477.4,240.5 477.7,230.9 478.1,224.6 478.4,229.7 478.8,236.2 479.1,220.7 479.5,233.8 479.8,237.2 480.2,235.5 480.5,235.1 480.9,220.4 481.2,227.6 481.6,223.5 481.9,223.4 482.3,223.6 482.6,234.3 483.0,242.7 483.3,239.4 483.7,238.0 484.0,249.4 484.4,228.9 484.7,229.4 485.1,232.2 485.4,233.1 485.8,252.7 486.1,237.5 486.5,230.7 486.8,237.9 487.2,238.4 487.5,256.7 487.9,248.2 488.2,230.0 488.6,252.1 488.9,235.2 489.3,234.5 489.6,232.4 490.0,261.5 490.3,238.5 490.7,249.0 491.0,248.1 491.4,226.3 491.7,232.6 492.1,234.5 492.4,247.6 492.8,242.6 493.1,247.7 493.5,232.6 493.8,229.1 494.2,241.4 494.5,249.6 494.9,234.7 495.2,239.7 495.6,246.3 495.9,244.3 496.3,231.7 496.6,233.9 497.0,244.7 497.3,254.1 497.7,239.4 498.0,239.2 498.4,228.8 498.7,230.9 499.1,236.3 499.4,234.0 499.8,234.1 500.1,227.3 500.5,223.3 500.8,232.0 501.2,227.6 501.5,226.3 501.9,231.1 502.2,231.5 502.6,214.5 502.9,225.6 503.3,233.8 503.6,234.1 504.0,201.0 504.3,223.6 504.7,218.9 505.0,219.4 505.4,234.0 505.7,235.3 506.1,234.6 506.4,243.1 506.8,233.0 507.1,248.8 507.5,230.3 507.8,255.2 508.2,228.6 508.5,245.0 508.9,249.4 509.2,229.1 509.6,225.3 509.9,239.4 510.3,253.1 510.6,251.5 511.0,249.9 511.3,248.5 511.7,256.7 512.0,246.1 512.4,246.3 512.7,249.8 513.1,253.1 513.4,247.0 513.8,251.2 514.1,251.5 514.5,251.1 514.8,243.6 515.2,246.3 515.5,248.1 515.9,226.8 516.2,243.9 516.6,227.5 516.9,228.3 517.3,227.4 517.6,237.1 518.0,231.5 518.3,240.9 518.7,242.1 519.0,242.0 519.4,235.4 519.7,231.5 520.1,237.2 520.4,232.7 520.8,223.1 521.1,236.7 521.5,224.5 521.8,227.7 522.2,232.7 522.5,227.9 522.9,237.3 523.2,225.9 523.6,253.5 523.9,235.3 524.3,251.2 524.6,230.7 525.0,234.5 525.3,242.6 525.7,246.3 526.0,251.7 526.4,240.2 526.7,221.1 527.1,242.7 527.4,240.3 527.8,238.1 528.1,248.3 528.5,249.3 528.8,238.3 529.2,233.1 529.5,245.3 529.9,243.0 530.2,248.2 530.6,252.4 530.9,236.1 531.3,224.8 531.6,236.1 532.0,245.2 532.3,237.0 532.7,247.8 533.0,245.9 533.4,244.1 533.7,229.2 534.1,243.1 534.4,241.6 534.8,244.1 535.1,229.6 535.5,238.1 535.8,233.4 536.2,244.3 536.5,230.9 536.9,235.6 537.2,227.7 537.6,250.1 537.9,236.3 538.3,254.2 538.6,255.6 539.0,237.8 539.3,224.8 539.7,231.4 540.0,235.7 540.4,239.9 540.7,239.6 541.1,237.3 541.4,226.9 541.8,230.9 542.1,252.0 542.5,228.6 542.8,237.8 543.2,224.1 543.5,248.3 543.9,251.2 544.2,249.7 544.6,234.1 544.9,248.8 545.3,239.5 545.6,237.4 546.0,237.1 546.3,240.1 546.7,237.5 547.0,227.7 547.4,231.8 547.7,250.8 548.1,249.3 548.4,237.3 548.8,239.8 549.1,248.0 549.5,247.4 549.8,231.9 550.2,245.4 550.5,255.1 550.9,236.4 551.2,235.4 551.6,244.0 551.9,221.3 552.3,236.7 552.6,214.5 553.0,236.1 553.3,229.1 553.7,227.8 554.0,235.9 554.4,225.6 554.7,219.3 555.1,232.2 555.4,204.5 555.8,201.0 556.1,199.9 556.5,201.6 556.8,211.7 557.2,215.6 557.5,226.4 557.9,218.3 558.2,206.2 558.6,221.6 558.9,219.3 559.3,231.5 559.6,220.1 560.0,205.5 560.3,218.2 560.7,213.7 561.0,214.4 561.4,198.5 561.7,192.9 562.1,177.8 562.4,163.4 562.8,137.4 563.1,189.7 563.5,139.2 563.8,171.8 564.2,177.4 564.5,178.8 564.9,191.4 565.2,186.8 565.6,181.0 565.9,166.0 566.3,186.1 566.6,188.4 567.0,181.8 567.3,190.5 567.7,201.6 568.0,187.7 568.4,187.5 568.7,176.0 569.1,173.7 569.4,170.7 569.8,177.3 570.1,165.4 570.5,155.9 570.8,159.3 571.2,165.6 571.5,167.7 571.9,147.0 572.2,122.8 572.6,116.2 573.0,103.0 573.3,158.0 573.6,134.0 574.0,171.8 574.3,169.2 574.7,142.3 575.0,158.7 575.4,169.8 575.7,144.5 576.1,159.0 576.4,188.4 576.8,191.6 577.1,148.4 577.5,146.3 577.8,166.1 578.2,201.3 578.5,171.9 578.9,193.1 579.2,175.7 579.6,177.7 579.9,187.2 580.3,183.1 580.6,185.7 581.0,196.3 581.3,196.9 581.7,189.4 582.0,192.6 582.4,203.5 582.7,195.7 583.1,202.7 583.4,190.9 583.8,200.4 584.1,197.7 584.5,191.9 584.8,190.8 585.2,204.5 585.5,200.6 585.9,193.0 586.2,191.9 586.6,222.1 586.9,195.1 587.3,189.4 587.6,202.1 588.0,198.8 588.3,206.9 588.7,195.7 589.0,208.3 589.4,221.8 589.7,206.5 590.1,192.4 590.4,213.0 590.8,218.2 591.1,218.3 591.5,209.8 591.8,198.6 592.2,222.5 592.5,210.8 592.9,222.4 593.2,210.8 593.6,199.0 593.9,222.2 594.3,223.3 594.6,215.5 595.0,243.9 595.3,229.3 595.7,245.4 596.0,218.5 596.4,206.2 596.7,211.2 597.1,236.3 597.4,209.3 597.8,231.3 598.1,211.3 598.5,221.7 598.8,212.1 599.2,210.6 599.5,222.2 599.9,235.6 600.2,232.9 600.6,210.3 600.9,214.3 601.3,212.6 601.6,222.7 602.0,254.9 602.3,205.6 602.7,201.6 603.0,200.0 603.4,222.3 603.7,213.8 604.1,203.2 604.4,202.3 604.8,200.0 605.1,206.8 605.5,212.1 605.8,256.6 606.2,205.5 606.5,214.0 606.9,227.9 607.2,214.5 607.6,225.8 607.9,232.3 608.3,209.2 608.6,262.3 609.0,214.7 609.3,228.6 609.7,258.8 610.0,222.9 610.4,237.8 610.7,246.7 611.1,266.0 611.4,234.7 611.8,216.8 612.1,265.8 612.5,237.3 612.8,228.7 613.2,235.8 613.5,213.8 613.9,218.5 614.2,210.1 614.6,224.9 614.9,234.3 615.3,218.9 615.6,226.1 616.0,250.5 616.3,221.1 616.7,222.2 617.0,205.2 617.4,227.2 617.7,240.9 618.1,227.0 618.4,253.1 618.8,216.5 619.1,207.3 619.5,226.3 619.8,232.6 620.0,289.0 620.5,226.4 620.9,228.0 621.2,221.5 621.6,222.4 621.9,219.5 622.3,234.4 622.6,215.5 623.0,182.0 623.3,216.5 623.7,225.5 624.0,213.1 624.4,208.5 624.7,222.8 625.1,223.2 625.4,237.5 625.8,222.1 626.1,243.4 626.5,223.7 626.8,228.3 627.2,222.4 627.5,249.6 627.9,248.4 628.2,235.6 628.6,246.3 628.9,225.8 629.3,223.5 629.6,229.4 630.0,227.2 630.3,236.5 630.7,245.2 631.0,225.5 631.4,223.1 631.7,236.5 632.1,235.9 632.4,226.9 632.8,258.0 633.1,235.4 633.5,238.1 633.8,218.3 634.2,233.1 634.5,224.0 634.9,219.7 635.2,235.1 635.6,239.9 635.9,221.5 636.3,239.8 636.6,226.3 637.0,251.8 637.3,227.6 637.7,236.9 638.0,210.7 638.4,207.0 638.7,207.7 639.1,211.0 639.4,227.3 639.8,212.8 640.1,233.8 640.5,236.6 640.8,214.0 641.2,216.9 641.5,225.5 641.9,255.3 642.2,236.7 642.6,236.8 642.9,212.8 643.3,217.8 643.6,222.0 644.0,207.0 644.3,217.0 644.7,217.8 645.0,226.6 645.4,244.9 645.7,209.4 646.1,235.9 646.4,227.9 646.8,210.6 647.1,229.4 647.5,256.0 647.8,219.1 648.2,228.3 648.5,223.7 648.9,211.3 649.2,233.7 649.6,224.2 649.9,236.6 650.3,228.8 650.6,233.7 651.0,220.4 651.3,232.7 651.7,228.9 652.0,223.8 652.4,211.1 652.7,240.6 653.1,221.4 653.4,247.4 653.8,215.5 654.1,228.4 654.5,218.0 654.8,233.9 655.2,231.8 655.5,231.0 655.9,222.8 656.2,232.9 656.6,229.2 656.9,229.1 657.3,221.2 657.6,221.5 658.0,225.6 658.3,231.0 658.7,228.2 659.0,225.0 659.4,235.5 659.7,236.1 660.1,228.6 660.4,218.0 660.8,229.9 661.1,228.4 661.5,236.1 661.8,234.1 662.2,242.3 662.5,238.1 662.9,237.6 663.2,241.2 663.6,246.0 663.9,230.5 664.3,242.0 664.6,238.9 665.0,233.0 665.3,247.9 665.7,234.7 666.0,238.1 666.4,215.6 666.7,233.7 667.1,220.2 667.4,221.7 667.8,222.6 668.1,233.2 668.5,232.0 668.8,232.6 669.2,232.9 669.5,241.3 669.9,242.2 670.2,218.7 670.6,249.4 670.9,231.4 671.3,227.4 671.6,242.5 672.0,236.1 672.3,237.4 672.7,237.3 673.0,227.8 673.4,239.3 673.7,234.5 674.1,236.0 674.4,237.2 674.8,251.5 675.1,245.9 675.5,247.6 675.8,245.2 676.2,253.5 676.5,226.8 676.9,252.0 677.2,235.3 677.6,239.1 677.9,257.1 678.3,247.3 678.6,236.0 679.0,249.6 679.3,232.5 679.7,232.8 680.0,246.7 680.4,245.2 680.7,229.4 681.1,233.8 681.4,236.1 681.8,229.9 682.1,242.4 682.5,230.0 682.8,237.5 683.2,250.2 683.5,229.5 683.9,234.3 684.2,242.2 684.6,237.7 684.9,241.1 685.3,238.6 685.6,233.7 686.0,226.9 686.3,231.5 686.7,216.8 687.0,241.3 687.4,237.8 687.7,237.7 688.1,238.4 688.4,247.8 688.8,226.9 689.1,241.3 689.5,242.9 689.8,238.4 690.2,229.2 690.5,242.5 690.9,232.4 691.2,213.3 691.6,226.1 691.9,225.6 692.3,235.7 692.6,220.1 693.0,220.7 693.3,234.5 693.7,223.5 694.0,210.6 694.4,248.8 694.7,262.3 695.1,235.3 695.4,218.5 695.8,219.4 696.1,239.7 696.5,222.0 696.8,237.0 697.2,215.7 697.5,218.9 697.9,254.0 698.2,234.2 698.6,241.7 698.9,215.0 699.3,250.2 699.6,235.1 700.0,229.0 700.3,236.7 700.7,222.4 701.0,236.7 701.4,223.0 701.7,234.9 702.1,237.4 702.4,244.7 702.8,222.6 703.1,237.2 703.5,238.4 703.8,224.8 704.2,235.5 704.5,241.9 704.9,228.4 705.2,233.9 705.6,230.2 705.9,238.2 706.3,246.8 706.6,263.4 707.0,243.4 707.3,243.5 707.7,228.8 708.0,230.1 708.4,236.8 708.7,243.3 709.1,239.9 709.4,220.0 709.8,243.3 710.1,242.4 710.5,227.5 710.8,231.3 711.2,241.0 711.5,251.7 712.0,204.0"/>
<polyline fill="none" stroke="#000" stroke-width="1.5" stroke-linejoin="miter" points="741.0,262.5 741.4,259.3 741.7,267.8 742.1,256.7 742.4,272.3 742.8,277.4 743.1,259.7 743.5,241.6 743.8,259.4 744.2,263.4 744.5,281.8 744.9,280.0 745.2,246.7 745.6,254.1 745.9,260.4 746.3,257.5 746.6,263.2 747.0,272.4 747.3,265.7 747.7,253.4 748.0,251.4 748.4,240.2 748.7,243.8 749.1,239.8 749.4,241.8 749.8,245.9 750.1,235.4 750.5,256.9 750.8,235.7 751.2,246.4 751.5,222.8 751.9,237.4 752.2,241.9 752.6,242.3 752.9,222.2 753.3,253.0 753.6,223.0 754.0,222.9 754.3,223.6 754.7,216.2 755.0,239.2 755.4,224.5 755.7,227.0 756.1,222.1 756.4,215.5 756.8,217.7 757.1,226.8 757.5,211.6 757.8,217.2 758.2,229.3 758.5,221.7 758.9,214.8 759.2,213.9 759.6,230.1 759.9,217.5 760.3,206.0 760.6,215.5 761.0,214.3 761.3,221.7 761.7,229.0 762.0,238.2 762.4,214.2 762.7,226.9 763.1,231.0 763.4,219.8 763.8,233.7 764.1,227.0 764.5,219.5 764.8,227.5 765.2,215.5 765.5,227.0 765.9,228.9 766.2,230.0 766.6,235.9 766.9,212.6 767.3,230.5 767.6,218.4 768.0,235.3 768.3,213.9 768.7,229.4 769.0,219.1 769.4,245.4 769.7,228.9 770.1,219.3 770.4,225.5 770.8,221.3 771.1,224.0 771.5,245.8 771.8,226.0 772.2,223.2 772.5,248.9 772.9,237.8 773.2,251.7 773.6,241.7 773.9,234.3 774.3,232.1 774.6,253.2 775.0,252.8 775.3,241.3 775.7,236.1 776.0,240.3 776.4,254.8 776.7,259.5 777.1,247.8 777.4,263.2 777.8,245.1 778.1,266.1 778.5,268.1 778.8,274.9 779.2,262.5 779.5,265.4 779.9,255.3 780.2,269.1 780.6,265.1 780.9,267.9 781.3,261.9 781.6,263.9 782.0,271.7 782.3,274.0 782.7,270.0 783.0,269.6 783.4,259.6 783.7,255.1 784.1,252.0 784.4,266.3 784.8,281.0 785.1,267.4 785.5,266.8 785.8,266.3 786.2,251.9 786.5,266.3 786.9,250.5 787.2,262.0 787.6,262.1 787.9,251.4 788.3,262.7 788.6,265.2 789.0,259.4 789.3,263.1 789.7,263.1 790.0,255.4 790.4,259.8 790.7,261.4 791.1,263.7 791.4,251.1 791.8,264.4 792.1,262.6 792.5,261.3 792.8,261.4 793.2,262.5 793.5,262.5 793.9,271.5 794.2,270.8 794.6,266.1 794.9,263.3 795.3,262.5 795.6,267.8 796.0,250.4 796.3,251.2 796.7,268.8 797.0,272.8 797.4,278.0 797.7,266.3 798.1,268.9 798.4,262.9 798.8,258.8 799.1,259.9 799.5,257.7 799.8,249.5 800.2,251.1 800.5,251.1 800.9,254.3 801.2,256.4 801.6,259.1 801.9,248.5 802.3,238.1 802.6,237.6 803.0,231.0 803.3,232.4 803.7,234.1 804.0,240.3 804.4,225.1 804.7,234.1 805.1,250.3 805.4,235.5 805.8,231.3 806.1,229.0 806.5,256.3 806.8,254.3 807.2,240.0 807.5,250.4 807.9,244.7 808.2,239.5 808.6,238.4 808.9,232.6 809.3,232.0 809.6,235.1 810.0,254.4 810.3,253.9 810.7,253.1 811.0,243.8 811.4,243.6 811.7,254.0 812.1,234.5 812.4,226.9 812.8,243.7 813.1,241.1 813.5,228.6 813.8,233.9 814.2,243.0 814.5,236.5 814.9,245.8 815.2,243.6 815.6,232.0 815.9,231.4 816.3,225.7 816.6,243.3 817.0,230.4 817.3,236.0 817.7,224.9 818.0,246.8 818.4,232.5 818.7,253.9 819.1,236.5 819.4,244.2 819.8,240.2 820.1,241.1 820.5,231.2 820.8,232.8 821.2,236.8 821.5,237.3 821.9,254.5 822.2,247.6 822.6,245.6 822.9,226.5 823.3,247.2 823.6,232.7 824.0,246.4 824.3,239.0 824.7,235.7 825.0,239.4 825.4,235.2 825.7,245.0 826.1,233.6 826.4,238.8 826.8,224.3 827.1,225.5 827.5,232.9 827.8,250.2 828.2,246.1 828.5,237.2 828.9,234.5 829.2,249.1 829.6,261.5 829.9,252.8 830.3,241.3 830.6,252.2 831.0,246.0 831.3,256.3 831.7,246.8 832.0,241.6 832.4,246.7 832.7,228.0 833.1,249.6 833.4,246.6 833.8,251.2 834.1,258.8 834.5,257.3 834.8,263.7 835.2,258.5 835.5,256.4 835.9,254.5 836.2,261.2 836.6,240.7 836.9,233.6 837.3,251.1 837.6,247.7 838.0,263.1 838.3,250.7 838.7,239.1 839.0,236.2 839.4,252.9 839.7,244.3 840.1,251.2 840.4,244.8 840.8,251.1 841.1,258.5 841.5,261.7 841.8,250.9 842.2,257.0 842.5,254.6 842.9,250.6 843.2,263.3 843.6,247.1 843.9,259.2 844.3,259.0 844.6,238.5 845.0,256.7 845.3,243.7 845.7,230.2 846.0,244.3 846.4,241.4 846.7,244.7 847.1,255.3 847.4,252.3 847.8,230.8 848.1,243.1 848.5,253.6 848.8,247.8 849.2,263.1 849.5,247.2 849.9,254.6 850.2,257.3 850.6,256.4 850.9,247.7 851.3,259.7 851.6,247.4 852.0,262.7 852.3,249.4 852.7,243.5 853.0,235.3 853.4,247.8 853.7,248.9 854.1,236.7 854.4,230.7 854.8,246.1 855.1,245.7 855.5,239.0 855.8,243.4 856.2,252.6 856.5,242.6 856.9,243.2 857.2,232.6 857.6,263.0 857.9,242.7 858.3,247.1 858.6,245.5 859.0,243.1 859.3,247.3 859.7,258.6 860.0,252.9 860.4,246.6 860.7,249.1 861.1,253.8 861.4,249.9 861.8,259.4 862.1,253.6 862.5,250.4 862.8,248.7 863.2,262.8 863.5,254.7 863.9,260.1 864.2,259.1 864.6,247.2 864.9,253.9 865.3,262.7 865.6,255.3 866.0,247.0 866.3,259.1 866.7,255.0 867.0,243.5 867.4,249.9 867.7,249.4 868.1,244.6 868.4,241.4 868.8,248.3 869.1,248.0 869.5,244.3 869.8,254.1 870.2,251.5 870.5,258.7 870.9,239.0 871.2,257.4 871.6,259.3 871.9,251.2 872.3,249.5 872.6,247.7 873.0,235.2 873.3,233.8 873.7,246.7 874.0,244.1 874.4,256.6 874.7,241.3 875.1,242.8 875.4,243.2 875.8,254.3 876.1,263.2 876.5,250.6 876.8,242.7 877.2,241.9 877.5,249.5 877.9,227.5 878.2,228.0 878.6,198.0 878.9,232.1 879.3,181.7 879.5,155.0 880.0,225.9 880.3,226.8 880.7,211.2 881.0,216.1 881.4,213.1 881.7,211.1 882.1,224.9 882.4,208.9 882.8,232.4 883.1,235.3 883.5,193.2 883.8,195.1 884.2,199.2 884.5,207.9 884.9,219.6 885.2,220.5 885.6,215.6 885.9,218.7 886.3,239.8 886.6,205.7 887.0,210.4 887.3,214.8 887.7,215.5 888.0,214.4 888.4,239.6 888.7,215.9 889.1,227.7 889.4,219.4 889.8,220.2 890.1,216.9 890.5,236.0 890.8,198.4 891.2,225.9 891.5,221.5 891.9,225.4 892.2,239.1 892.6,221.9 892.9,219.1 893.3,198.6 893.6,204.2 894.0,233.4 894.3,218.5 894.7,211.5 895.0,227.8 895.4,204.5 895.7,228.7 896.1,253.6 896.4,237.8 896.8,230.3 897.1,247.0 897.5,244.3 897.8,228.4 898.2,226.2 898.5,232.3 898.9,230.6 899.2,238.3 899.6,237.8 899.9,240.2 900.3,217.4 900.6,247.2 901.0,235.0 901.3,231.5 901.7,247.0 902.0,238.6 902.4,242.7 902.7,235.4 903.1,235.3 903.4,231.1 903.8,236.5 904.1,243.2 904.5,222.8 904.8,251.5 905.2,235.6 905.5,217.1 905.9,240.0 906.2,235.5 906.6,233.2 906.9,241.9 907.3,216.6 907.6,227.4 908.0,244.4 908.3,253.0 908.7,225.1 909.0,225.0 909.4,237.3 909.7,240.7 910.1,234.4 910.4,242.0 910.8,223.4 911.1,227.7 911.5,246.6 911.8,236.5 912.2,238.5 912.5,240.8 912.9,223.3 913.2,228.6 913.6,230.1 913.9,251.2 914.3,238.9 914.6,235.2 915.0,222.1 915.3,243.0 915.7,246.4 916.0,234.0 916.4,232.0 916.7,249.0 917.1,235.9 917.4,221.1 917.8,216.7 918.1,238.4 918.5,226.8 918.8,234.4 919.2,253.7 919.5,251.9 919.9,237.7 920.2,219.1 920.6,247.3 920.9,228.3 921.3,252.7 921.6,230.4 922.0,223.8 922.3,232.9 922.7,264.9 923.0,254.6 923.4,246.5 923.7,230.9 924.1,260.9 924.4,226.9 924.8,227.8 925.1,239.3 925.5,257.6 925.8,243.3 926.2,251.8 926.5,228.3 926.9,249.0 927.2,255.1 927.6,240.3 927.9,241.1 928.3,236.5 928.6,257.0 929.0,235.0 929.3,243.8 929.7,262.6 930.0,236.4 930.4,241.5 930.7,246.1 931.1,241.5 931.4,261.0 931.8,260.8 932.1,228.5 932.5,246.3 932.8,252.1 933.2,251.3 933.5,258.9 933.9,250.8 934.2,259.5 934.6,266.7 934.9,231.6 935.3,241.9 935.6,245.3 936.0,252.4 936.3,236.2 936.7,253.3 937.0,254.8 937.4,260.5 937.7,256.3 938.1,236.8 938.4,266.1 938.8,259.9 939.1,245.6 939.5,226.9 939.8,261.8 940.2,253.2 940.5,240.5 940.9,250.6 941.2,239.9 941.6,231.4 941.9,249.7 942.3,246.9 942.6,264.0 943.0,257.5 943.3,251.9 943.7,261.7 944.0,263.2 944.4,268.9 944.7,258.9 945.1,258.8 945.4,263.7 945.8,242.8 946.1,242.3 946.5,248.1 946.8,228.3 947.2,240.4 947.5,255.4 947.9,243.4 948.2,232.2 948.6,251.3 948.9,255.3 949.3,252.5 949.6,256.7 950.0,253.8 950.3,256.3 950.7,239.0 951.0,264.2 951.4,249.2 951.7,242.7 952.1,264.0 952.4,239.6 952.8,255.1 953.1,229.1 953.5,239.0 953.8,258.0 954.2,267.2 954.5,248.4 954.9,251.7 955.2,258.0 955.6,242.6 955.9,237.7 956.3,256.8 956.6,248.8 957.0,233.7 957.3,226.5 957.7,227.2 958.0,246.1 958.4,249.6 958.7,237.8 959.1,242.8 959.4,220.7 959.8,228.0 960.1,265.7 960.5,265.6 960.8,242.5 961.2,227.0 961.5,228.2 961.7,177.0 962.2,240.3 962.6,273.9 962.9,250.8 963.3,234.8 963.6,248.5 964.0,271.3 964.3,263.0 964.7,250.5 965.0,248.0 965.4,238.4 965.7,266.0 966.1,235.9 966.4,242.7 966.8,233.4 967.1,245.5 967.5,260.4 967.8,212.7 968.2,238.1 968.5,255.2 968.9,265.3 969.2,275.0 969.6,268.8 969.9,245.3 970.3,258.9 970.6,257.9 971.0,233.8 971.3,257.4 971.7,247.7 972.0,247.1 972.4,259.0 972.6,196.0 973.1,264.7 973.4,236.4 973.8,233.3 974.1,262.6 974.5,245.6 974.8,274.0 975.2,251.5 975.5,234.5 975.9,256.4 976.2,261.7 976.6,255.4 976.9,267.5 977.3,261.4 977.6,269.8 978.0,255.9 978.3,240.4 978.7,241.0 979.0,268.9 979.4,256.3 979.7,230.9 980.1,244.0 980.4,252.6 980.8,247.7 981.1,239.4 981.5,273.4 981.8,270.8 982.2,266.8 982.5,259.9 982.9,246.3 983.2,253.4 983.6,260.0 983.9,268.7 984.3,257.8 984.6,276.0 985.0,243.8 985.3,250.9 985.7,256.5 986.0,265.7 986.4,270.1 986.7,257.4 987.1,277.0 987.4,251.4 987.8,274.0 988.1,261.5 988.5,253.9 988.8,269.8 989.2,271.4 989.5,274.4 989.9,262.7 990.2,257.5 990.6,249.1 990.9,241.3 991.3,236.9 991.6,224.0 992.0,227.0 992.3,243.2 992.7,223.6 993.0,227.7 993.4,222.2 993.7,245.5 994.1,239.1 994.4,226.0 994.8,238.8 995.1,221.9 995.5,226.1 995.8,234.5 996.2,227.2 996.5,225.5 996.9,220.8 997.2,225.4 997.6,230.8 997.9,219.7 998.3,212.0 998.6,216.0 999.0,213.7 999.3,218.3 999.7,218.8 1000.0,221.6 1000.4,213.6 1000.7,221.3 1001.1,232.4 1001.4,229.5 1001.8,220.2 1002.1,213.4 1002.5,224.3 1002.8,221.1 1003.2,217.3 1003.5,215.1 1003.9,211.4 1004.2,209.3 1004.6,214.2 1004.9,214.8 1005.3,210.6 1005.6,217.2 1006.0,214.3 1006.3,208.4 1006.7,213.4 1007.0,215.4 1007.4,220.4 1007.7,211.2 1008.1,217.1 1008.4,211.6 1008.8,211.5 1009.1,203.8 1009.5,213.4 1009.8,226.9 1010.2,231.8 1010.5,237.8 1010.9,240.2 1011.2,242.5 1011.6,258.9 1011.9,264.5 1012.3,270.5 1012.6,271.4 1013.0,285.1 1013.3,263.6 1013.7,269.2 1014.0,261.1 1014.4,278.5 1014.7,277.0 1015.1,294.1 1015.4,258.4 1015.8,277.8 1016.1,275.7 1016.5,275.8 1016.8,272.8 1017.2,271.1 1017.5,271.9 1017.9,261.7 1018.2,255.0 1018.6,264.4 1018.9,285.0 1019.3,274.2 1019.6,278.4 1020.0,287.7 1020.3,285.7 1020.7,271.5 1021.0,204.0 1021.4,266.2 1021.7,263.2 1022.1,263.5 1022.4,274.0 1022.8,283.6 1023.1,282.5 1023.5,272.4 1023.8,268.8 1024.2,269.4 1024.5,269.8 1024.9,277.5 1025.2,293.7 1025.6,283.0 1025.9,273.0 1026.3,273.5 1026.6,278.6 1027.0,265.3 1027.3,281.5 1027.7,260.8 1028.0,286.4 1028.4,295.1 1028.7,293.8 1029.1,280.4 1029.4,272.0 1029.8,281.4"/>
<polyline fill="none" stroke="#000" stroke-width="1.5" stroke-linejoin="miter" points="1050.0,236.8 1050.3,234.1 1050.7,244.6 1051.0,219.9 1051.4,232.3 1051.7,222.8 1052.1,230.6 1052.4,201.7 1052.8,211.6 1053.1,218.1 1053.5,219.4 1054.0,196.5 1054.2,247.9 1054.5,223.4 1054.9,222.9 1055.2,239.0 1055.6,265.9 1055.9,306.5 1056.3,291.4 1056.6,295.6 1057.0,301.0 1057.3,309.3 1057.7,302.4 1058.0,330.6 1058.4,305.9 1058.7,290.1 1059.1,289.8 1059.4,277.5 1059.8,278.6 1060.1,295.2 1060.5,279.4 1060.8,265.2 1061.2,257.8 1061.5,282.7 1061.9,268.6 1062.2,268.7 1062.6,261.0 1062.9,255.6 1063.3,252.3 1063.6,285.9 1064.0,278.0 1064.3,258.8 1064.7,265.1 1065.0,252.4 1065.4,256.9 1065.7,239.9 1066.1,244.3 1066.4,255.4 1066.8,267.3 1067.1,260.8 1067.5,262.2 1067.8,255.7 1068.2,267.6 1068.5,267.4 1068.9,247.5 1069.2,289.2 1069.6,265.2 1069.9,254.1 1070.3,264.4 1070.6,260.2 1071.0,253.7 1071.3,254.1 1071.7,263.4 1072.0,249.3 1072.4,247.1 1072.7,239.0 1073.1,245.8 1073.4,263.7 1073.8,259.3 1074.1,284.0 1074.5,253.6 1074.8,249.3 1075.2,276.8 1075.5,252.7 1075.9,256.9 1076.2,266.7 1076.6,256.2 1076.9,287.2 1077.3,273.6 1077.6,260.9 1078.0,273.0 1078.3,263.5 1078.7,251.8 1079.0,289.0 1079.4,275.3 1079.7,285.4 1080.1,244.9 1080.4,268.4 1080.8,276.5 1081.1,275.9 1081.5,289.8 1081.8,260.0 1082.2,260.7 1082.5,255.8 1082.9,242.8 1083.2,246.0 1083.6,256.7 1083.9,265.2 1084.3,251.4 1084.6,282.0 1085.0,275.0 1085.3,274.1 1085.7,270.8 1086.0,277.0 1086.4,263.1 1086.7,267.7 1087.1,278.1 1087.4,266.1 1087.8,271.8 1088.1,270.8 1088.5,269.3 1088.8,264.2 1089.2,275.8 1089.5,290.8 1089.9,268.0 1090.2,269.3 1090.6,288.0 1090.9,282.6 1091.3,276.5 1091.6,260.2 1092.0,279.0 1092.3,287.1 1092.7,283.7 1093.0,279.4 1093.4,285.1 1093.7,273.7 1094.1,268.6 1094.4,276.1 1094.8,283.0 1095.1,270.8 1095.5,266.5 1095.8,266.0 1096.2,267.0 1096.5,260.2 1096.9,271.7 1097.2,259.1 1097.6,279.0 1097.9,247.7 1098.3,248.5 1098.6,257.9 1099.0,252.6 1099.3,264.7 1099.7,245.3 1100.0,260.7 1100.4,239.9 1100.7,240.2 1101.1,232.9 1101.4,226.0 1101.8,241.9 1102.1,227.9 1102.5,226.0 1102.8,240.3 1103.2,252.1 1103.5,242.2 1103.9,243.0 1104.2,230.7 1104.6,254.4 1104.9,237.5 1105.3,233.0 1105.6,237.5 1106.0,253.1 1106.3,260.1 1106.7,262.8 1107.0,239.4 1107.4,260.9 1107.7,244.1 1108.1,244.2 1108.4,254.8 1108.8,254.5 1109.1,241.7 1109.5,244.9 1109.8,256.5 1110.2,247.7 1110.5,230.8 1110.9,252.0 1111.2,271.9 1111.6,256.4 1111.9,250.3 1112.3,245.6 1112.6,260.4 1113.0,255.2 1113.3,277.7 1113.7,272.2 1114.0,231.2 1114.4,280.6 1114.7,265.0 1115.1,281.8 1115.4,263.7 1115.8,273.4 1116.1,279.7 1116.5,288.9 1116.8,277.8 1117.2,275.0 1117.5,279.2 1117.9,282.0 1118.2,262.3 1118.6,274.2 1118.9,285.4 1119.3,253.4 1119.6,281.2 1120.0,261.5 1120.3,292.6 1120.7,276.0 1121.0,288.5 1121.4,275.8 1121.7,285.3 1122.1,276.4 1122.4,260.5 1122.8,257.9 1123.1,282.0 1123.5,267.7 1123.8,265.9 1124.2,284.5 1124.5,274.8 1124.9,272.9 1125.2,262.1 1125.6,283.3 1125.9,266.5 1126.3,285.7 1126.6,282.8 1127.0,283.4 1127.3,290.1 1127.7,267.0 1128.0,290.2 1128.4,296.6 1128.7,291.4 1129.1,289.0 1129.4,294.3 1129.8,291.5 1130.1,305.0 1130.5,298.7 1130.8,305.5 1131.2,296.5 1131.5,301.2 1131.9,282.3 1132.2,297.6 1132.6,308.3 1132.9,294.9 1133.3,301.1 1133.6,296.1 1134.0,286.4 1134.3,303.7 1134.7,294.0 1135.0,297.4 1135.4,293.3 1135.7,294.3 1136.1,294.6 1136.4,311.5 1136.8,304.8 1137.1,286.3 1137.5,323.2 1137.8,315.2 1138.2,298.0 1138.5,298.6 1138.9,295.9 1139.2,319.0 1139.6,325.1 1139.9,316.9 1140.3,312.5 1140.6,312.5 1141.0,317.7 1141.3,320.9 1141.7,306.5 1142.0,328.6 1142.4,315.1 1142.7,331.7 1143.1,318.8 1143.4,341.0 1143.8,337.6 1144.1,351.0 1144.5,320.5 1144.8,324.4 1145.2,320.9 1145.5,315.9 1145.9,315.4 1146.2,317.3 1146.6,325.7 1147.0,358.0 1147.3,330.0 1147.6,311.4 1148.0,336.3 1148.3,314.3 1148.7,304.5 1149.0,298.7 1149.4,307.3 1149.7,313.0 1150.1,314.8 1150.4,305.9 1150.8,315.7 1151.1,317.9 1151.5,299.4 1151.8,316.0 1152.2,308.3 1152.5,303.7 1152.9,297.8 1153.2,309.0 1153.6,302.0 1153.9,313.5 1154.3,306.0 1154.6,305.3 1155.0,297.0 1155.3,296.7 1155.7,304.9 1156.0,298.4 1156.4,304.5 1156.7,298.3 1157.1,304.5 1157.4,311.3 1157.8,309.7 1158.1,303.4 1158.5,308.4 1158.8,301.9 1159.2,312.9 1159.5,298.3 1159.9,308.9 1160.2,306.0 1160.6,304.9 1160.9,308.0 1161.3,295.5 1161.6,301.2 1162.0,300.4 1162.3,300.1 1162.7,295.6 1163.0,293.2 1163.4,305.7 1163.7,303.0 1164.1,304.3 1164.4,302.6 1164.8,312.9 1165.1,314.6 1165.5,316.6 1165.8,293.8 1166.2,302.3 1166.5,290.0 1166.9,310.5 1167.2,247.3 1167.6,246.3 1168.0,200.0 1168.3,248.7 1168.6,267.4 1169.0,280.6 1169.3,270.6 1169.7,264.3 1170.0,280.0 1170.4,267.6 1170.7,277.7 1171.1,291.7 1171.4,265.1 1171.8,278.9 1172.1,272.2 1172.5,266.2 1172.8,269.0 1173.2,257.4 1173.5,289.2 1173.9,274.7 1174.2,274.7 1174.6,290.2 1174.9,286.3 1175.3,296.9 1175.6,275.2 1176.0,277.4 1176.3,273.8 1176.7,271.5 1177.0,304.9 1177.4,285.5 1177.7,299.4 1178.1,293.8 1178.4,295.8 1178.8,314.1 1179.1,310.8 1179.5,292.7 1179.8,290.5 1180.2,297.2 1180.5,288.9 1180.9,292.6 1181.2,293.6 1181.6,291.3 1181.9,313.0 1182.3,307.9 1182.6,307.2 1183.0,282.1 1183.3,301.2 1183.7,296.2 1184.0,293.7 1184.4,288.3 1184.7,282.6 1185.1,299.6 1185.4,279.2 1185.8,296.2 1186.1,309.3 1186.5,300.7 1186.8,317.9 1187.2,315.0 1187.5,301.3 1187.9,305.6 1188.2,307.6 1188.6,312.3 1188.9,296.0 1189.3,293.4 1189.6,312.1 1190.0,288.1 1190.3,302.4 1190.7,275.0 1191.0,290.9 1191.4,273.9 1191.7,268.5 1192.1,266.7 1192.4,257.4 1192.8,259.7 1193.1,246.3 1193.5,275.8 1193.8,236.6 1194.2,264.1 1194.5,261.5 1194.9,277.5 1195.2,236.8 1195.6,252.7 1195.9,278.7 1196.4,224.0 1196.6,251.0 1197.0,239.3 1197.3,248.0 1197.7,275.3 1198.0,292.6 1198.4,294.6 1198.7,267.9 1199.1,281.1 1199.4,291.4 1199.8,243.6 1200.1,310.8 1200.5,302.8 1200.8,247.2 1201.2,275.8 1201.5,278.4 1201.9,273.7 1202.2,293.1 1202.6,271.7 1202.9,297.7 1203.3,280.9 1203.6,289.5 1204.0,274.4 1204.3,265.7 1204.7,245.6 1205.0,250.1 1205.4,255.6 1205.7,274.7 1206.1,273.2 1206.4,300.8 1206.8,292.9 1207.1,265.7 1207.5,271.7 1207.8,240.2 1208.2,288.4 1208.5,289.9 1208.9,291.2 1209.2,271.4 1209.6,281.5 1209.9,261.4 1210.3,282.6 1210.6,284.0 1211.0,262.0 1211.3,268.7 1211.7,264.4 1212.0,264.2 1212.4,278.2 1212.7,266.9 1213.1,262.7 1213.4,263.6 1213.8,291.7 1214.1,280.8 1214.5,256.7 1214.8,283.4 1215.2,259.1 1215.5,281.2 1215.9,250.4 1216.2,293.8 1216.6,243.7 1216.9,243.8 1217.3,260.9 1217.6,272.7 1218.0,250.6 1218.3,257.7 1218.7,246.8 1219.0,273.2 1219.4,297.2 1219.7,265.8 1220.1,239.7 1220.4,287.7 1220.8,287.3 1221.1,265.3 1221.5,265.1 1221.8,279.2 1222.2,265.9 1222.5,282.5 1222.9,261.7 1223.2,265.6 1223.6,260.2 1223.9,285.8 1224.3,255.0 1224.6,266.9 1225.0,271.1 1225.3,301.4 1225.7,265.7 1226.0,247.9 1226.4,292.9 1226.7,260.7 1227.1,304.9 1227.4,263.1 1227.8,286.5 1228.1,274.7 1228.5,272.2 1228.8,251.0 1229.2,274.3 1229.5,255.5 1229.9,295.8 1230.2,261.2 1230.6,278.8 1230.9,257.8 1231.3,285.2 1231.6,298.2 1232.0,261.1 1232.3,311.6 1232.7,279.5 1233.0,291.1 1233.4,273.1 1233.7,286.0 1234.1,271.2 1234.4,283.4 1234.8,306.9 1235.1,304.7 1235.5,275.9 1235.8,287.8 1236.2,276.8 1236.5,275.7 1236.9,293.2 1237.2,309.1 1237.6,290.8 1237.9,297.2 1238.3,318.0 1238.6,292.5 1239.0,294.4 1239.3,283.0 1239.7,250.1 1240.0,299.8 1240.4,290.0 1240.7,289.9 1241.1,276.8 1241.4,246.9 1241.8,306.4 1242.1,287.4 1242.5,282.7 1242.8,293.8 1243.2,250.4 1243.5,295.3 1243.9,293.3 1244.2,306.6 1244.6,261.0 1244.9,315.0 1245.3,300.6 1245.6,318.0 1246.0,318.0 1246.3,300.8 1246.7,309.2 1247.0,314.6 1247.4,295.3 1247.7,295.2 1248.1,293.7 1248.4,295.1 1248.8,300.8 1249.1,289.3 1249.5,302.2 1249.8,285.5 1250.2,271.1 1250.5,287.8 1250.9,305.2 1251.2,295.4 1251.6,288.0 1251.9,264.7 1252.3,280.6 1252.6,288.5 1253.0,305.6 1253.3,296.7 1253.7,277.5 1254.0,275.0 1254.4,298.5 1254.7,303.2 1255.1,278.8 1255.4,295.3 1255.8,301.5 1256.1,276.5 1256.5,287.0 1256.8,279.2 1257.2,283.2 1257.5,290.8 1257.9,264.8 1258.2,269.8 1258.6,261.6 1258.9,275.9 1259.3,264.3 1259.6,283.6 1260.0,282.6 1260.3,276.2 1260.7,268.3 1261.0,261.0 1261.4,289.8 1261.7,282.7 1262.1,283.9 1262.4,279.4 1262.8,289.5 1263.1,282.7 1263.5,279.7 1263.8,296.1 1264.2,275.3 1264.5,277.5 1264.9,292.3 1265.2,293.0 1265.6,286.9 1265.9,281.2 1266.3,318.5 1266.6,283.5 1267.0,294.2 1267.3,321.0 1267.7,290.1 1268.0,289.3 1268.4,310.9 1268.7,313.9 1269.1,305.7 1269.4,296.9 1269.8,318.8 1270.1,301.0 1270.5,310.5 1270.8,318.1 1271.2,349.4 1271.5,301.9 1271.9,362.4 1272.2,362.8 1272.6,371.1 1272.9,335.4 1273.3,320.6 1273.6,304.1 1274.0,337.6 1274.3,331.4 1274.7,318.9 1275.0,341.2 1275.4,329.1 1275.7,352.0 1276.1,326.7 1276.4,319.7 1276.8,332.0 1277.1,299.2 1277.5,311.9 1277.8,302.7 1278.2,309.1 1278.5,323.3 1278.9,326.5 1279.2,316.3 1279.6,301.8 1279.9,329.8 1280.3,335.3 1280.6,312.9 1281.0,319.2 1281.3,320.6 1281.7,316.8 1282.0,308.1 1282.4,318.8 1282.7,324.1 1283.1,313.6 1283.4,335.9 1283.8,299.8 1284.1,330.4 1284.5,338.0 1284.8,321.5 1285.2,334.8 1285.5,323.5 1285.9,322.0 1286.2,327.0 1286.6,326.4 1286.9,315.8 1287.3,315.0 1287.6,323.4 1288.0,322.2 1288.3,324.3 1288.7,321.4 1289.0,309.0 1289.4,316.5 1289.7,324.1 1290.1,316.3 1290.4,337.8 1290.8,306.9 1291.1,294.7 1291.5,313.6 1291.8,309.3 1292.2,303.2 1292.5,311.8 1292.9,336.0 1293.2,290.2 1293.6,246.5 1293.9,210.1 1294.3,220.6 1294.6,218.3 1295.0,231.3 1295.3,222.4 1295.7,240.3 1296.0,189.9 1296.4,206.1 1296.7,251.9 1297.1,243.9 1297.4,206.9 1297.8,248.4 1298.1,245.3 1298.5,234.1 1298.8,229.8 1299.2,222.2 1299.5,230.5 1299.9,235.3 1300.2,244.2 1300.6,230.4 1300.9,198.7 1301.3,206.8 1301.6,236.9 1302.0,242.8 1302.3,220.3 1302.7,220.7 1303.0,213.9 1303.4,198.0 1303.7,215.1 1304.1,222.1 1304.4,221.5 1304.8,195.6 1305.1,228.3 1305.5,210.6 1305.8,201.8 1306.2,195.1 1306.5,189.4 1306.9,198.7 1307.2,201.4 1307.6,198.7 1307.9,189.6 1308.3,192.6 1308.6,196.8 1309.0,209.4 1309.3,198.3 1309.7,200.0 1310.0,208.9 1310.4,220.3 1310.7,234.3 1311.1,210.3 1311.4,234.6 1311.8,230.6 1312.1,247.3 1312.5,211.4 1312.8,218.4 1313.2,194.9 1313.5,206.7 1313.9,198.3 1314.2,199.3 1314.6,223.2 1314.9,174.2 1315.3,199.1 1315.6,204.9 1316.0,186.0 1316.3,213.9 1316.7,210.7 1317.0,207.9 1317.4,206.7 1317.7,212.8 1318.1,193.2 1318.4,220.8 1318.8,217.1 1319.1,223.2 1319.5,225.6 1319.8,205.1 1320.2,212.4 1320.5,225.6 1320.9,229.2 1321.2,227.9 1321.6,253.4 1321.9,264.2 1322.3,229.7 1322.6,248.2 1323.0,241.4 1323.3,251.1 1323.7,238.0 1324.0,251.2 1324.4,249.4 1324.7,237.8 1325.1,280.1 1325.4,247.3 1325.8,249.6 1326.1,234.6 1326.5,263.8 1326.8,257.5 1327.2,244.9 1327.5,267.1 1327.9,256.2 1328.2,267.5 1328.6,284.7 1328.9,232.6 1329.3,282.2 1329.6,260.8 1330.0,245.1 1330.3,244.9 1330.7,263.9 1331.0,255.9 1331.4,271.4 1331.7,271.0 1332.1,256.2 1332.4,284.0 1332.8,262.9 1333.1,232.8 1333.5,253.8 1333.8,271.9 1334.2,281.5 1334.5,226.5 1334.9,263.4 1335.2,228.6 1335.6,261.1 1335.9,240.4"/>
<line x1="93" y1="16.2" x2="93" y2="497" stroke="#9c9c9c" stroke-width="1.8"/>
<line x1="90.5" y1="425.0" x2="93" y2="425.0" stroke="#999" stroke-width="1"/>
<line x1="90.5" y1="345.0" x2="93" y2="345.0" stroke="#999" stroke-width="1"/>
<line x1="90.5" y1="265.0" x2="93" y2="265.0" stroke="#999" stroke-width="1"/>
<line x1="90.5" y1="185.0" x2="93" y2="185.0" stroke="#999" stroke-width="1"/>
<line x1="90.5" y1="105.0" x2="93" y2="105.0" stroke="#999" stroke-width="1"/>
<line x1="91" y1="505.3" x2="397" y2="505.3" stroke="#999" stroke-width="1.8"/>
<line x1="123.4" y1="505" x2="123.4" y2="507.5" stroke="#999" stroke-width="1"/>
<line x1="184.2" y1="505" x2="184.2" y2="507.5" stroke="#999" stroke-width="1"/>
<line x1="245.0" y1="505" x2="245.0" y2="507.5" stroke="#999" stroke-width="1"/>
<line x1="305.8" y1="505" x2="305.8" y2="507.5" stroke="#999" stroke-width="1"/>
<line x1="366.6" y1="505" x2="366.6" y2="507.5" stroke="#999" stroke-width="1"/>
<line x1="408" y1="505.3" x2="714" y2="505.3" stroke="#999" stroke-width="1.8"/>
<line x1="440.4" y1="505" x2="440.4" y2="507.5" stroke="#999" stroke-width="1"/>
<line x1="501.2" y1="505" x2="501.2" y2="507.5" stroke="#999" stroke-width="1"/>
<line x1="562.0" y1="505" x2="562.0" y2="507.5" stroke="#999" stroke-width="1"/>
<line x1="622.8" y1="505" x2="622.8" y2="507.5" stroke="#999" stroke-width="1"/>
<line x1="683.6" y1="505" x2="683.6" y2="507.5" stroke="#999" stroke-width="1"/>
<line x1="725" y1="505.3" x2="1031" y2="505.3" stroke="#999" stroke-width="1.8"/>
<line x1="757.4" y1="505" x2="757.4" y2="507.5" stroke="#999" stroke-width="1"/>
<line x1="818.2" y1="505" x2="818.2" y2="507.5" stroke="#999" stroke-width="1"/>
<line x1="879.0" y1="505" x2="879.0" y2="507.5" stroke="#999" stroke-width="1"/>
<line x1="939.8" y1="505" x2="939.8" y2="507.5" stroke="#999" stroke-width="1"/>
<line x1="1000.6" y1="505" x2="1000.6" y2="507.5" stroke="#999" stroke-width="1"/>
<line x1="1042" y1="505.3" x2="1348" y2="505.3" stroke="#999" stroke-width="1.8"/>
<line x1="1074.4" y1="505" x2="1074.4" y2="507.5" stroke="#999" stroke-width="1"/>
<line x1="1135.2" y1="505" x2="1135.2" y2="507.5" stroke="#999" stroke-width="1"/>
<line x1="1196.0" y1="505" x2="1196.0" y2="507.5" stroke="#999" stroke-width="1"/>
<line x1="1256.8" y1="505" x2="1256.8" y2="507.5" stroke="#999" stroke-width="1"/>
<line x1="1317.6" y1="505" x2="1317.6" y2="507.5" stroke="#999" stroke-width="1"/>
<line x1="89.5" y1="265.8" x2="1345" y2="265.8" stroke="#444" stroke-width="1.7" stroke-dasharray="2 2.36"/>
<rect x="245.0" y="498.3" width="39.5" height="6.5" fill="#248f4a"/>
<rect x="562.0" y="498.3" width="31.0" height="6.5" fill="#248f4a"/>
<rect x="879.0" y="498.3" width="94.6" height="6.5" fill="#248f4a"/><g font-family="Liberation Sans, sans-serif" fill="#000"><text x="221.1" y="35.7" font-size="30.4" >Normal</text><text x="515.4" y="35.7" font-size="30.4" >Reduced</text><text x="792.6" y="35.7" font-size="30.4" >Overfeeding</text><text x="1107.9" y="35.7" font-size="30.4" >No feeding</text><text x="38.7" y="514.8" font-size="28" >0.2</text><text x="38.7" y="434.8" font-size="28" >0.3</text><text x="38.7" y="354.8" font-size="28" >0.4</text><text x="38.7" y="274.8" font-size="28" >0.5</text><text x="38.7" y="194.8" font-size="28" >0.6</text><text x="38.7" y="114.8" font-size="28" >0.7</text><text x="38.7" y="34.8" font-size="28" >0.8</text><text x="95.7" y="532.1" font-size="28" >-40</text><text x="157.7" y="532.1" font-size="28" >-20</text><text x="233.6" y="532.1" font-size="28" >0</text><text x="286.2" y="532.1" font-size="28" >20</text><text x="348.9" y="532.1" font-size="28" >40</text><text x="412.7" y="532.1" font-size="28" >-40</text><text x="474.7" y="532.1" font-size="28" >-20</text><text x="550.6" y="532.1" font-size="28" >0</text><text x="603.2" y="532.1" font-size="28" >20</text><text x="665.9" y="532.1" font-size="28" >40</text><text x="729.7" y="532.1" font-size="28" >-40</text><text x="791.7" y="532.1" font-size="28" >-20</text><text x="867.6" y="532.1" font-size="28" >0</text><text x="920.2" y="532.1" font-size="28" >20</text><text x="982.9" y="532.1" font-size="28" >40</text><text x="1050.9" y="532.1" font-size="28" >-40</text><text x="1112.5" y="532.1" font-size="28" >-20</text><text x="1187.1" y="532.1" font-size="28" >0</text><text x="1238.4" y="532.1" font-size="28" >20</text><text x="1299.9" y="532.1" font-size="28" >40</text><text x="579.8" y="568.1" font-size="30.4" >Time (minutes)</text><text transform="translate(25.8,289.1) rotate(-90) scale(1,1.07)" font-size="30">FBI</text></g></svg>
</body></html>
